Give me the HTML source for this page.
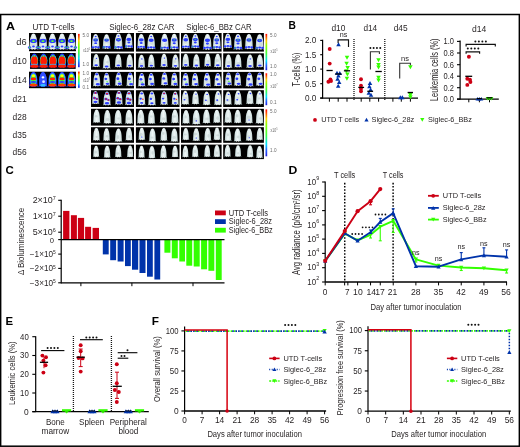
<!DOCTYPE html>
<html><head><meta charset="utf-8"><style>
html,body{margin:0;padding:0;background:#fff;}
svg{display:block;font-family:"Liberation Sans",sans-serif;will-change:transform;}
</style></head><body>
<svg width="520" height="447" viewBox="0 0 520 447">
<defs>
<linearGradient id="mg" x1="0" y1="0" x2="1" y2="0">
<stop offset="0" stop-color="#98aeae"/><stop offset="0.2" stop-color="#d4e2e2"/><stop offset="0.5" stop-color="#eef6f6"/><stop offset="0.8" stop-color="#d4e2e2"/><stop offset="1" stop-color="#98aeae"/>
</linearGradient>
<linearGradient id="cb" x1="0" y1="0" x2="0" y2="1">
<stop offset="0" stop-color="#ff0000"/><stop offset="0.08" stop-color="#ff5000"/><stop offset="0.2" stop-color="#ffd000"/><stop offset="0.32" stop-color="#90ff00"/><stop offset="0.55" stop-color="#40ff40"/><stop offset="0.74" stop-color="#00e0ff"/><stop offset="0.87" stop-color="#2060ff"/><stop offset="1" stop-color="#2020e0"/>
</linearGradient>
<filter id="soft" x="-5%" y="-5%" width="110%" height="110%"><feGaussianBlur stdDeviation="0.28"/></filter>
</defs>
<rect width="520" height="447" fill="#fff"/>
<rect x="0.65" y="14.5" width="518.7" height="431.7" fill="none" stroke="#000" stroke-width="1.5"/>
<text x="5.9" y="29.5" font-size="11.2" text-anchor="start" font-weight="bold" fill="#000"  textLength="9.01" lengthAdjust="spacingAndGlyphs">A</text>
<text x="32.4" y="30.2" font-size="8.58" text-anchor="start" font-weight="normal" fill="#231f20"  textLength="42.27" lengthAdjust="spacingAndGlyphs">UTD T-cells</text>
<text x="109.2" y="30.1" font-size="8.58" text-anchor="start" font-weight="normal" fill="#231f20"  textLength="65.37" lengthAdjust="spacingAndGlyphs">Siglec-6_28z CAR</text>
<text x="186.2" y="30.1" font-size="8.58" text-anchor="start" font-weight="normal" fill="#231f20"  textLength="65.37" lengthAdjust="spacingAndGlyphs">Siglec-6_BBz CAR</text>
<text x="26.6" y="44.8" font-size="8.8" text-anchor="end" font-weight="normal" fill="#231f20"  textLength="10.29" lengthAdjust="spacingAndGlyphs">d6</text>
<text x="26.6" y="63.8" font-size="8.8" text-anchor="end" font-weight="normal" fill="#231f20"  textLength="14.09" lengthAdjust="spacingAndGlyphs">d10</text>
<text x="26.6" y="83.2" font-size="8.8" text-anchor="end" font-weight="normal" fill="#231f20"  textLength="14.09" lengthAdjust="spacingAndGlyphs">d14</text>
<text x="26.6" y="101.9" font-size="8.8" text-anchor="end" font-weight="normal" fill="#231f20"  textLength="14.09" lengthAdjust="spacingAndGlyphs">d21</text>
<text x="26.6" y="120" font-size="8.8" text-anchor="end" font-weight="normal" fill="#231f20"  textLength="14.09" lengthAdjust="spacingAndGlyphs">d28</text>
<text x="26.6" y="137.7" font-size="8.8" text-anchor="end" font-weight="normal" fill="#231f20"  textLength="14.09" lengthAdjust="spacingAndGlyphs">d35</text>
<text x="26.6" y="154.5" font-size="8.8" text-anchor="end" font-weight="normal" fill="#231f20"  textLength="14.09" lengthAdjust="spacingAndGlyphs">d56</text>
<g filter="url(#soft)">
<rect x="91" y="33" width="43" height="18.6" fill="#000" />
<g transform="translate(95.67,34.05) scale(1.07,1.07)">
<path d="M0,0 C1.2,0 1.9,1 2.1,2.4 C2.7,3.2 3.1,5 3.3,7.5 C3.4,10 3.6,11.6 3.5,12.6 L4.1,13.9 L2.5,13.3 L1.1,14 L0,13.3 L-1.1,14 L-2.5,13.3 L-4.1,13.9 L-3.5,12.6 C-3.6,11.6 -3.4,10 -3.3,7.5 C-3.1,5 -2.7,3.2 -2.1,2.4 C-1.9,1 -1.2,0 0,0 Z" fill="url(#mg)"/>
<ellipse cx="0.01" cy="6.15" rx="1.35" ry="1.27" fill="#b4c4c4" opacity="0.45"/>
<ellipse cx="0" cy="5.6" rx="2.3" ry="1.6" fill="#2a3cff" opacity="1"/>
<ellipse cx="-2.6" cy="12.3" rx="1.3" ry="1" fill="#2a3cff" opacity="1"/>
<ellipse cx="2.6" cy="12.3" rx="1.3" ry="1" fill="#2a3cff" opacity="1"/>
<ellipse cx="0" cy="12" rx="1.4" ry="0.9" fill="#2a3cff" opacity="1"/>
<ellipse cx="0" cy="5.3" rx="0.8" ry="0.5" fill="#40ff40" opacity="0.9"/>
<ellipse cx="0" cy="8.5" rx="1.4" ry="0.9" fill="#2a3cff" opacity="1"/>
<ellipse cx="0" cy="2.2" rx="0.9" ry="0.7" fill="#2a3cff" opacity="1"/>
</g>
<g transform="translate(106.59,34.23) scale(1.05,1.05)">
<path d="M0,0 C1.2,0 1.9,1 2.1,2.4 C2.7,3.2 3.1,5 3.3,7.5 C3.4,10 3.6,11.6 3.5,12.6 L4.1,13.9 L2.5,13.3 L1.1,14 L0,13.3 L-1.1,14 L-2.5,13.3 L-4.1,13.9 L-3.5,12.6 C-3.6,11.6 -3.4,10 -3.3,7.5 C-3.1,5 -2.7,3.2 -2.1,2.4 C-1.9,1 -1.2,0 0,0 Z" fill="url(#mg)"/>
<ellipse cx="0.12" cy="7.59" rx="1.78" ry="1.25" fill="#b4c4c4" opacity="0.45"/>
<ellipse cx="0" cy="5.6" rx="2.3" ry="1.6" fill="#2a3cff" opacity="1"/>
<ellipse cx="-2.6" cy="12.3" rx="1.3" ry="1" fill="#2a3cff" opacity="1"/>
<ellipse cx="2.6" cy="12.3" rx="1.3" ry="1" fill="#2a3cff" opacity="1"/>
<ellipse cx="0" cy="12" rx="1.4" ry="0.9" fill="#2a3cff" opacity="1"/>
<ellipse cx="0" cy="5.3" rx="0.8" ry="0.5" fill="#40ff40" opacity="0.9"/>
<ellipse cx="-2.4" cy="12.3" rx="0.6" ry="0.5" fill="#40ff40" opacity="1"/>
</g>
<g transform="translate(118.44,33.54) scale(1.13,1.13)">
<path d="M0,0 C1.2,0 1.9,1 2.1,2.4 C2.7,3.2 3.1,5 3.3,7.5 C3.4,10 3.6,11.6 3.5,12.6 L4.1,13.9 L2.5,13.3 L1.1,14 L0,13.3 L-1.1,14 L-2.5,13.3 L-4.1,13.9 L-3.5,12.6 C-3.6,11.6 -3.4,10 -3.3,7.5 C-3.1,5 -2.7,3.2 -2.1,2.4 C-1.9,1 -1.2,0 0,0 Z" fill="url(#mg)"/>
<ellipse cx="0.13" cy="8.56" rx="1.3" ry="1.75" fill="#b4c4c4" opacity="0.45"/>
<ellipse cx="0" cy="5.6" rx="2.3" ry="1.6" fill="#2a3cff" opacity="1"/>
<ellipse cx="-2.6" cy="12.3" rx="1.3" ry="1" fill="#2a3cff" opacity="1"/>
<ellipse cx="2.6" cy="12.3" rx="1.3" ry="1" fill="#2a3cff" opacity="1"/>
<ellipse cx="0" cy="12" rx="1.4" ry="0.9" fill="#2a3cff" opacity="1"/>
<ellipse cx="0" cy="5.3" rx="0.8" ry="0.5" fill="#40ff40" opacity="0.9"/>
<ellipse cx="-2.4" cy="12.3" rx="0.6" ry="0.5" fill="#40ff40" opacity="1"/>
<ellipse cx="0" cy="2.2" rx="0.9" ry="0.7" fill="#2a3cff" opacity="1"/>
</g>
<g transform="translate(128.87,33.61) scale(1.04,1.04)">
<path d="M0,0 C1.2,0 1.9,1 2.1,2.4 C2.7,3.2 3.1,5 3.3,7.5 C3.4,10 3.6,11.6 3.5,12.6 L4.1,13.9 L2.5,13.3 L1.1,14 L0,13.3 L-1.1,14 L-2.5,13.3 L-4.1,13.9 L-3.5,12.6 C-3.6,11.6 -3.4,10 -3.3,7.5 C-3.1,5 -2.7,3.2 -2.1,2.4 C-1.9,1 -1.2,0 0,0 Z" fill="url(#mg)"/>
<ellipse cx="-0.07" cy="7.2" rx="1.64" ry="1.9" fill="#b4c4c4" opacity="0.45"/>
<ellipse cx="0" cy="5.6" rx="2.3" ry="1.6" fill="#2a3cff" opacity="1"/>
<ellipse cx="-2.6" cy="12.3" rx="1.3" ry="1" fill="#2a3cff" opacity="1"/>
<ellipse cx="2.6" cy="12.3" rx="1.3" ry="1" fill="#2a3cff" opacity="1"/>
<ellipse cx="0" cy="12" rx="1.4" ry="0.9" fill="#2a3cff" opacity="1"/>
<ellipse cx="-2.4" cy="12.3" rx="0.6" ry="0.5" fill="#40ff40" opacity="1"/>
<ellipse cx="0" cy="8.5" rx="1.4" ry="0.9" fill="#2a3cff" opacity="1"/>
</g>
<rect x="135.9" y="33" width="43.6" height="18.6" fill="#000" />
<g transform="translate(141.24,33.93) scale(1.06,1.06)">
<path d="M0,0 C1.2,0 1.9,1 2.1,2.4 C2.7,3.2 3.1,5 3.3,7.5 C3.4,10 3.6,11.6 3.5,12.6 L4.1,13.9 L2.5,13.3 L1.1,14 L0,13.3 L-1.1,14 L-2.5,13.3 L-4.1,13.9 L-3.5,12.6 C-3.6,11.6 -3.4,10 -3.3,7.5 C-3.1,5 -2.7,3.2 -2.1,2.4 C-1.9,1 -1.2,0 0,0 Z" fill="url(#mg)"/>
<ellipse cx="-0.61" cy="7.67" rx="1.61" ry="1.35" fill="#b4c4c4" opacity="0.45"/>
<ellipse cx="0" cy="5.6" rx="2.3" ry="1.6" fill="#2a3cff" opacity="1"/>
<ellipse cx="-2.6" cy="12.3" rx="1.3" ry="1" fill="#2a3cff" opacity="1"/>
<ellipse cx="2.6" cy="12.3" rx="1.3" ry="1" fill="#2a3cff" opacity="1"/>
<ellipse cx="0" cy="12" rx="1.4" ry="0.9" fill="#2a3cff" opacity="1"/>
<ellipse cx="0" cy="8.5" rx="1.4" ry="0.9" fill="#2a3cff" opacity="1"/>
</g>
<g transform="translate(151.17,34.07) scale(1.09,1.09)">
<path d="M0,0 C1.2,0 1.9,1 2.1,2.4 C2.7,3.2 3.1,5 3.3,7.5 C3.4,10 3.6,11.6 3.5,12.6 L4.1,13.9 L2.5,13.3 L1.1,14 L0,13.3 L-1.1,14 L-2.5,13.3 L-4.1,13.9 L-3.5,12.6 C-3.6,11.6 -3.4,10 -3.3,7.5 C-3.1,5 -2.7,3.2 -2.1,2.4 C-1.9,1 -1.2,0 0,0 Z" fill="url(#mg)"/>
<ellipse cx="0.31" cy="8.38" rx="1.46" ry="1.66" fill="#b4c4c4" opacity="0.45"/>
<ellipse cx="0" cy="5.6" rx="2.3" ry="1.6" fill="#2a3cff" opacity="1"/>
<ellipse cx="-2.6" cy="12.3" rx="1.3" ry="1" fill="#2a3cff" opacity="1"/>
<ellipse cx="2.6" cy="12.3" rx="1.3" ry="1" fill="#2a3cff" opacity="1"/>
<ellipse cx="0" cy="12" rx="1.4" ry="0.9" fill="#2a3cff" opacity="1"/>
<ellipse cx="0" cy="2.2" rx="0.9" ry="0.7" fill="#2a3cff" opacity="1"/>
</g>
<g transform="translate(164.64,33.87) scale(1.13,1.13)">
<path d="M0,0 C1.2,0 1.9,1 2.1,2.4 C2.7,3.2 3.1,5 3.3,7.5 C3.4,10 3.6,11.6 3.5,12.6 L4.1,13.9 L2.5,13.3 L1.1,14 L0,13.3 L-1.1,14 L-2.5,13.3 L-4.1,13.9 L-3.5,12.6 C-3.6,11.6 -3.4,10 -3.3,7.5 C-3.1,5 -2.7,3.2 -2.1,2.4 C-1.9,1 -1.2,0 0,0 Z" fill="url(#mg)"/>
<ellipse cx="0.79" cy="9.29" rx="1.23" ry="1.59" fill="#b4c4c4" opacity="0.45"/>
<ellipse cx="0" cy="5.6" rx="2.3" ry="1.6" fill="#2a3cff" opacity="1"/>
<ellipse cx="-2.6" cy="12.3" rx="1.3" ry="1" fill="#2a3cff" opacity="1"/>
<ellipse cx="2.6" cy="12.3" rx="1.3" ry="1" fill="#2a3cff" opacity="1"/>
<ellipse cx="0" cy="12" rx="1.4" ry="0.9" fill="#2a3cff" opacity="1"/>
<ellipse cx="-2.4" cy="12.3" rx="0.6" ry="0.5" fill="#40ff40" opacity="1"/>
</g>
<g transform="translate(174.25,33.86) scale(1.11,1.11)">
<path d="M0,0 C1.2,0 1.9,1 2.1,2.4 C2.7,3.2 3.1,5 3.3,7.5 C3.4,10 3.6,11.6 3.5,12.6 L4.1,13.9 L2.5,13.3 L1.1,14 L0,13.3 L-1.1,14 L-2.5,13.3 L-4.1,13.9 L-3.5,12.6 C-3.6,11.6 -3.4,10 -3.3,7.5 C-3.1,5 -2.7,3.2 -2.1,2.4 C-1.9,1 -1.2,0 0,0 Z" fill="url(#mg)"/>
<ellipse cx="-0.59" cy="6.99" rx="1.31" ry="2.07" fill="#b4c4c4" opacity="0.45"/>
<ellipse cx="0" cy="5.6" rx="2.3" ry="1.6" fill="#2a3cff" opacity="1"/>
<ellipse cx="-2.6" cy="12.3" rx="1.3" ry="1" fill="#2a3cff" opacity="1"/>
<ellipse cx="2.6" cy="12.3" rx="1.3" ry="1" fill="#2a3cff" opacity="1"/>
<ellipse cx="0" cy="12" rx="1.4" ry="0.9" fill="#2a3cff" opacity="1"/>
<ellipse cx="0" cy="5.3" rx="0.8" ry="0.5" fill="#40ff40" opacity="0.9"/>
<ellipse cx="-2.4" cy="12.3" rx="0.6" ry="0.5" fill="#40ff40" opacity="1"/>
<ellipse cx="0" cy="8.5" rx="1.4" ry="0.9" fill="#2a3cff" opacity="1"/>
</g>
<rect x="181" y="33" width="40.6" height="18.6" fill="#000" />
<g transform="translate(185.8,33.95) scale(1.04,1.04)">
<path d="M0,0 C1.2,0 1.9,1 2.1,2.4 C2.7,3.2 3.1,5 3.3,7.5 C3.4,10 3.6,11.6 3.5,12.6 L4.1,13.9 L2.5,13.3 L1.1,14 L0,13.3 L-1.1,14 L-2.5,13.3 L-4.1,13.9 L-3.5,12.6 C-3.6,11.6 -3.4,10 -3.3,7.5 C-3.1,5 -2.7,3.2 -2.1,2.4 C-1.9,1 -1.2,0 0,0 Z" fill="url(#mg)"/>
<ellipse cx="-0.14" cy="7.44" rx="1.71" ry="2.16" fill="#b4c4c4" opacity="0.45"/>
<ellipse cx="0" cy="5.6" rx="2.3" ry="1.6" fill="#2a3cff" opacity="1"/>
<ellipse cx="-2.6" cy="12.3" rx="1.3" ry="1" fill="#2a3cff" opacity="1"/>
<ellipse cx="2.6" cy="12.3" rx="1.3" ry="1" fill="#2a3cff" opacity="1"/>
<ellipse cx="0" cy="12" rx="1.4" ry="0.9" fill="#2a3cff" opacity="1"/>
<ellipse cx="0" cy="2.2" rx="0.9" ry="0.7" fill="#2a3cff" opacity="1"/>
</g>
<g transform="translate(195.37,33.63) scale(1.05,1.05)">
<path d="M0,0 C1.2,0 1.9,1 2.1,2.4 C2.7,3.2 3.1,5 3.3,7.5 C3.4,10 3.6,11.6 3.5,12.6 L4.1,13.9 L2.5,13.3 L1.1,14 L0,13.3 L-1.1,14 L-2.5,13.3 L-4.1,13.9 L-3.5,12.6 C-3.6,11.6 -3.4,10 -3.3,7.5 C-3.1,5 -2.7,3.2 -2.1,2.4 C-1.9,1 -1.2,0 0,0 Z" fill="url(#mg)"/>
<ellipse cx="-0.79" cy="7.68" rx="1.3" ry="1.77" fill="#b4c4c4" opacity="0.45"/>
<ellipse cx="0" cy="5.6" rx="2.3" ry="1.6" fill="#2a3cff" opacity="1"/>
<ellipse cx="-2.6" cy="12.3" rx="1.3" ry="1" fill="#2a3cff" opacity="1"/>
<ellipse cx="2.6" cy="12.3" rx="1.3" ry="1" fill="#2a3cff" opacity="1"/>
<ellipse cx="0" cy="12" rx="1.4" ry="0.9" fill="#2a3cff" opacity="1"/>
<ellipse cx="0" cy="5.3" rx="0.8" ry="0.5" fill="#40ff40" opacity="0.9"/>
<ellipse cx="-2.4" cy="12.3" rx="0.6" ry="0.5" fill="#40ff40" opacity="1"/>
<ellipse cx="0" cy="8.5" rx="1.4" ry="0.9" fill="#2a3cff" opacity="1"/>
<ellipse cx="0" cy="2.2" rx="0.9" ry="0.7" fill="#2a3cff" opacity="1"/>
</g>
<g transform="translate(207.45,33.92) scale(1.14,1.14)">
<path d="M0,0 C1.2,0 1.9,1 2.1,2.4 C2.7,3.2 3.1,5 3.3,7.5 C3.4,10 3.6,11.6 3.5,12.6 L4.1,13.9 L2.5,13.3 L1.1,14 L0,13.3 L-1.1,14 L-2.5,13.3 L-4.1,13.9 L-3.5,12.6 C-3.6,11.6 -3.4,10 -3.3,7.5 C-3.1,5 -2.7,3.2 -2.1,2.4 C-1.9,1 -1.2,0 0,0 Z" fill="url(#mg)"/>
<ellipse cx="0.45" cy="9.5" rx="1.64" ry="1.59" fill="#b4c4c4" opacity="0.45"/>
<ellipse cx="0" cy="5.6" rx="2.3" ry="1.6" fill="#2a3cff" opacity="1"/>
<ellipse cx="-2.6" cy="12.3" rx="1.3" ry="1" fill="#2a3cff" opacity="1"/>
<ellipse cx="2.6" cy="12.3" rx="1.3" ry="1" fill="#2a3cff" opacity="1"/>
<ellipse cx="0" cy="12" rx="1.4" ry="0.9" fill="#2a3cff" opacity="1"/>
<ellipse cx="0" cy="8.5" rx="1.4" ry="0.9" fill="#2a3cff" opacity="1"/>
</g>
<g transform="translate(216.78,34.03) scale(1.08,1.08)">
<path d="M0,0 C1.2,0 1.9,1 2.1,2.4 C2.7,3.2 3.1,5 3.3,7.5 C3.4,10 3.6,11.6 3.5,12.6 L4.1,13.9 L2.5,13.3 L1.1,14 L0,13.3 L-1.1,14 L-2.5,13.3 L-4.1,13.9 L-3.5,12.6 C-3.6,11.6 -3.4,10 -3.3,7.5 C-3.1,5 -2.7,3.2 -2.1,2.4 C-1.9,1 -1.2,0 0,0 Z" fill="url(#mg)"/>
<ellipse cx="-0.26" cy="6.21" rx="1" ry="1.35" fill="#b4c4c4" opacity="0.45"/>
<ellipse cx="0" cy="5.6" rx="2.3" ry="1.6" fill="#2a3cff" opacity="1"/>
<ellipse cx="-2.6" cy="12.3" rx="1.3" ry="1" fill="#2a3cff" opacity="1"/>
<ellipse cx="2.6" cy="12.3" rx="1.3" ry="1" fill="#2a3cff" opacity="1"/>
<ellipse cx="0" cy="12" rx="1.4" ry="0.9" fill="#2a3cff" opacity="1"/>
<ellipse cx="0" cy="5.3" rx="0.8" ry="0.5" fill="#40ff40" opacity="0.9"/>
<ellipse cx="-2.4" cy="12.3" rx="0.6" ry="0.5" fill="#40ff40" opacity="1"/>
<ellipse cx="0" cy="8.5" rx="1.4" ry="0.9" fill="#2a3cff" opacity="1"/>
<ellipse cx="0" cy="2.2" rx="0.9" ry="0.7" fill="#2a3cff" opacity="1"/>
</g>
<rect x="223.2" y="33" width="40.7" height="18.6" fill="#000" />
<g transform="translate(227.89,33.43) scale(1.05,1.05)">
<path d="M0,0 C1.2,0 1.9,1 2.1,2.4 C2.7,3.2 3.1,5 3.3,7.5 C3.4,10 3.6,11.6 3.5,12.6 L4.1,13.9 L2.5,13.3 L1.1,14 L0,13.3 L-1.1,14 L-2.5,13.3 L-4.1,13.9 L-3.5,12.6 C-3.6,11.6 -3.4,10 -3.3,7.5 C-3.1,5 -2.7,3.2 -2.1,2.4 C-1.9,1 -1.2,0 0,0 Z" fill="url(#mg)"/>
<ellipse cx="-0.24" cy="7.46" rx="1.1" ry="2.05" fill="#b4c4c4" opacity="0.45"/>
<ellipse cx="0" cy="5.6" rx="2.3" ry="1.6" fill="#2a3cff" opacity="1"/>
<ellipse cx="-2.6" cy="12.3" rx="1.3" ry="1" fill="#2a3cff" opacity="1"/>
<ellipse cx="2.6" cy="12.3" rx="1.3" ry="1" fill="#2a3cff" opacity="1"/>
<ellipse cx="0" cy="12" rx="1.4" ry="0.9" fill="#2a3cff" opacity="1"/>
<ellipse cx="0" cy="8.5" rx="1.4" ry="0.9" fill="#2a3cff" opacity="1"/>
<ellipse cx="0" cy="2.2" rx="0.9" ry="0.7" fill="#2a3cff" opacity="1"/>
</g>
<g transform="translate(238.01,33.88) scale(1.14,1.14)">
<path d="M0,0 C1.2,0 1.9,1 2.1,2.4 C2.7,3.2 3.1,5 3.3,7.5 C3.4,10 3.6,11.6 3.5,12.6 L4.1,13.9 L2.5,13.3 L1.1,14 L0,13.3 L-1.1,14 L-2.5,13.3 L-4.1,13.9 L-3.5,12.6 C-3.6,11.6 -3.4,10 -3.3,7.5 C-3.1,5 -2.7,3.2 -2.1,2.4 C-1.9,1 -1.2,0 0,0 Z" fill="url(#mg)"/>
<ellipse cx="0.53" cy="6.65" rx="1.02" ry="2.15" fill="#b4c4c4" opacity="0.45"/>
<ellipse cx="0" cy="5.6" rx="2.3" ry="1.6" fill="#2a3cff" opacity="1"/>
<ellipse cx="-2.6" cy="12.3" rx="1.3" ry="1" fill="#2a3cff" opacity="1"/>
<ellipse cx="2.6" cy="12.3" rx="1.3" ry="1" fill="#2a3cff" opacity="1"/>
<ellipse cx="0" cy="12" rx="1.4" ry="0.9" fill="#2a3cff" opacity="1"/>
<ellipse cx="0" cy="5.3" rx="0.8" ry="0.5" fill="#40ff40" opacity="0.9"/>
<ellipse cx="-2.4" cy="12.3" rx="0.6" ry="0.5" fill="#40ff40" opacity="1"/>
<ellipse cx="0" cy="8.5" rx="1.4" ry="0.9" fill="#2a3cff" opacity="1"/>
<ellipse cx="0" cy="2.2" rx="0.9" ry="0.7" fill="#2a3cff" opacity="1"/>
</g>
<g transform="translate(248.96,33.94) scale(1.09,1.09)">
<path d="M0,0 C1.2,0 1.9,1 2.1,2.4 C2.7,3.2 3.1,5 3.3,7.5 C3.4,10 3.6,11.6 3.5,12.6 L4.1,13.9 L2.5,13.3 L1.1,14 L0,13.3 L-1.1,14 L-2.5,13.3 L-4.1,13.9 L-3.5,12.6 C-3.6,11.6 -3.4,10 -3.3,7.5 C-3.1,5 -2.7,3.2 -2.1,2.4 C-1.9,1 -1.2,0 0,0 Z" fill="url(#mg)"/>
<ellipse cx="0.31" cy="7.04" rx="1.29" ry="1.37" fill="#b4c4c4" opacity="0.45"/>
<ellipse cx="0" cy="5.6" rx="2.3" ry="1.6" fill="#2a3cff" opacity="1"/>
<ellipse cx="-2.6" cy="12.3" rx="1.3" ry="1" fill="#2a3cff" opacity="1"/>
<ellipse cx="2.6" cy="12.3" rx="1.3" ry="1" fill="#2a3cff" opacity="1"/>
<ellipse cx="0" cy="12" rx="1.4" ry="0.9" fill="#2a3cff" opacity="1"/>
<ellipse cx="0" cy="5.3" rx="0.8" ry="0.5" fill="#40ff40" opacity="0.9"/>
</g>
<g transform="translate(259.67,34.18) scale(1.12,1.12)">
<path d="M0,0 C1.2,0 1.9,1 2.1,2.4 C2.7,3.2 3.1,5 3.3,7.5 C3.4,10 3.6,11.6 3.5,12.6 L4.1,13.9 L2.5,13.3 L1.1,14 L0,13.3 L-1.1,14 L-2.5,13.3 L-4.1,13.9 L-3.5,12.6 C-3.6,11.6 -3.4,10 -3.3,7.5 C-3.1,5 -2.7,3.2 -2.1,2.4 C-1.9,1 -1.2,0 0,0 Z" fill="url(#mg)"/>
<ellipse cx="0.56" cy="9.22" rx="1.65" ry="1.94" fill="#b4c4c4" opacity="0.45"/>
<ellipse cx="0" cy="5.6" rx="2.3" ry="1.6" fill="#2a3cff" opacity="1"/>
<ellipse cx="-2.6" cy="12.3" rx="1.3" ry="1" fill="#2a3cff" opacity="1"/>
<ellipse cx="2.6" cy="12.3" rx="1.3" ry="1" fill="#2a3cff" opacity="1"/>
<ellipse cx="0" cy="12" rx="1.4" ry="0.9" fill="#2a3cff" opacity="1"/>
<ellipse cx="0" cy="5.3" rx="0.8" ry="0.5" fill="#40ff40" opacity="0.9"/>
<ellipse cx="-2.4" cy="12.3" rx="0.6" ry="0.5" fill="#40ff40" opacity="1"/>
</g>
<rect x="91" y="53.3" width="43" height="16.5" fill="#000" />
<g transform="translate(96.18,54.06) scale(0.94,0.94)">
<path d="M0,0 C1.2,0 1.9,1 2.1,2.4 C2.7,3.2 3.1,5 3.3,7.5 C3.4,10 3.6,11.6 3.5,12.6 L4.1,13.9 L2.5,13.3 L1.1,14 L0,13.3 L-1.1,14 L-2.5,13.3 L-4.1,13.9 L-3.5,12.6 C-3.6,11.6 -3.4,10 -3.3,7.5 C-3.1,5 -2.7,3.2 -2.1,2.4 C-1.9,1 -1.2,0 0,0 Z" fill="url(#mg)"/>
<ellipse cx="-0.76" cy="7.12" rx="1.21" ry="1.89" fill="#b4c4c4" opacity="0.45"/>
<ellipse cx="0" cy="11.8" rx="1.9" ry="1" fill="#2a3cff" opacity="1"/>
<ellipse cx="0.3" cy="4.5" rx="0.8" ry="0.7" fill="#2a3cff" opacity="1"/>
</g>
<g transform="translate(106.62,54.64) scale(1.01,1.01)">
<path d="M0,0 C1.2,0 1.9,1 2.1,2.4 C2.7,3.2 3.1,5 3.3,7.5 C3.4,10 3.6,11.6 3.5,12.6 L4.1,13.9 L2.5,13.3 L1.1,14 L0,13.3 L-1.1,14 L-2.5,13.3 L-4.1,13.9 L-3.5,12.6 C-3.6,11.6 -3.4,10 -3.3,7.5 C-3.1,5 -2.7,3.2 -2.1,2.4 C-1.9,1 -1.2,0 0,0 Z" fill="url(#mg)"/>
<ellipse cx="0.73" cy="7.46" rx="1.18" ry="1.43" fill="#b4c4c4" opacity="0.45"/>
<ellipse cx="0" cy="11.8" rx="1.9" ry="1" fill="#2a3cff" opacity="1"/>
</g>
<g transform="translate(118.32,54.32) scale(0.94,0.94)">
<path d="M0,0 C1.2,0 1.9,1 2.1,2.4 C2.7,3.2 3.1,5 3.3,7.5 C3.4,10 3.6,11.6 3.5,12.6 L4.1,13.9 L2.5,13.3 L1.1,14 L0,13.3 L-1.1,14 L-2.5,13.3 L-4.1,13.9 L-3.5,12.6 C-3.6,11.6 -3.4,10 -3.3,7.5 C-3.1,5 -2.7,3.2 -2.1,2.4 C-1.9,1 -1.2,0 0,0 Z" fill="url(#mg)"/>
<ellipse cx="0.54" cy="7.92" rx="1.52" ry="2" fill="#b4c4c4" opacity="0.45"/>
<ellipse cx="0" cy="11.8" rx="1.9" ry="1" fill="#2a3cff" opacity="1"/>
</g>
<g transform="translate(129.71,54.61) scale(0.93,0.93)">
<path d="M0,0 C1.2,0 1.9,1 2.1,2.4 C2.7,3.2 3.1,5 3.3,7.5 C3.4,10 3.6,11.6 3.5,12.6 L4.1,13.9 L2.5,13.3 L1.1,14 L0,13.3 L-1.1,14 L-2.5,13.3 L-4.1,13.9 L-3.5,12.6 C-3.6,11.6 -3.4,10 -3.3,7.5 C-3.1,5 -2.7,3.2 -2.1,2.4 C-1.9,1 -1.2,0 0,0 Z" fill="url(#mg)"/>
<ellipse cx="0.4" cy="7.91" rx="1.14" ry="1.99" fill="#b4c4c4" opacity="0.45"/>
<ellipse cx="0" cy="11.8" rx="1.9" ry="1" fill="#2a3cff" opacity="1"/>
</g>
<rect x="135.9" y="53.3" width="43.6" height="16.5" fill="#000" />
<g transform="translate(141.55,54.67) scale(0.95,0.95)">
<path d="M0,0 C1.2,0 1.9,1 2.1,2.4 C2.7,3.2 3.1,5 3.3,7.5 C3.4,10 3.6,11.6 3.5,12.6 L4.1,13.9 L2.5,13.3 L1.1,14 L0,13.3 L-1.1,14 L-2.5,13.3 L-4.1,13.9 L-3.5,12.6 C-3.6,11.6 -3.4,10 -3.3,7.5 C-3.1,5 -2.7,3.2 -2.1,2.4 C-1.9,1 -1.2,0 0,0 Z" fill="url(#mg)"/>
<ellipse cx="-0.16" cy="9.79" rx="1.58" ry="1.37" fill="#b4c4c4" opacity="0.45"/>
<ellipse cx="0" cy="11.8" rx="1.9" ry="1" fill="#2a3cff" opacity="1"/>
<ellipse cx="0.3" cy="4.5" rx="0.8" ry="0.7" fill="#2a3cff" opacity="1"/>
</g>
<g transform="translate(151.33,54.6) scale(0.93,0.93)">
<path d="M0,0 C1.2,0 1.9,1 2.1,2.4 C2.7,3.2 3.1,5 3.3,7.5 C3.4,10 3.6,11.6 3.5,12.6 L4.1,13.9 L2.5,13.3 L1.1,14 L0,13.3 L-1.1,14 L-2.5,13.3 L-4.1,13.9 L-3.5,12.6 C-3.6,11.6 -3.4,10 -3.3,7.5 C-3.1,5 -2.7,3.2 -2.1,2.4 C-1.9,1 -1.2,0 0,0 Z" fill="url(#mg)"/>
<ellipse cx="-0.57" cy="9.31" rx="1.78" ry="1.86" fill="#b4c4c4" opacity="0.45"/>
<ellipse cx="0" cy="11.8" rx="1.9" ry="1" fill="#2a3cff" opacity="1"/>
</g>
<g transform="translate(164.09,53.83) scale(0.95,0.95)">
<path d="M0,0 C1.2,0 1.9,1 2.1,2.4 C2.7,3.2 3.1,5 3.3,7.5 C3.4,10 3.6,11.6 3.5,12.6 L4.1,13.9 L2.5,13.3 L1.1,14 L0,13.3 L-1.1,14 L-2.5,13.3 L-4.1,13.9 L-3.5,12.6 C-3.6,11.6 -3.4,10 -3.3,7.5 C-3.1,5 -2.7,3.2 -2.1,2.4 C-1.9,1 -1.2,0 0,0 Z" fill="url(#mg)"/>
<ellipse cx="0.75" cy="8.6" rx="1.42" ry="2.13" fill="#b4c4c4" opacity="0.45"/>
<ellipse cx="0" cy="11.8" rx="1.9" ry="1" fill="#2a3cff" opacity="1"/>
<ellipse cx="0.3" cy="4.5" rx="0.8" ry="0.7" fill="#2a3cff" opacity="1"/>
</g>
<g transform="translate(175.44,54.53) scale(0.96,0.96)">
<path d="M0,0 C1.2,0 1.9,1 2.1,2.4 C2.7,3.2 3.1,5 3.3,7.5 C3.4,10 3.6,11.6 3.5,12.6 L4.1,13.9 L2.5,13.3 L1.1,14 L0,13.3 L-1.1,14 L-2.5,13.3 L-4.1,13.9 L-3.5,12.6 C-3.6,11.6 -3.4,10 -3.3,7.5 C-3.1,5 -2.7,3.2 -2.1,2.4 C-1.9,1 -1.2,0 0,0 Z" fill="url(#mg)"/>
<ellipse cx="-0.4" cy="7.17" rx="1.19" ry="1.79" fill="#b4c4c4" opacity="0.45"/>
<ellipse cx="0" cy="11.8" rx="1.9" ry="1" fill="#2a3cff" opacity="1"/>
<ellipse cx="0.3" cy="4.5" rx="0.8" ry="0.7" fill="#2a3cff" opacity="1"/>
</g>
<rect x="181" y="53.3" width="40.6" height="16.5" fill="#000" />
<g transform="translate(185.76,53.83) scale(0.94,0.94)">
<path d="M0,0 C1.2,0 1.9,1 2.1,2.4 C2.7,3.2 3.1,5 3.3,7.5 C3.4,10 3.6,11.6 3.5,12.6 L4.1,13.9 L2.5,13.3 L1.1,14 L0,13.3 L-1.1,14 L-2.5,13.3 L-4.1,13.9 L-3.5,12.6 C-3.6,11.6 -3.4,10 -3.3,7.5 C-3.1,5 -2.7,3.2 -2.1,2.4 C-1.9,1 -1.2,0 0,0 Z" fill="url(#mg)"/>
<ellipse cx="-0.23" cy="7.83" rx="1.47" ry="2.1" fill="#b4c4c4" opacity="0.45"/>
<ellipse cx="0" cy="11.8" rx="1.9" ry="1" fill="#2a3cff" opacity="1"/>
</g>
<g transform="translate(196.4,54.2) scale(0.96,0.96)">
<path d="M0,0 C1.2,0 1.9,1 2.1,2.4 C2.7,3.2 3.1,5 3.3,7.5 C3.4,10 3.6,11.6 3.5,12.6 L4.1,13.9 L2.5,13.3 L1.1,14 L0,13.3 L-1.1,14 L-2.5,13.3 L-4.1,13.9 L-3.5,12.6 C-3.6,11.6 -3.4,10 -3.3,7.5 C-3.1,5 -2.7,3.2 -2.1,2.4 C-1.9,1 -1.2,0 0,0 Z" fill="url(#mg)"/>
<ellipse cx="0.04" cy="6.07" rx="1.35" ry="1.38" fill="#b4c4c4" opacity="0.45"/>
<ellipse cx="0" cy="11.8" rx="1.9" ry="1" fill="#2a3cff" opacity="1"/>
</g>
<g transform="translate(207.61,53.87) scale(0.92,0.92)">
<path d="M0,0 C1.2,0 1.9,1 2.1,2.4 C2.7,3.2 3.1,5 3.3,7.5 C3.4,10 3.6,11.6 3.5,12.6 L4.1,13.9 L2.5,13.3 L1.1,14 L0,13.3 L-1.1,14 L-2.5,13.3 L-4.1,13.9 L-3.5,12.6 C-3.6,11.6 -3.4,10 -3.3,7.5 C-3.1,5 -2.7,3.2 -2.1,2.4 C-1.9,1 -1.2,0 0,0 Z" fill="url(#mg)"/>
<ellipse cx="0.36" cy="8.23" rx="1.26" ry="1.72" fill="#b4c4c4" opacity="0.45"/>
<ellipse cx="0" cy="11.8" rx="1.9" ry="1" fill="#2a3cff" opacity="1"/>
</g>
<g transform="translate(217.73,53.81) scale(0.97,0.97)">
<path d="M0,0 C1.2,0 1.9,1 2.1,2.4 C2.7,3.2 3.1,5 3.3,7.5 C3.4,10 3.6,11.6 3.5,12.6 L4.1,13.9 L2.5,13.3 L1.1,14 L0,13.3 L-1.1,14 L-2.5,13.3 L-4.1,13.9 L-3.5,12.6 C-3.6,11.6 -3.4,10 -3.3,7.5 C-3.1,5 -2.7,3.2 -2.1,2.4 C-1.9,1 -1.2,0 0,0 Z" fill="url(#mg)"/>
<ellipse cx="-0.4" cy="7.11" rx="1.62" ry="1.71" fill="#b4c4c4" opacity="0.45"/>
<ellipse cx="0" cy="11.8" rx="1.9" ry="1" fill="#2a3cff" opacity="1"/>
</g>
<rect x="223.2" y="53.3" width="40.7" height="16.5" fill="#000" />
<g transform="translate(228.45,54.61) scale(0.97,0.97)">
<path d="M0,0 C1.2,0 1.9,1 2.1,2.4 C2.7,3.2 3.1,5 3.3,7.5 C3.4,10 3.6,11.6 3.5,12.6 L4.1,13.9 L2.5,13.3 L1.1,14 L0,13.3 L-1.1,14 L-2.5,13.3 L-4.1,13.9 L-3.5,12.6 C-3.6,11.6 -3.4,10 -3.3,7.5 C-3.1,5 -2.7,3.2 -2.1,2.4 C-1.9,1 -1.2,0 0,0 Z" fill="url(#mg)"/>
<ellipse cx="0.18" cy="8.02" rx="1.41" ry="1.89" fill="#b4c4c4" opacity="0.45"/>
<ellipse cx="0" cy="11.8" rx="1.9" ry="1" fill="#2a3cff" opacity="1"/>
</g>
<g transform="translate(238.1,54.18) scale(0.96,0.96)">
<path d="M0,0 C1.2,0 1.9,1 2.1,2.4 C2.7,3.2 3.1,5 3.3,7.5 C3.4,10 3.6,11.6 3.5,12.6 L4.1,13.9 L2.5,13.3 L1.1,14 L0,13.3 L-1.1,14 L-2.5,13.3 L-4.1,13.9 L-3.5,12.6 C-3.6,11.6 -3.4,10 -3.3,7.5 C-3.1,5 -2.7,3.2 -2.1,2.4 C-1.9,1 -1.2,0 0,0 Z" fill="url(#mg)"/>
<ellipse cx="0.32" cy="9.51" rx="1.75" ry="1.46" fill="#b4c4c4" opacity="0.45"/>
<ellipse cx="0" cy="11.8" rx="1.9" ry="1" fill="#2a3cff" opacity="1"/>
</g>
<g transform="translate(250.07,54.54) scale(0.97,0.97)">
<path d="M0,0 C1.2,0 1.9,1 2.1,2.4 C2.7,3.2 3.1,5 3.3,7.5 C3.4,10 3.6,11.6 3.5,12.6 L4.1,13.9 L2.5,13.3 L1.1,14 L0,13.3 L-1.1,14 L-2.5,13.3 L-4.1,13.9 L-3.5,12.6 C-3.6,11.6 -3.4,10 -3.3,7.5 C-3.1,5 -2.7,3.2 -2.1,2.4 C-1.9,1 -1.2,0 0,0 Z" fill="url(#mg)"/>
<ellipse cx="-0.61" cy="7.77" rx="1.06" ry="1.44" fill="#b4c4c4" opacity="0.45"/>
<ellipse cx="0" cy="11.8" rx="1.9" ry="1" fill="#2a3cff" opacity="1"/>
<ellipse cx="0.3" cy="4.5" rx="0.8" ry="0.7" fill="#2a3cff" opacity="1"/>
</g>
<g transform="translate(259.86,54.48) scale(0.93,0.93)">
<path d="M0,0 C1.2,0 1.9,1 2.1,2.4 C2.7,3.2 3.1,5 3.3,7.5 C3.4,10 3.6,11.6 3.5,12.6 L4.1,13.9 L2.5,13.3 L1.1,14 L0,13.3 L-1.1,14 L-2.5,13.3 L-4.1,13.9 L-3.5,12.6 C-3.6,11.6 -3.4,10 -3.3,7.5 C-3.1,5 -2.7,3.2 -2.1,2.4 C-1.9,1 -1.2,0 0,0 Z" fill="url(#mg)"/>
<ellipse cx="-0.55" cy="8.86" rx="1.53" ry="1.34" fill="#b4c4c4" opacity="0.45"/>
<ellipse cx="0" cy="11.8" rx="1.9" ry="1" fill="#2a3cff" opacity="1"/>
</g>
<rect x="91" y="71.9" width="43" height="16.5" fill="#000" />
<g transform="translate(96.81,72.52) scale(1,1)">
<path d="M0,0 C1.2,0 1.9,1 2.1,2.4 C2.7,3.2 3.1,5 3.3,7.5 C3.4,10 3.6,11.6 3.5,12.6 L4.1,13.9 L2.5,13.3 L1.1,14 L0,13.3 L-1.1,14 L-2.5,13.3 L-4.1,13.9 L-3.5,12.6 C-3.6,11.6 -3.4,10 -3.3,7.5 C-3.1,5 -2.7,3.2 -2.1,2.4 C-1.9,1 -1.2,0 0,0 Z" fill="url(#mg)"/>
<ellipse cx="-0.16" cy="7.95" rx="1.79" ry="2.03" fill="#b4c4c4" opacity="0.45"/>
<ellipse cx="0" cy="1.8" rx="1.6" ry="1.1" fill="#2a3cff" opacity="1"/>
<ellipse cx="-0.8" cy="6.5" rx="1.5" ry="1.3" fill="#2a3cff" opacity="1"/>
<ellipse cx="1" cy="11.8" rx="2.1" ry="1.2" fill="#2a3cff" opacity="1"/>
</g>
<g transform="translate(106.6,72.82) scale(0.93,0.93)">
<path d="M0,0 C1.2,0 1.9,1 2.1,2.4 C2.7,3.2 3.1,5 3.3,7.5 C3.4,10 3.6,11.6 3.5,12.6 L4.1,13.9 L2.5,13.3 L1.1,14 L0,13.3 L-1.1,14 L-2.5,13.3 L-4.1,13.9 L-3.5,12.6 C-3.6,11.6 -3.4,10 -3.3,7.5 C-3.1,5 -2.7,3.2 -2.1,2.4 C-1.9,1 -1.2,0 0,0 Z" fill="url(#mg)"/>
<ellipse cx="-0.49" cy="7.27" rx="1.58" ry="1.22" fill="#b4c4c4" opacity="0.45"/>
<ellipse cx="0" cy="1.8" rx="1.6" ry="1.1" fill="#2a3cff" opacity="1"/>
<ellipse cx="-0.8" cy="6.5" rx="1.5" ry="1.3" fill="#2a3cff" opacity="1"/>
<ellipse cx="1" cy="11.8" rx="2.1" ry="1.2" fill="#2a3cff" opacity="1"/>
<ellipse cx="0.5" cy="9.5" rx="0.8" ry="0.6" fill="#40ff40" opacity="1"/>
</g>
<g transform="translate(118.65,72.32) scale(0.97,0.97)">
<path d="M0,0 C1.2,0 1.9,1 2.1,2.4 C2.7,3.2 3.1,5 3.3,7.5 C3.4,10 3.6,11.6 3.5,12.6 L4.1,13.9 L2.5,13.3 L1.1,14 L0,13.3 L-1.1,14 L-2.5,13.3 L-4.1,13.9 L-3.5,12.6 C-3.6,11.6 -3.4,10 -3.3,7.5 C-3.1,5 -2.7,3.2 -2.1,2.4 C-1.9,1 -1.2,0 0,0 Z" fill="url(#mg)"/>
<ellipse cx="0.2" cy="8.05" rx="1.05" ry="2.19" fill="#b4c4c4" opacity="0.45"/>
<ellipse cx="0" cy="1.8" rx="1.6" ry="1.1" fill="#2a3cff" opacity="1"/>
<ellipse cx="-0.8" cy="6.5" rx="1.5" ry="1.3" fill="#2a3cff" opacity="1"/>
<ellipse cx="1" cy="11.8" rx="2.1" ry="1.2" fill="#2a3cff" opacity="1"/>
<ellipse cx="0.5" cy="9.5" rx="0.8" ry="0.6" fill="#40ff40" opacity="1"/>
</g>
<g transform="translate(130.15,72.4) scale(0.99,0.99)">
<path d="M0,0 C1.2,0 1.9,1 2.1,2.4 C2.7,3.2 3.1,5 3.3,7.5 C3.4,10 3.6,11.6 3.5,12.6 L4.1,13.9 L2.5,13.3 L1.1,14 L0,13.3 L-1.1,14 L-2.5,13.3 L-4.1,13.9 L-3.5,12.6 C-3.6,11.6 -3.4,10 -3.3,7.5 C-3.1,5 -2.7,3.2 -2.1,2.4 C-1.9,1 -1.2,0 0,0 Z" fill="url(#mg)"/>
<ellipse cx="-0.74" cy="9.12" rx="1.22" ry="1.33" fill="#b4c4c4" opacity="0.45"/>
<ellipse cx="0" cy="1.8" rx="1.6" ry="1.1" fill="#2a3cff" opacity="1"/>
<ellipse cx="-0.8" cy="6.5" rx="1.5" ry="1.3" fill="#2a3cff" opacity="1"/>
<ellipse cx="1" cy="11.8" rx="2.1" ry="1.2" fill="#2a3cff" opacity="1"/>
<ellipse cx="0.5" cy="9.5" rx="0.8" ry="0.6" fill="#40ff40" opacity="1"/>
</g>
<rect x="135.9" y="71.9" width="43.6" height="16.5" fill="#000" />
<g transform="translate(141.71,73.12) scale(0.96,0.96)">
<path d="M0,0 C1.2,0 1.9,1 2.1,2.4 C2.7,3.2 3.1,5 3.3,7.5 C3.4,10 3.6,11.6 3.5,12.6 L4.1,13.9 L2.5,13.3 L1.1,14 L0,13.3 L-1.1,14 L-2.5,13.3 L-4.1,13.9 L-3.5,12.6 C-3.6,11.6 -3.4,10 -3.3,7.5 C-3.1,5 -2.7,3.2 -2.1,2.4 C-1.9,1 -1.2,0 0,0 Z" fill="url(#mg)"/>
<ellipse cx="-0.56" cy="9.68" rx="1.46" ry="1.9" fill="#b4c4c4" opacity="0.45"/>
<ellipse cx="0" cy="1.8" rx="1.6" ry="1.1" fill="#2a3cff" opacity="1"/>
<ellipse cx="-0.8" cy="6.5" rx="1.5" ry="1.3" fill="#2a3cff" opacity="1"/>
<ellipse cx="1" cy="11.8" rx="2.1" ry="1.2" fill="#2a3cff" opacity="1"/>
<ellipse cx="0.5" cy="9.5" rx="0.8" ry="0.6" fill="#40ff40" opacity="1"/>
</g>
<g transform="translate(151.19,72.99) scale(0.93,0.93)">
<path d="M0,0 C1.2,0 1.9,1 2.1,2.4 C2.7,3.2 3.1,5 3.3,7.5 C3.4,10 3.6,11.6 3.5,12.6 L4.1,13.9 L2.5,13.3 L1.1,14 L0,13.3 L-1.1,14 L-2.5,13.3 L-4.1,13.9 L-3.5,12.6 C-3.6,11.6 -3.4,10 -3.3,7.5 C-3.1,5 -2.7,3.2 -2.1,2.4 C-1.9,1 -1.2,0 0,0 Z" fill="url(#mg)"/>
<ellipse cx="-0.68" cy="9.75" rx="1.51" ry="2" fill="#b4c4c4" opacity="0.45"/>
<ellipse cx="0" cy="1.8" rx="1.6" ry="1.1" fill="#2a3cff" opacity="1"/>
<ellipse cx="-0.8" cy="6.5" rx="1.5" ry="1.3" fill="#2a3cff" opacity="1"/>
<ellipse cx="1" cy="11.8" rx="2.1" ry="1.2" fill="#2a3cff" opacity="1"/>
</g>
<g transform="translate(164.52,72.37) scale(0.93,0.93)">
<path d="M0,0 C1.2,0 1.9,1 2.1,2.4 C2.7,3.2 3.1,5 3.3,7.5 C3.4,10 3.6,11.6 3.5,12.6 L4.1,13.9 L2.5,13.3 L1.1,14 L0,13.3 L-1.1,14 L-2.5,13.3 L-4.1,13.9 L-3.5,12.6 C-3.6,11.6 -3.4,10 -3.3,7.5 C-3.1,5 -2.7,3.2 -2.1,2.4 C-1.9,1 -1.2,0 0,0 Z" fill="url(#mg)"/>
<ellipse cx="-0.07" cy="7.36" rx="1.44" ry="2.13" fill="#b4c4c4" opacity="0.45"/>
<ellipse cx="0" cy="1.8" rx="1.6" ry="1.1" fill="#2a3cff" opacity="1"/>
<ellipse cx="-0.8" cy="6.5" rx="1.5" ry="1.3" fill="#2a3cff" opacity="1"/>
<ellipse cx="1" cy="11.8" rx="2.1" ry="1.2" fill="#2a3cff" opacity="1"/>
</g>
<g transform="translate(174.4,72.83) scale(0.94,0.94)">
<path d="M0,0 C1.2,0 1.9,1 2.1,2.4 C2.7,3.2 3.1,5 3.3,7.5 C3.4,10 3.6,11.6 3.5,12.6 L4.1,13.9 L2.5,13.3 L1.1,14 L0,13.3 L-1.1,14 L-2.5,13.3 L-4.1,13.9 L-3.5,12.6 C-3.6,11.6 -3.4,10 -3.3,7.5 C-3.1,5 -2.7,3.2 -2.1,2.4 C-1.9,1 -1.2,0 0,0 Z" fill="url(#mg)"/>
<ellipse cx="-0.62" cy="6.65" rx="1.04" ry="1.4" fill="#b4c4c4" opacity="0.45"/>
<ellipse cx="0" cy="1.8" rx="1.6" ry="1.1" fill="#2a3cff" opacity="1"/>
<ellipse cx="-0.8" cy="6.5" rx="1.5" ry="1.3" fill="#2a3cff" opacity="1"/>
<ellipse cx="1" cy="11.8" rx="2.1" ry="1.2" fill="#2a3cff" opacity="1"/>
<ellipse cx="0.5" cy="9.5" rx="0.8" ry="0.6" fill="#40ff40" opacity="1"/>
</g>
<rect x="181" y="71.9" width="40.6" height="16.5" fill="#000" />
<g transform="translate(185.6,73.06) scale(0.95,0.95)">
<path d="M0,0 C1.2,0 1.9,1 2.1,2.4 C2.7,3.2 3.1,5 3.3,7.5 C3.4,10 3.6,11.6 3.5,12.6 L4.1,13.9 L2.5,13.3 L1.1,14 L0,13.3 L-1.1,14 L-2.5,13.3 L-4.1,13.9 L-3.5,12.6 C-3.6,11.6 -3.4,10 -3.3,7.5 C-3.1,5 -2.7,3.2 -2.1,2.4 C-1.9,1 -1.2,0 0,0 Z" fill="url(#mg)"/>
<ellipse cx="0" cy="6.71" rx="1.28" ry="1.22" fill="#b4c4c4" opacity="0.45"/>
<ellipse cx="0" cy="1.8" rx="1.6" ry="1.1" fill="#2a3cff" opacity="1"/>
<ellipse cx="-0.8" cy="6.5" rx="1.5" ry="1.3" fill="#2a3cff" opacity="1"/>
<ellipse cx="1" cy="11.8" rx="2.1" ry="1.2" fill="#2a3cff" opacity="1"/>
<ellipse cx="0.5" cy="9.5" rx="0.8" ry="0.6" fill="#40ff40" opacity="1"/>
</g>
<g transform="translate(195.14,73.03) scale(0.94,0.94)">
<path d="M0,0 C1.2,0 1.9,1 2.1,2.4 C2.7,3.2 3.1,5 3.3,7.5 C3.4,10 3.6,11.6 3.5,12.6 L4.1,13.9 L2.5,13.3 L1.1,14 L0,13.3 L-1.1,14 L-2.5,13.3 L-4.1,13.9 L-3.5,12.6 C-3.6,11.6 -3.4,10 -3.3,7.5 C-3.1,5 -2.7,3.2 -2.1,2.4 C-1.9,1 -1.2,0 0,0 Z" fill="url(#mg)"/>
<ellipse cx="-0.5" cy="7.9" rx="1.75" ry="1.31" fill="#b4c4c4" opacity="0.45"/>
<ellipse cx="0" cy="1.8" rx="1.6" ry="1.1" fill="#2a3cff" opacity="1"/>
<ellipse cx="-0.8" cy="6.5" rx="1.5" ry="1.3" fill="#2a3cff" opacity="1"/>
<ellipse cx="1" cy="11.8" rx="2.1" ry="1.2" fill="#2a3cff" opacity="1"/>
</g>
<g transform="translate(207.09,72.8) scale(1,1)">
<path d="M0,0 C1.2,0 1.9,1 2.1,2.4 C2.7,3.2 3.1,5 3.3,7.5 C3.4,10 3.6,11.6 3.5,12.6 L4.1,13.9 L2.5,13.3 L1.1,14 L0,13.3 L-1.1,14 L-2.5,13.3 L-4.1,13.9 L-3.5,12.6 C-3.6,11.6 -3.4,10 -3.3,7.5 C-3.1,5 -2.7,3.2 -2.1,2.4 C-1.9,1 -1.2,0 0,0 Z" fill="url(#mg)"/>
<ellipse cx="-0.17" cy="8.03" rx="1.55" ry="2.18" fill="#b4c4c4" opacity="0.45"/>
<ellipse cx="0" cy="1.8" rx="1.6" ry="1.1" fill="#2a3cff" opacity="1"/>
<ellipse cx="-0.8" cy="6.5" rx="1.5" ry="1.3" fill="#2a3cff" opacity="1"/>
<ellipse cx="1" cy="11.8" rx="2.1" ry="1.2" fill="#2a3cff" opacity="1"/>
</g>
<g transform="translate(217.8,73.01) scale(0.95,0.95)">
<path d="M0,0 C1.2,0 1.9,1 2.1,2.4 C2.7,3.2 3.1,5 3.3,7.5 C3.4,10 3.6,11.6 3.5,12.6 L4.1,13.9 L2.5,13.3 L1.1,14 L0,13.3 L-1.1,14 L-2.5,13.3 L-4.1,13.9 L-3.5,12.6 C-3.6,11.6 -3.4,10 -3.3,7.5 C-3.1,5 -2.7,3.2 -2.1,2.4 C-1.9,1 -1.2,0 0,0 Z" fill="url(#mg)"/>
<ellipse cx="-0.15" cy="7.39" rx="1.04" ry="1.33" fill="#b4c4c4" opacity="0.45"/>
<ellipse cx="0" cy="1.8" rx="1.6" ry="1.1" fill="#2a3cff" opacity="1"/>
<ellipse cx="-0.8" cy="6.5" rx="1.5" ry="1.3" fill="#2a3cff" opacity="1"/>
<ellipse cx="1" cy="11.8" rx="2.1" ry="1.2" fill="#2a3cff" opacity="1"/>
</g>
<rect x="223.2" y="71.9" width="40.7" height="16.5" fill="#000" />
<g transform="translate(228.42,72.56) scale(0.93,0.93)">
<path d="M0,0 C1.2,0 1.9,1 2.1,2.4 C2.7,3.2 3.1,5 3.3,7.5 C3.4,10 3.6,11.6 3.5,12.6 L4.1,13.9 L2.5,13.3 L1.1,14 L0,13.3 L-1.1,14 L-2.5,13.3 L-4.1,13.9 L-3.5,12.6 C-3.6,11.6 -3.4,10 -3.3,7.5 C-3.1,5 -2.7,3.2 -2.1,2.4 C-1.9,1 -1.2,0 0,0 Z" fill="url(#mg)"/>
<ellipse cx="-0.66" cy="9.37" rx="1.7" ry="1.87" fill="#b4c4c4" opacity="0.45"/>
<ellipse cx="0" cy="1.8" rx="1.6" ry="1.1" fill="#2a3cff" opacity="1"/>
<ellipse cx="-0.8" cy="6.5" rx="1.5" ry="1.3" fill="#2a3cff" opacity="1"/>
<ellipse cx="1" cy="11.8" rx="2.1" ry="1.2" fill="#2a3cff" opacity="1"/>
<ellipse cx="0.5" cy="9.5" rx="0.8" ry="0.6" fill="#40ff40" opacity="1"/>
</g>
<g transform="translate(237.69,72.59) scale(0.95,0.95)">
<path d="M0,0 C1.2,0 1.9,1 2.1,2.4 C2.7,3.2 3.1,5 3.3,7.5 C3.4,10 3.6,11.6 3.5,12.6 L4.1,13.9 L2.5,13.3 L1.1,14 L0,13.3 L-1.1,14 L-2.5,13.3 L-4.1,13.9 L-3.5,12.6 C-3.6,11.6 -3.4,10 -3.3,7.5 C-3.1,5 -2.7,3.2 -2.1,2.4 C-1.9,1 -1.2,0 0,0 Z" fill="url(#mg)"/>
<ellipse cx="-0.55" cy="7.78" rx="1.21" ry="2.16" fill="#b4c4c4" opacity="0.45"/>
<ellipse cx="0" cy="1.8" rx="1.6" ry="1.1" fill="#2a3cff" opacity="1"/>
<ellipse cx="-0.8" cy="6.5" rx="1.5" ry="1.3" fill="#2a3cff" opacity="1"/>
<ellipse cx="1" cy="11.8" rx="2.1" ry="1.2" fill="#2a3cff" opacity="1"/>
</g>
<g transform="translate(249.52,72.54) scale(1.01,1.01)">
<path d="M0,0 C1.2,0 1.9,1 2.1,2.4 C2.7,3.2 3.1,5 3.3,7.5 C3.4,10 3.6,11.6 3.5,12.6 L4.1,13.9 L2.5,13.3 L1.1,14 L0,13.3 L-1.1,14 L-2.5,13.3 L-4.1,13.9 L-3.5,12.6 C-3.6,11.6 -3.4,10 -3.3,7.5 C-3.1,5 -2.7,3.2 -2.1,2.4 C-1.9,1 -1.2,0 0,0 Z" fill="url(#mg)"/>
<ellipse cx="-0.3" cy="7.43" rx="1" ry="1.58" fill="#b4c4c4" opacity="0.45"/>
<ellipse cx="0" cy="1.8" rx="1.6" ry="1.1" fill="#2a3cff" opacity="1"/>
<ellipse cx="-0.8" cy="6.5" rx="1.5" ry="1.3" fill="#2a3cff" opacity="1"/>
<ellipse cx="1" cy="11.8" rx="2.1" ry="1.2" fill="#2a3cff" opacity="1"/>
</g>
<g transform="translate(259.63,72.5) scale(0.96,0.96)">
<path d="M0,0 C1.2,0 1.9,1 2.1,2.4 C2.7,3.2 3.1,5 3.3,7.5 C3.4,10 3.6,11.6 3.5,12.6 L4.1,13.9 L2.5,13.3 L1.1,14 L0,13.3 L-1.1,14 L-2.5,13.3 L-4.1,13.9 L-3.5,12.6 C-3.6,11.6 -3.4,10 -3.3,7.5 C-3.1,5 -2.7,3.2 -2.1,2.4 C-1.9,1 -1.2,0 0,0 Z" fill="url(#mg)"/>
<ellipse cx="-0.79" cy="7.06" rx="1.07" ry="1.6" fill="#b4c4c4" opacity="0.45"/>
<ellipse cx="0" cy="1.8" rx="1.6" ry="1.1" fill="#2a3cff" opacity="1"/>
<ellipse cx="-0.8" cy="6.5" rx="1.5" ry="1.3" fill="#2a3cff" opacity="1"/>
<ellipse cx="1" cy="11.8" rx="2.1" ry="1.2" fill="#2a3cff" opacity="1"/>
</g>
<rect x="91" y="90.2" width="43" height="16.8" fill="#000" />
<g transform="translate(95.49,90.9) scale(0.94,0.94)">
<path d="M0,0 C1.2,0 1.9,1 2.1,2.4 C2.7,3.2 3.1,5 3.3,7.5 C3.4,10 3.6,11.6 3.5,12.6 L4.1,13.9 L2.5,13.3 L1.1,14 L0,13.3 L-1.1,14 L-2.5,13.3 L-4.1,13.9 L-3.5,12.6 C-3.6,11.6 -3.4,10 -3.3,7.5 C-3.1,5 -2.7,3.2 -2.1,2.4 C-1.9,1 -1.2,0 0,0 Z" fill="url(#mg)"/>
<ellipse cx="-0.43" cy="8.34" rx="1.42" ry="1.95" fill="#b4c4c4" opacity="0.45"/>
<ellipse cx="0" cy="2.2" rx="1.7" ry="1.2" fill="#2a3cff" opacity="1"/>
<ellipse cx="-1.1" cy="7.5" rx="1.6" ry="1.3" fill="#2a3cff" opacity="1"/>
<ellipse cx="1.4" cy="8.5" rx="1.3" ry="1.1" fill="#2a3cff" opacity="1"/>
<ellipse cx="0" cy="11.8" rx="2.2" ry="1.2" fill="#2a3cff" opacity="1"/>
<ellipse cx="0" cy="2.2" rx="1.1" ry="0.7" fill="#ff1a00" opacity="1"/>
<ellipse cx="1.4" cy="8.5" rx="0.9" ry="0.7" fill="#ff1a00" opacity="1"/>
<ellipse cx="-1.1" cy="7.5" rx="0.9" ry="0.8" fill="#ff1a00" opacity="1"/>
</g>
<g transform="translate(107,91.48) scale(1,1)">
<path d="M0,0 C1.2,0 1.9,1 2.1,2.4 C2.7,3.2 3.1,5 3.3,7.5 C3.4,10 3.6,11.6 3.5,12.6 L4.1,13.9 L2.5,13.3 L1.1,14 L0,13.3 L-1.1,14 L-2.5,13.3 L-4.1,13.9 L-3.5,12.6 C-3.6,11.6 -3.4,10 -3.3,7.5 C-3.1,5 -2.7,3.2 -2.1,2.4 C-1.9,1 -1.2,0 0,0 Z" fill="url(#mg)"/>
<ellipse cx="-0.18" cy="7.3" rx="1.79" ry="1.35" fill="#b4c4c4" opacity="0.45"/>
<ellipse cx="0" cy="2.2" rx="1.7" ry="1.2" fill="#2a3cff" opacity="1"/>
<ellipse cx="-1.1" cy="7.5" rx="1.6" ry="1.3" fill="#2a3cff" opacity="1"/>
<ellipse cx="1.4" cy="8.5" rx="1.3" ry="1.1" fill="#2a3cff" opacity="1"/>
<ellipse cx="0" cy="11.8" rx="2.2" ry="1.2" fill="#2a3cff" opacity="1"/>
<ellipse cx="0" cy="2.2" rx="1.1" ry="0.7" fill="#ff1a00" opacity="1"/>
<ellipse cx="1.4" cy="8.5" rx="0.9" ry="0.7" fill="#ff1a00" opacity="1"/>
<ellipse cx="-1.1" cy="7.5" rx="0.9" ry="0.8" fill="#ff1a00" opacity="1"/>
</g>
<g transform="translate(118.94,90.64) scale(1.01,1.01)">
<path d="M0,0 C1.2,0 1.9,1 2.1,2.4 C2.7,3.2 3.1,5 3.3,7.5 C3.4,10 3.6,11.6 3.5,12.6 L4.1,13.9 L2.5,13.3 L1.1,14 L0,13.3 L-1.1,14 L-2.5,13.3 L-4.1,13.9 L-3.5,12.6 C-3.6,11.6 -3.4,10 -3.3,7.5 C-3.1,5 -2.7,3.2 -2.1,2.4 C-1.9,1 -1.2,0 0,0 Z" fill="url(#mg)"/>
<ellipse cx="0.54" cy="9.57" rx="1.5" ry="1.93" fill="#b4c4c4" opacity="0.45"/>
<ellipse cx="0" cy="2.2" rx="1.7" ry="1.2" fill="#2a3cff" opacity="1"/>
<ellipse cx="-1.1" cy="7.5" rx="1.6" ry="1.3" fill="#2a3cff" opacity="1"/>
<ellipse cx="1.4" cy="8.5" rx="1.3" ry="1.1" fill="#2a3cff" opacity="1"/>
<ellipse cx="0" cy="11.8" rx="2.2" ry="1.2" fill="#2a3cff" opacity="1"/>
<ellipse cx="0" cy="2.2" rx="1.1" ry="0.7" fill="#ff1a00" opacity="1"/>
<ellipse cx="1.4" cy="8.5" rx="0.9" ry="0.7" fill="#ff1a00" opacity="1"/>
<ellipse cx="-1.1" cy="7.5" rx="0.9" ry="0.8" fill="#ff1a00" opacity="1"/>
</g>
<g transform="translate(128.98,91.12) scale(1.01,1.01)">
<path d="M0,0 C1.2,0 1.9,1 2.1,2.4 C2.7,3.2 3.1,5 3.3,7.5 C3.4,10 3.6,11.6 3.5,12.6 L4.1,13.9 L2.5,13.3 L1.1,14 L0,13.3 L-1.1,14 L-2.5,13.3 L-4.1,13.9 L-3.5,12.6 C-3.6,11.6 -3.4,10 -3.3,7.5 C-3.1,5 -2.7,3.2 -2.1,2.4 C-1.9,1 -1.2,0 0,0 Z" fill="url(#mg)"/>
<ellipse cx="0.01" cy="9.34" rx="1.64" ry="2.03" fill="#b4c4c4" opacity="0.45"/>
<ellipse cx="0" cy="2.2" rx="1.7" ry="1.2" fill="#2a3cff" opacity="1"/>
<ellipse cx="-1.1" cy="7.5" rx="1.6" ry="1.3" fill="#2a3cff" opacity="1"/>
<ellipse cx="1.4" cy="8.5" rx="1.3" ry="1.1" fill="#2a3cff" opacity="1"/>
<ellipse cx="0" cy="11.8" rx="2.2" ry="1.2" fill="#2a3cff" opacity="1"/>
<ellipse cx="0" cy="2.2" rx="1.1" ry="0.7" fill="#ff1a00" opacity="1"/>
<ellipse cx="1.4" cy="8.5" rx="0.9" ry="0.7" fill="#ff1a00" opacity="1"/>
<ellipse cx="-1.1" cy="7.5" rx="0.9" ry="0.8" fill="#ff1a00" opacity="1"/>
</g>
<rect x="135.9" y="90.2" width="43.6" height="16.8" fill="#000" />
<g transform="translate(141.68,91.28) scale(0.99,0.99)">
<path d="M0,0 C1.2,0 1.9,1 2.1,2.4 C2.7,3.2 3.1,5 3.3,7.5 C3.4,10 3.6,11.6 3.5,12.6 L4.1,13.9 L2.5,13.3 L1.1,14 L0,13.3 L-1.1,14 L-2.5,13.3 L-4.1,13.9 L-3.5,12.6 C-3.6,11.6 -3.4,10 -3.3,7.5 C-3.1,5 -2.7,3.2 -2.1,2.4 C-1.9,1 -1.2,0 0,0 Z" fill="url(#mg)"/>
<ellipse cx="-0.75" cy="6.53" rx="1.29" ry="1.3" fill="#b4c4c4" opacity="0.45"/>
<ellipse cx="0" cy="2.2" rx="1.4" ry="1" fill="#2a3cff" opacity="1"/>
<ellipse cx="-1" cy="7.5" rx="1.2" ry="1" fill="#2a3cff" opacity="1"/>
<ellipse cx="0" cy="11.8" rx="1.6" ry="0.9" fill="#2a3cff" opacity="1"/>
<ellipse cx="1.2" cy="8" rx="0.8" ry="0.6" fill="#ff1a00" opacity="1"/>
</g>
<g transform="translate(151.9,91.23) scale(1.02,1.02)">
<path d="M0,0 C1.2,0 1.9,1 2.1,2.4 C2.7,3.2 3.1,5 3.3,7.5 C3.4,10 3.6,11.6 3.5,12.6 L4.1,13.9 L2.5,13.3 L1.1,14 L0,13.3 L-1.1,14 L-2.5,13.3 L-4.1,13.9 L-3.5,12.6 C-3.6,11.6 -3.4,10 -3.3,7.5 C-3.1,5 -2.7,3.2 -2.1,2.4 C-1.9,1 -1.2,0 0,0 Z" fill="url(#mg)"/>
<ellipse cx="-0.02" cy="6.01" rx="1.64" ry="1.95" fill="#b4c4c4" opacity="0.45"/>
<ellipse cx="0" cy="2.2" rx="1.4" ry="1" fill="#2a3cff" opacity="1"/>
<ellipse cx="-1" cy="7.5" rx="1.2" ry="1" fill="#2a3cff" opacity="1"/>
<ellipse cx="0" cy="11.8" rx="1.6" ry="0.9" fill="#2a3cff" opacity="1"/>
</g>
<g transform="translate(164.07,91.26) scale(0.98,0.98)">
<path d="M0,0 C1.2,0 1.9,1 2.1,2.4 C2.7,3.2 3.1,5 3.3,7.5 C3.4,10 3.6,11.6 3.5,12.6 L4.1,13.9 L2.5,13.3 L1.1,14 L0,13.3 L-1.1,14 L-2.5,13.3 L-4.1,13.9 L-3.5,12.6 C-3.6,11.6 -3.4,10 -3.3,7.5 C-3.1,5 -2.7,3.2 -2.1,2.4 C-1.9,1 -1.2,0 0,0 Z" fill="url(#mg)"/>
<ellipse cx="-0.4" cy="6.3" rx="1.21" ry="1.93" fill="#b4c4c4" opacity="0.45"/>
<ellipse cx="0" cy="2.2" rx="1.4" ry="1" fill="#2a3cff" opacity="1"/>
<ellipse cx="-1" cy="7.5" rx="1.2" ry="1" fill="#2a3cff" opacity="1"/>
<ellipse cx="0" cy="11.8" rx="1.6" ry="0.9" fill="#2a3cff" opacity="1"/>
<ellipse cx="0" cy="2.2" rx="0.8" ry="0.6" fill="#ff1a00" opacity="1"/>
</g>
<g transform="translate(175.26,91.58) scale(0.96,0.96)">
<path d="M0,0 C1.2,0 1.9,1 2.1,2.4 C2.7,3.2 3.1,5 3.3,7.5 C3.4,10 3.6,11.6 3.5,12.6 L4.1,13.9 L2.5,13.3 L1.1,14 L0,13.3 L-1.1,14 L-2.5,13.3 L-4.1,13.9 L-3.5,12.6 C-3.6,11.6 -3.4,10 -3.3,7.5 C-3.1,5 -2.7,3.2 -2.1,2.4 C-1.9,1 -1.2,0 0,0 Z" fill="url(#mg)"/>
<ellipse cx="-0.03" cy="8.73" rx="1.61" ry="1.82" fill="#b4c4c4" opacity="0.45"/>
<ellipse cx="0" cy="2.2" rx="1.4" ry="1" fill="#2a3cff" opacity="1"/>
<ellipse cx="-1" cy="7.5" rx="1.2" ry="1" fill="#2a3cff" opacity="1"/>
<ellipse cx="0" cy="11.8" rx="1.6" ry="0.9" fill="#2a3cff" opacity="1"/>
<ellipse cx="0" cy="2.2" rx="0.8" ry="0.6" fill="#ff1a00" opacity="1"/>
<ellipse cx="1.2" cy="8" rx="0.8" ry="0.6" fill="#ff1a00" opacity="1"/>
</g>
<rect x="181" y="90.2" width="40.6" height="16.8" fill="#000" />
<g transform="translate(185.28,90.75) scale(1,1)">
<path d="M0,0 C1.2,0 1.9,1 2.1,2.4 C2.7,3.2 3.1,5 3.3,7.5 C3.4,10 3.6,11.6 3.5,12.6 L4.1,13.9 L2.5,13.3 L1.1,14 L0,13.3 L-1.1,14 L-2.5,13.3 L-4.1,13.9 L-3.5,12.6 C-3.6,11.6 -3.4,10 -3.3,7.5 C-3.1,5 -2.7,3.2 -2.1,2.4 C-1.9,1 -1.2,0 0,0 Z" fill="url(#mg)"/>
<ellipse cx="0.39" cy="7.22" rx="1.45" ry="1.21" fill="#b4c4c4" opacity="0.45"/>
<ellipse cx="0.5" cy="3" rx="0.9" ry="0.7" fill="#2a3cff" opacity="1"/>
<ellipse cx="-0.8" cy="9" rx="1" ry="0.8" fill="#2a3cff" opacity="1"/>
</g>
<g transform="translate(195.5,91.27) scale(0.94,0.94)">
<path d="M0,0 C1.2,0 1.9,1 2.1,2.4 C2.7,3.2 3.1,5 3.3,7.5 C3.4,10 3.6,11.6 3.5,12.6 L4.1,13.9 L2.5,13.3 L1.1,14 L0,13.3 L-1.1,14 L-2.5,13.3 L-4.1,13.9 L-3.5,12.6 C-3.6,11.6 -3.4,10 -3.3,7.5 C-3.1,5 -2.7,3.2 -2.1,2.4 C-1.9,1 -1.2,0 0,0 Z" fill="url(#mg)"/>
<ellipse cx="0.28" cy="7.16" rx="1.41" ry="1.66" fill="#b4c4c4" opacity="0.45"/>
<ellipse cx="0.5" cy="3" rx="0.9" ry="0.7" fill="#2a3cff" opacity="1"/>
</g>
<g transform="translate(206.65,91.49) scale(0.98,0.98)">
<path d="M0,0 C1.2,0 1.9,1 2.1,2.4 C2.7,3.2 3.1,5 3.3,7.5 C3.4,10 3.6,11.6 3.5,12.6 L4.1,13.9 L2.5,13.3 L1.1,14 L0,13.3 L-1.1,14 L-2.5,13.3 L-4.1,13.9 L-3.5,12.6 C-3.6,11.6 -3.4,10 -3.3,7.5 C-3.1,5 -2.7,3.2 -2.1,2.4 C-1.9,1 -1.2,0 0,0 Z" fill="url(#mg)"/>
<ellipse cx="0.77" cy="9.75" rx="1.01" ry="1.66" fill="#b4c4c4" opacity="0.45"/>
<ellipse cx="0.5" cy="3" rx="0.9" ry="0.7" fill="#2a3cff" opacity="1"/>
<ellipse cx="-0.8" cy="9" rx="1" ry="0.8" fill="#2a3cff" opacity="1"/>
</g>
<g transform="translate(217.99,91.05) scale(1.01,1.01)">
<path d="M0,0 C1.2,0 1.9,1 2.1,2.4 C2.7,3.2 3.1,5 3.3,7.5 C3.4,10 3.6,11.6 3.5,12.6 L4.1,13.9 L2.5,13.3 L1.1,14 L0,13.3 L-1.1,14 L-2.5,13.3 L-4.1,13.9 L-3.5,12.6 C-3.6,11.6 -3.4,10 -3.3,7.5 C-3.1,5 -2.7,3.2 -2.1,2.4 C-1.9,1 -1.2,0 0,0 Z" fill="url(#mg)"/>
<ellipse cx="-0.46" cy="9.78" rx="1.17" ry="1.78" fill="#b4c4c4" opacity="0.45"/>
<ellipse cx="0.5" cy="3" rx="0.9" ry="0.7" fill="#2a3cff" opacity="1"/>
<ellipse cx="-0.8" cy="9" rx="1" ry="0.8" fill="#2a3cff" opacity="1"/>
</g>
<rect x="223.2" y="90.2" width="40.7" height="16.8" fill="#000" />
<g transform="translate(228.12,91.55) scale(0.95,0.95)">
<path d="M0,0 C1.2,0 1.9,1 2.1,2.4 C2.7,3.2 3.1,5 3.3,7.5 C3.4,10 3.6,11.6 3.5,12.6 L4.1,13.9 L2.5,13.3 L1.1,14 L0,13.3 L-1.1,14 L-2.5,13.3 L-4.1,13.9 L-3.5,12.6 C-3.6,11.6 -3.4,10 -3.3,7.5 C-3.1,5 -2.7,3.2 -2.1,2.4 C-1.9,1 -1.2,0 0,0 Z" fill="url(#mg)"/>
<ellipse cx="0.01" cy="9.55" rx="1.56" ry="1.43" fill="#b4c4c4" opacity="0.45"/>
<ellipse cx="0.5" cy="3" rx="0.9" ry="0.7" fill="#2a3cff" opacity="1"/>
<ellipse cx="-0.8" cy="9" rx="1" ry="0.8" fill="#2a3cff" opacity="1"/>
</g>
<g transform="translate(238.04,90.62) scale(1.02,1.02)">
<path d="M0,0 C1.2,0 1.9,1 2.1,2.4 C2.7,3.2 3.1,5 3.3,7.5 C3.4,10 3.6,11.6 3.5,12.6 L4.1,13.9 L2.5,13.3 L1.1,14 L0,13.3 L-1.1,14 L-2.5,13.3 L-4.1,13.9 L-3.5,12.6 C-3.6,11.6 -3.4,10 -3.3,7.5 C-3.1,5 -2.7,3.2 -2.1,2.4 C-1.9,1 -1.2,0 0,0 Z" fill="url(#mg)"/>
<ellipse cx="-0.08" cy="7.21" rx="1.11" ry="1.54" fill="#b4c4c4" opacity="0.45"/>
<ellipse cx="0.5" cy="3" rx="0.9" ry="0.7" fill="#2a3cff" opacity="1"/>
<ellipse cx="-0.8" cy="9" rx="1" ry="0.8" fill="#2a3cff" opacity="1"/>
</g>
<g transform="translate(249.93,90.6) scale(0.97,0.97)">
<path d="M0,0 C1.2,0 1.9,1 2.1,2.4 C2.7,3.2 3.1,5 3.3,7.5 C3.4,10 3.6,11.6 3.5,12.6 L4.1,13.9 L2.5,13.3 L1.1,14 L0,13.3 L-1.1,14 L-2.5,13.3 L-4.1,13.9 L-3.5,12.6 C-3.6,11.6 -3.4,10 -3.3,7.5 C-3.1,5 -2.7,3.2 -2.1,2.4 C-1.9,1 -1.2,0 0,0 Z" fill="url(#mg)"/>
<ellipse cx="-0.61" cy="9.71" rx="1.57" ry="2.1" fill="#b4c4c4" opacity="0.45"/>
<ellipse cx="0.5" cy="3" rx="0.9" ry="0.7" fill="#2a3cff" opacity="1"/>
</g>
<g transform="translate(259.45,90.99) scale(0.96,0.96)">
<path d="M0,0 C1.2,0 1.9,1 2.1,2.4 C2.7,3.2 3.1,5 3.3,7.5 C3.4,10 3.6,11.6 3.5,12.6 L4.1,13.9 L2.5,13.3 L1.1,14 L0,13.3 L-1.1,14 L-2.5,13.3 L-4.1,13.9 L-3.5,12.6 C-3.6,11.6 -3.4,10 -3.3,7.5 C-3.1,5 -2.7,3.2 -2.1,2.4 C-1.9,1 -1.2,0 0,0 Z" fill="url(#mg)"/>
<ellipse cx="-0.22" cy="7.71" rx="1.22" ry="1.25" fill="#b4c4c4" opacity="0.45"/>
<ellipse cx="0.5" cy="3" rx="0.9" ry="0.7" fill="#2a3cff" opacity="1"/>
</g>
<rect x="91" y="108.8" width="43" height="16.8" fill="#000" />
<g transform="translate(96.63,109.49) scale(0.95,0.95)">
<path d="M0,0 C1.2,0 1.9,1 2.1,2.4 C2.7,3.2 3.1,5 3.3,7.5 C3.4,10 3.6,11.6 3.5,12.6 L4.1,13.9 L2.5,13.3 L1.1,14 L0,13.3 L-1.1,14 L-2.5,13.3 L-4.1,13.9 L-3.5,12.6 C-3.6,11.6 -3.4,10 -3.3,7.5 C-3.1,5 -2.7,3.2 -2.1,2.4 C-1.9,1 -1.2,0 0,0 Z" fill="url(#mg)"/>
<ellipse cx="-0.4" cy="7.06" rx="1.41" ry="1.39" fill="#b4c4c4" opacity="0.45"/>
</g>
<g transform="translate(107.33,110.08) scale(0.97,0.97)">
<path d="M0,0 C1.2,0 1.9,1 2.1,2.4 C2.7,3.2 3.1,5 3.3,7.5 C3.4,10 3.6,11.6 3.5,12.6 L4.1,13.9 L2.5,13.3 L1.1,14 L0,13.3 L-1.1,14 L-2.5,13.3 L-4.1,13.9 L-3.5,12.6 C-3.6,11.6 -3.4,10 -3.3,7.5 C-3.1,5 -2.7,3.2 -2.1,2.4 C-1.9,1 -1.2,0 0,0 Z" fill="url(#mg)"/>
<ellipse cx="0.21" cy="9.65" rx="1.75" ry="1.75" fill="#b4c4c4" opacity="0.45"/>
</g>
<g transform="translate(118.1,109.93) scale(1.01,1.01)">
<path d="M0,0 C1.2,0 1.9,1 2.1,2.4 C2.7,3.2 3.1,5 3.3,7.5 C3.4,10 3.6,11.6 3.5,12.6 L4.1,13.9 L2.5,13.3 L1.1,14 L0,13.3 L-1.1,14 L-2.5,13.3 L-4.1,13.9 L-3.5,12.6 C-3.6,11.6 -3.4,10 -3.3,7.5 C-3.1,5 -2.7,3.2 -2.1,2.4 C-1.9,1 -1.2,0 0,0 Z" fill="url(#mg)"/>
<ellipse cx="0.4" cy="8.58" rx="1.23" ry="1.25" fill="#b4c4c4" opacity="0.45"/>
</g>
<g transform="translate(128.96,109.67) scale(1.02,1.02)">
<path d="M0,0 C1.2,0 1.9,1 2.1,2.4 C2.7,3.2 3.1,5 3.3,7.5 C3.4,10 3.6,11.6 3.5,12.6 L4.1,13.9 L2.5,13.3 L1.1,14 L0,13.3 L-1.1,14 L-2.5,13.3 L-4.1,13.9 L-3.5,12.6 C-3.6,11.6 -3.4,10 -3.3,7.5 C-3.1,5 -2.7,3.2 -2.1,2.4 C-1.9,1 -1.2,0 0,0 Z" fill="url(#mg)"/>
<ellipse cx="-0.32" cy="8.96" rx="1.78" ry="1.46" fill="#b4c4c4" opacity="0.45"/>
</g>
<rect x="135.9" y="108.8" width="43.6" height="16.8" fill="#000" />
<g transform="translate(140.85,109.76) scale(1,1)">
<path d="M0,0 C1.2,0 1.9,1 2.1,2.4 C2.7,3.2 3.1,5 3.3,7.5 C3.4,10 3.6,11.6 3.5,12.6 L4.1,13.9 L2.5,13.3 L1.1,14 L0,13.3 L-1.1,14 L-2.5,13.3 L-4.1,13.9 L-3.5,12.6 C-3.6,11.6 -3.4,10 -3.3,7.5 C-3.1,5 -2.7,3.2 -2.1,2.4 C-1.9,1 -1.2,0 0,0 Z" fill="url(#mg)"/>
<ellipse cx="-0.53" cy="6.65" rx="1.17" ry="2.11" fill="#b4c4c4" opacity="0.45"/>
</g>
<g transform="translate(151.42,110.11) scale(0.98,0.98)">
<path d="M0,0 C1.2,0 1.9,1 2.1,2.4 C2.7,3.2 3.1,5 3.3,7.5 C3.4,10 3.6,11.6 3.5,12.6 L4.1,13.9 L2.5,13.3 L1.1,14 L0,13.3 L-1.1,14 L-2.5,13.3 L-4.1,13.9 L-3.5,12.6 C-3.6,11.6 -3.4,10 -3.3,7.5 C-3.1,5 -2.7,3.2 -2.1,2.4 C-1.9,1 -1.2,0 0,0 Z" fill="url(#mg)"/>
<ellipse cx="-0.08" cy="6.56" rx="1.15" ry="1.29" fill="#b4c4c4" opacity="0.45"/>
</g>
<g transform="translate(163.45,109.44) scale(0.97,0.97)">
<path d="M0,0 C1.2,0 1.9,1 2.1,2.4 C2.7,3.2 3.1,5 3.3,7.5 C3.4,10 3.6,11.6 3.5,12.6 L4.1,13.9 L2.5,13.3 L1.1,14 L0,13.3 L-1.1,14 L-2.5,13.3 L-4.1,13.9 L-3.5,12.6 C-3.6,11.6 -3.4,10 -3.3,7.5 C-3.1,5 -2.7,3.2 -2.1,2.4 C-1.9,1 -1.2,0 0,0 Z" fill="url(#mg)"/>
<ellipse cx="0.11" cy="9.55" rx="1.6" ry="1.61" fill="#b4c4c4" opacity="0.45"/>
</g>
<g transform="translate(174.96,109.58) scale(0.98,0.98)">
<path d="M0,0 C1.2,0 1.9,1 2.1,2.4 C2.7,3.2 3.1,5 3.3,7.5 C3.4,10 3.6,11.6 3.5,12.6 L4.1,13.9 L2.5,13.3 L1.1,14 L0,13.3 L-1.1,14 L-2.5,13.3 L-4.1,13.9 L-3.5,12.6 C-3.6,11.6 -3.4,10 -3.3,7.5 C-3.1,5 -2.7,3.2 -2.1,2.4 C-1.9,1 -1.2,0 0,0 Z" fill="url(#mg)"/>
<ellipse cx="-0.7" cy="7.11" rx="1.77" ry="1.33" fill="#b4c4c4" opacity="0.45"/>
</g>
<rect x="181" y="108.8" width="40.6" height="16.8" fill="#000" />
<g transform="translate(186.05,110.06) scale(0.98,0.98)">
<path d="M0,0 C1.2,0 1.9,1 2.1,2.4 C2.7,3.2 3.1,5 3.3,7.5 C3.4,10 3.6,11.6 3.5,12.6 L4.1,13.9 L2.5,13.3 L1.1,14 L0,13.3 L-1.1,14 L-2.5,13.3 L-4.1,13.9 L-3.5,12.6 C-3.6,11.6 -3.4,10 -3.3,7.5 C-3.1,5 -2.7,3.2 -2.1,2.4 C-1.9,1 -1.2,0 0,0 Z" fill="url(#mg)"/>
<ellipse cx="-0.37" cy="6.99" rx="1.32" ry="1.65" fill="#b4c4c4" opacity="0.45"/>
</g>
<g transform="translate(196.31,110.07) scale(1.03,1.03)">
<path d="M0,0 C1.2,0 1.9,1 2.1,2.4 C2.7,3.2 3.1,5 3.3,7.5 C3.4,10 3.6,11.6 3.5,12.6 L4.1,13.9 L2.5,13.3 L1.1,14 L0,13.3 L-1.1,14 L-2.5,13.3 L-4.1,13.9 L-3.5,12.6 C-3.6,11.6 -3.4,10 -3.3,7.5 C-3.1,5 -2.7,3.2 -2.1,2.4 C-1.9,1 -1.2,0 0,0 Z" fill="url(#mg)"/>
<ellipse cx="-0.75" cy="8.84" rx="1.72" ry="1.67" fill="#b4c4c4" opacity="0.45"/>
<ellipse cx="0" cy="10.5" rx="0.8" ry="0.6" fill="#2a3cff" opacity="1"/>
</g>
<g transform="translate(206.49,109.59) scale(0.99,0.99)">
<path d="M0,0 C1.2,0 1.9,1 2.1,2.4 C2.7,3.2 3.1,5 3.3,7.5 C3.4,10 3.6,11.6 3.5,12.6 L4.1,13.9 L2.5,13.3 L1.1,14 L0,13.3 L-1.1,14 L-2.5,13.3 L-4.1,13.9 L-3.5,12.6 C-3.6,11.6 -3.4,10 -3.3,7.5 C-3.1,5 -2.7,3.2 -2.1,2.4 C-1.9,1 -1.2,0 0,0 Z" fill="url(#mg)"/>
<ellipse cx="0.52" cy="9.42" rx="1.78" ry="1.45" fill="#b4c4c4" opacity="0.45"/>
</g>
<g transform="translate(216.85,109.72) scale(0.95,0.95)">
<path d="M0,0 C1.2,0 1.9,1 2.1,2.4 C2.7,3.2 3.1,5 3.3,7.5 C3.4,10 3.6,11.6 3.5,12.6 L4.1,13.9 L2.5,13.3 L1.1,14 L0,13.3 L-1.1,14 L-2.5,13.3 L-4.1,13.9 L-3.5,12.6 C-3.6,11.6 -3.4,10 -3.3,7.5 C-3.1,5 -2.7,3.2 -2.1,2.4 C-1.9,1 -1.2,0 0,0 Z" fill="url(#mg)"/>
<ellipse cx="0.71" cy="8.89" rx="1.52" ry="1.96" fill="#b4c4c4" opacity="0.45"/>
</g>
<rect x="223.2" y="108.8" width="40.7" height="16.8" fill="#000" />
<g transform="translate(228.16,109.24) scale(0.98,0.98)">
<path d="M0,0 C1.2,0 1.9,1 2.1,2.4 C2.7,3.2 3.1,5 3.3,7.5 C3.4,10 3.6,11.6 3.5,12.6 L4.1,13.9 L2.5,13.3 L1.1,14 L0,13.3 L-1.1,14 L-2.5,13.3 L-4.1,13.9 L-3.5,12.6 C-3.6,11.6 -3.4,10 -3.3,7.5 C-3.1,5 -2.7,3.2 -2.1,2.4 C-1.9,1 -1.2,0 0,0 Z" fill="url(#mg)"/>
<ellipse cx="-0.43" cy="9.68" rx="1.52" ry="1.5" fill="#b4c4c4" opacity="0.45"/>
</g>
<g transform="translate(237.71,109.84) scale(0.95,0.95)">
<path d="M0,0 C1.2,0 1.9,1 2.1,2.4 C2.7,3.2 3.1,5 3.3,7.5 C3.4,10 3.6,11.6 3.5,12.6 L4.1,13.9 L2.5,13.3 L1.1,14 L0,13.3 L-1.1,14 L-2.5,13.3 L-4.1,13.9 L-3.5,12.6 C-3.6,11.6 -3.4,10 -3.3,7.5 C-3.1,5 -2.7,3.2 -2.1,2.4 C-1.9,1 -1.2,0 0,0 Z" fill="url(#mg)"/>
<ellipse cx="-0.62" cy="6.28" rx="1.42" ry="1.78" fill="#b4c4c4" opacity="0.45"/>
</g>
<g transform="translate(249.06,109.8) scale(0.97,0.97)">
<path d="M0,0 C1.2,0 1.9,1 2.1,2.4 C2.7,3.2 3.1,5 3.3,7.5 C3.4,10 3.6,11.6 3.5,12.6 L4.1,13.9 L2.5,13.3 L1.1,14 L0,13.3 L-1.1,14 L-2.5,13.3 L-4.1,13.9 L-3.5,12.6 C-3.6,11.6 -3.4,10 -3.3,7.5 C-3.1,5 -2.7,3.2 -2.1,2.4 C-1.9,1 -1.2,0 0,0 Z" fill="url(#mg)"/>
<ellipse cx="-0.32" cy="7.84" rx="1.77" ry="1.84" fill="#b4c4c4" opacity="0.45"/>
<ellipse cx="0" cy="10.5" rx="0.8" ry="0.6" fill="#2a3cff" opacity="1"/>
</g>
<g transform="translate(259.59,109.43) scale(1.02,1.02)">
<path d="M0,0 C1.2,0 1.9,1 2.1,2.4 C2.7,3.2 3.1,5 3.3,7.5 C3.4,10 3.6,11.6 3.5,12.6 L4.1,13.9 L2.5,13.3 L1.1,14 L0,13.3 L-1.1,14 L-2.5,13.3 L-4.1,13.9 L-3.5,12.6 C-3.6,11.6 -3.4,10 -3.3,7.5 C-3.1,5 -2.7,3.2 -2.1,2.4 C-1.9,1 -1.2,0 0,0 Z" fill="url(#mg)"/>
<ellipse cx="0.74" cy="8.82" rx="1.25" ry="1.22" fill="#b4c4c4" opacity="0.45"/>
</g>
<rect x="91" y="127.2" width="43" height="15.6" fill="#000" />
<g transform="translate(96.4,128.02) scale(0.91,0.91)">
<path d="M0,0 C1.2,0 1.9,1 2.1,2.4 C2.7,3.2 3.1,5 3.3,7.5 C3.4,10 3.6,11.6 3.5,12.6 L4.1,13.9 L2.5,13.3 L1.1,14 L0,13.3 L-1.1,14 L-2.5,13.3 L-4.1,13.9 L-3.5,12.6 C-3.6,11.6 -3.4,10 -3.3,7.5 C-3.1,5 -2.7,3.2 -2.1,2.4 C-1.9,1 -1.2,0 0,0 Z" fill="url(#mg)"/>
<ellipse cx="0.27" cy="9.7" rx="1.18" ry="1.23" fill="#b4c4c4" opacity="0.45"/>
</g>
<g transform="translate(106.58,128.28) scale(0.9,0.9)">
<path d="M0,0 C1.2,0 1.9,1 2.1,2.4 C2.7,3.2 3.1,5 3.3,7.5 C3.4,10 3.6,11.6 3.5,12.6 L4.1,13.9 L2.5,13.3 L1.1,14 L0,13.3 L-1.1,14 L-2.5,13.3 L-4.1,13.9 L-3.5,12.6 C-3.6,11.6 -3.4,10 -3.3,7.5 C-3.1,5 -2.7,3.2 -2.1,2.4 C-1.9,1 -1.2,0 0,0 Z" fill="url(#mg)"/>
<ellipse cx="0.48" cy="8.96" rx="1.4" ry="1.41" fill="#b4c4c4" opacity="0.45"/>
</g>
<g transform="translate(118.47,128.42) scale(0.96,0.96)">
<path d="M0,0 C1.2,0 1.9,1 2.1,2.4 C2.7,3.2 3.1,5 3.3,7.5 C3.4,10 3.6,11.6 3.5,12.6 L4.1,13.9 L2.5,13.3 L1.1,14 L0,13.3 L-1.1,14 L-2.5,13.3 L-4.1,13.9 L-3.5,12.6 C-3.6,11.6 -3.4,10 -3.3,7.5 C-3.1,5 -2.7,3.2 -2.1,2.4 C-1.9,1 -1.2,0 0,0 Z" fill="url(#mg)"/>
<ellipse cx="-0.45" cy="9.04" rx="1.24" ry="2.15" fill="#b4c4c4" opacity="0.45"/>
</g>
<g transform="translate(129.05,127.82) scale(0.91,0.91)">
<path d="M0,0 C1.2,0 1.9,1 2.1,2.4 C2.7,3.2 3.1,5 3.3,7.5 C3.4,10 3.6,11.6 3.5,12.6 L4.1,13.9 L2.5,13.3 L1.1,14 L0,13.3 L-1.1,14 L-2.5,13.3 L-4.1,13.9 L-3.5,12.6 C-3.6,11.6 -3.4,10 -3.3,7.5 C-3.1,5 -2.7,3.2 -2.1,2.4 C-1.9,1 -1.2,0 0,0 Z" fill="url(#mg)"/>
<ellipse cx="0.26" cy="9.8" rx="1.12" ry="1.59" fill="#b4c4c4" opacity="0.45"/>
</g>
<rect x="135.9" y="127.2" width="43.6" height="15.6" fill="#000" />
<g transform="translate(141.8,127.74) scale(0.89,0.89)">
<path d="M0,0 C1.2,0 1.9,1 2.1,2.4 C2.7,3.2 3.1,5 3.3,7.5 C3.4,10 3.6,11.6 3.5,12.6 L4.1,13.9 L2.5,13.3 L1.1,14 L0,13.3 L-1.1,14 L-2.5,13.3 L-4.1,13.9 L-3.5,12.6 C-3.6,11.6 -3.4,10 -3.3,7.5 C-3.1,5 -2.7,3.2 -2.1,2.4 C-1.9,1 -1.2,0 0,0 Z" fill="url(#mg)"/>
<ellipse cx="-0.7" cy="7.57" rx="1.72" ry="2.08" fill="#b4c4c4" opacity="0.45"/>
<ellipse cx="0" cy="10.5" rx="0.8" ry="0.6" fill="#2a3cff" opacity="1"/>
</g>
<g transform="translate(152.51,128.53) scale(0.93,0.93)">
<path d="M0,0 C1.2,0 1.9,1 2.1,2.4 C2.7,3.2 3.1,5 3.3,7.5 C3.4,10 3.6,11.6 3.5,12.6 L4.1,13.9 L2.5,13.3 L1.1,14 L0,13.3 L-1.1,14 L-2.5,13.3 L-4.1,13.9 L-3.5,12.6 C-3.6,11.6 -3.4,10 -3.3,7.5 C-3.1,5 -2.7,3.2 -2.1,2.4 C-1.9,1 -1.2,0 0,0 Z" fill="url(#mg)"/>
<ellipse cx="-0.5" cy="9.74" rx="1.6" ry="1.23" fill="#b4c4c4" opacity="0.45"/>
</g>
<g transform="translate(163.85,127.97) scale(0.93,0.93)">
<path d="M0,0 C1.2,0 1.9,1 2.1,2.4 C2.7,3.2 3.1,5 3.3,7.5 C3.4,10 3.6,11.6 3.5,12.6 L4.1,13.9 L2.5,13.3 L1.1,14 L0,13.3 L-1.1,14 L-2.5,13.3 L-4.1,13.9 L-3.5,12.6 C-3.6,11.6 -3.4,10 -3.3,7.5 C-3.1,5 -2.7,3.2 -2.1,2.4 C-1.9,1 -1.2,0 0,0 Z" fill="url(#mg)"/>
<ellipse cx="-0.53" cy="6.01" rx="1.22" ry="1.55" fill="#b4c4c4" opacity="0.45"/>
</g>
<g transform="translate(174.4,128.56) scale(0.95,0.95)">
<path d="M0,0 C1.2,0 1.9,1 2.1,2.4 C2.7,3.2 3.1,5 3.3,7.5 C3.4,10 3.6,11.6 3.5,12.6 L4.1,13.9 L2.5,13.3 L1.1,14 L0,13.3 L-1.1,14 L-2.5,13.3 L-4.1,13.9 L-3.5,12.6 C-3.6,11.6 -3.4,10 -3.3,7.5 C-3.1,5 -2.7,3.2 -2.1,2.4 C-1.9,1 -1.2,0 0,0 Z" fill="url(#mg)"/>
<ellipse cx="-0.23" cy="9.29" rx="1.66" ry="1.63" fill="#b4c4c4" opacity="0.45"/>
</g>
<rect x="181" y="127.2" width="40.6" height="15.6" fill="#000" />
<g transform="translate(185.83,127.97) scale(0.87,0.87)">
<path d="M0,0 C1.2,0 1.9,1 2.1,2.4 C2.7,3.2 3.1,5 3.3,7.5 C3.4,10 3.6,11.6 3.5,12.6 L4.1,13.9 L2.5,13.3 L1.1,14 L0,13.3 L-1.1,14 L-2.5,13.3 L-4.1,13.9 L-3.5,12.6 C-3.6,11.6 -3.4,10 -3.3,7.5 C-3.1,5 -2.7,3.2 -2.1,2.4 C-1.9,1 -1.2,0 0,0 Z" fill="url(#mg)"/>
<ellipse cx="-0.49" cy="7.46" rx="1.72" ry="1.23" fill="#b4c4c4" opacity="0.45"/>
</g>
<g transform="translate(196.26,128.37) scale(0.91,0.91)">
<path d="M0,0 C1.2,0 1.9,1 2.1,2.4 C2.7,3.2 3.1,5 3.3,7.5 C3.4,10 3.6,11.6 3.5,12.6 L4.1,13.9 L2.5,13.3 L1.1,14 L0,13.3 L-1.1,14 L-2.5,13.3 L-4.1,13.9 L-3.5,12.6 C-3.6,11.6 -3.4,10 -3.3,7.5 C-3.1,5 -2.7,3.2 -2.1,2.4 C-1.9,1 -1.2,0 0,0 Z" fill="url(#mg)"/>
<ellipse cx="-0.74" cy="6.25" rx="1.74" ry="1.46" fill="#b4c4c4" opacity="0.45"/>
<ellipse cx="0" cy="10.5" rx="0.8" ry="0.6" fill="#2a3cff" opacity="1"/>
</g>
<g transform="translate(207.74,127.94) scale(0.94,0.94)">
<path d="M0,0 C1.2,0 1.9,1 2.1,2.4 C2.7,3.2 3.1,5 3.3,7.5 C3.4,10 3.6,11.6 3.5,12.6 L4.1,13.9 L2.5,13.3 L1.1,14 L0,13.3 L-1.1,14 L-2.5,13.3 L-4.1,13.9 L-3.5,12.6 C-3.6,11.6 -3.4,10 -3.3,7.5 C-3.1,5 -2.7,3.2 -2.1,2.4 C-1.9,1 -1.2,0 0,0 Z" fill="url(#mg)"/>
<ellipse cx="0.73" cy="8.47" rx="1.21" ry="1.92" fill="#b4c4c4" opacity="0.45"/>
</g>
<g transform="translate(217.02,127.6) scale(0.9,0.9)">
<path d="M0,0 C1.2,0 1.9,1 2.1,2.4 C2.7,3.2 3.1,5 3.3,7.5 C3.4,10 3.6,11.6 3.5,12.6 L4.1,13.9 L2.5,13.3 L1.1,14 L0,13.3 L-1.1,14 L-2.5,13.3 L-4.1,13.9 L-3.5,12.6 C-3.6,11.6 -3.4,10 -3.3,7.5 C-3.1,5 -2.7,3.2 -2.1,2.4 C-1.9,1 -1.2,0 0,0 Z" fill="url(#mg)"/>
<ellipse cx="0.67" cy="8.54" rx="1.75" ry="1.22" fill="#b4c4c4" opacity="0.45"/>
</g>
<rect x="223.2" y="127.2" width="40.7" height="15.6" fill="#000" />
<g transform="translate(228.05,128.56) scale(0.89,0.89)">
<path d="M0,0 C1.2,0 1.9,1 2.1,2.4 C2.7,3.2 3.1,5 3.3,7.5 C3.4,10 3.6,11.6 3.5,12.6 L4.1,13.9 L2.5,13.3 L1.1,14 L0,13.3 L-1.1,14 L-2.5,13.3 L-4.1,13.9 L-3.5,12.6 C-3.6,11.6 -3.4,10 -3.3,7.5 C-3.1,5 -2.7,3.2 -2.1,2.4 C-1.9,1 -1.2,0 0,0 Z" fill="url(#mg)"/>
<ellipse cx="-0.18" cy="7" rx="1.34" ry="1.69" fill="#b4c4c4" opacity="0.45"/>
</g>
<g transform="translate(237.61,128.4) scale(0.95,0.95)">
<path d="M0,0 C1.2,0 1.9,1 2.1,2.4 C2.7,3.2 3.1,5 3.3,7.5 C3.4,10 3.6,11.6 3.5,12.6 L4.1,13.9 L2.5,13.3 L1.1,14 L0,13.3 L-1.1,14 L-2.5,13.3 L-4.1,13.9 L-3.5,12.6 C-3.6,11.6 -3.4,10 -3.3,7.5 C-3.1,5 -2.7,3.2 -2.1,2.4 C-1.9,1 -1.2,0 0,0 Z" fill="url(#mg)"/>
<ellipse cx="0.52" cy="9.09" rx="1.49" ry="1.53" fill="#b4c4c4" opacity="0.45"/>
</g>
<g transform="translate(249.26,128.38) scale(0.9,0.9)">
<path d="M0,0 C1.2,0 1.9,1 2.1,2.4 C2.7,3.2 3.1,5 3.3,7.5 C3.4,10 3.6,11.6 3.5,12.6 L4.1,13.9 L2.5,13.3 L1.1,14 L0,13.3 L-1.1,14 L-2.5,13.3 L-4.1,13.9 L-3.5,12.6 C-3.6,11.6 -3.4,10 -3.3,7.5 C-3.1,5 -2.7,3.2 -2.1,2.4 C-1.9,1 -1.2,0 0,0 Z" fill="url(#mg)"/>
<ellipse cx="-0.48" cy="9.01" rx="1.2" ry="1.26" fill="#b4c4c4" opacity="0.45"/>
<ellipse cx="0" cy="10.5" rx="0.8" ry="0.6" fill="#2a3cff" opacity="1"/>
</g>
<g transform="translate(259.7,127.93) scale(0.87,0.87)">
<path d="M0,0 C1.2,0 1.9,1 2.1,2.4 C2.7,3.2 3.1,5 3.3,7.5 C3.4,10 3.6,11.6 3.5,12.6 L4.1,13.9 L2.5,13.3 L1.1,14 L0,13.3 L-1.1,14 L-2.5,13.3 L-4.1,13.9 L-3.5,12.6 C-3.6,11.6 -3.4,10 -3.3,7.5 C-3.1,5 -2.7,3.2 -2.1,2.4 C-1.9,1 -1.2,0 0,0 Z" fill="url(#mg)"/>
<ellipse cx="0.61" cy="9.95" rx="1.21" ry="1.28" fill="#b4c4c4" opacity="0.45"/>
</g>
<rect x="91" y="144.6" width="43" height="14.5" fill="#000" />
<g transform="translate(96.16,145.71) scale(0.82,0.82)">
<path d="M0,0 C1.2,0 1.9,1 2.1,2.4 C2.7,3.2 3.1,5 3.3,7.5 C3.4,10 3.6,11.6 3.5,12.6 L4.1,13.9 L2.5,13.3 L1.1,14 L0,13.3 L-1.1,14 L-2.5,13.3 L-4.1,13.9 L-3.5,12.6 C-3.6,11.6 -3.4,10 -3.3,7.5 C-3.1,5 -2.7,3.2 -2.1,2.4 C-1.9,1 -1.2,0 0,0 Z" fill="url(#mg)"/>
<ellipse cx="-0.43" cy="7.67" rx="1.5" ry="1.87" fill="#b4c4c4" opacity="0.45"/>
</g>
<g transform="translate(107.18,145.66) scale(0.87,0.87)">
<path d="M0,0 C1.2,0 1.9,1 2.1,2.4 C2.7,3.2 3.1,5 3.3,7.5 C3.4,10 3.6,11.6 3.5,12.6 L4.1,13.9 L2.5,13.3 L1.1,14 L0,13.3 L-1.1,14 L-2.5,13.3 L-4.1,13.9 L-3.5,12.6 C-3.6,11.6 -3.4,10 -3.3,7.5 C-3.1,5 -2.7,3.2 -2.1,2.4 C-1.9,1 -1.2,0 0,0 Z" fill="url(#mg)"/>
<ellipse cx="0.55" cy="7.18" rx="1.45" ry="1.57" fill="#b4c4c4" opacity="0.45"/>
</g>
<g transform="translate(118.31,145.25) scale(0.87,0.87)">
<path d="M0,0 C1.2,0 1.9,1 2.1,2.4 C2.7,3.2 3.1,5 3.3,7.5 C3.4,10 3.6,11.6 3.5,12.6 L4.1,13.9 L2.5,13.3 L1.1,14 L0,13.3 L-1.1,14 L-2.5,13.3 L-4.1,13.9 L-3.5,12.6 C-3.6,11.6 -3.4,10 -3.3,7.5 C-3.1,5 -2.7,3.2 -2.1,2.4 C-1.9,1 -1.2,0 0,0 Z" fill="url(#mg)"/>
<ellipse cx="-0.55" cy="9.54" rx="1.46" ry="1.53" fill="#b4c4c4" opacity="0.45"/>
</g>
<g transform="translate(130.17,145.51) scale(0.84,0.84)">
<path d="M0,0 C1.2,0 1.9,1 2.1,2.4 C2.7,3.2 3.1,5 3.3,7.5 C3.4,10 3.6,11.6 3.5,12.6 L4.1,13.9 L2.5,13.3 L1.1,14 L0,13.3 L-1.1,14 L-2.5,13.3 L-4.1,13.9 L-3.5,12.6 C-3.6,11.6 -3.4,10 -3.3,7.5 C-3.1,5 -2.7,3.2 -2.1,2.4 C-1.9,1 -1.2,0 0,0 Z" fill="url(#mg)"/>
<ellipse cx="0.49" cy="8.61" rx="1.79" ry="1.3" fill="#b4c4c4" opacity="0.45"/>
</g>
<rect x="135.9" y="144.6" width="43.6" height="14.5" fill="#000" />
<g transform="translate(141.58,145.84) scale(0.85,0.85)">
<path d="M0,0 C1.2,0 1.9,1 2.1,2.4 C2.7,3.2 3.1,5 3.3,7.5 C3.4,10 3.6,11.6 3.5,12.6 L4.1,13.9 L2.5,13.3 L1.1,14 L0,13.3 L-1.1,14 L-2.5,13.3 L-4.1,13.9 L-3.5,12.6 C-3.6,11.6 -3.4,10 -3.3,7.5 C-3.1,5 -2.7,3.2 -2.1,2.4 C-1.9,1 -1.2,0 0,0 Z" fill="url(#mg)"/>
<ellipse cx="-0.74" cy="7.17" rx="1.1" ry="1.39" fill="#b4c4c4" opacity="0.45"/>
</g>
<g transform="translate(151.93,145.93) scale(0.89,0.89)">
<path d="M0,0 C1.2,0 1.9,1 2.1,2.4 C2.7,3.2 3.1,5 3.3,7.5 C3.4,10 3.6,11.6 3.5,12.6 L4.1,13.9 L2.5,13.3 L1.1,14 L0,13.3 L-1.1,14 L-2.5,13.3 L-4.1,13.9 L-3.5,12.6 C-3.6,11.6 -3.4,10 -3.3,7.5 C-3.1,5 -2.7,3.2 -2.1,2.4 C-1.9,1 -1.2,0 0,0 Z" fill="url(#mg)"/>
<ellipse cx="0.59" cy="7.8" rx="1.21" ry="1.98" fill="#b4c4c4" opacity="0.45"/>
</g>
<g transform="translate(163.47,145.6) scale(0.89,0.89)">
<path d="M0,0 C1.2,0 1.9,1 2.1,2.4 C2.7,3.2 3.1,5 3.3,7.5 C3.4,10 3.6,11.6 3.5,12.6 L4.1,13.9 L2.5,13.3 L1.1,14 L0,13.3 L-1.1,14 L-2.5,13.3 L-4.1,13.9 L-3.5,12.6 C-3.6,11.6 -3.4,10 -3.3,7.5 C-3.1,5 -2.7,3.2 -2.1,2.4 C-1.9,1 -1.2,0 0,0 Z" fill="url(#mg)"/>
<ellipse cx="-0.45" cy="7.47" rx="1.11" ry="1.4" fill="#b4c4c4" opacity="0.45"/>
</g>
<g transform="translate(175.06,145.65) scale(0.83,0.83)">
<path d="M0,0 C1.2,0 1.9,1 2.1,2.4 C2.7,3.2 3.1,5 3.3,7.5 C3.4,10 3.6,11.6 3.5,12.6 L4.1,13.9 L2.5,13.3 L1.1,14 L0,13.3 L-1.1,14 L-2.5,13.3 L-4.1,13.9 L-3.5,12.6 C-3.6,11.6 -3.4,10 -3.3,7.5 C-3.1,5 -2.7,3.2 -2.1,2.4 C-1.9,1 -1.2,0 0,0 Z" fill="url(#mg)"/>
<ellipse cx="-0.78" cy="7.31" rx="1.54" ry="1.39" fill="#b4c4c4" opacity="0.45"/>
</g>
<rect x="181" y="144.6" width="40.6" height="14.5" fill="#000" />
<g transform="translate(185.46,145.8) scale(0.83,0.83)">
<path d="M0,0 C1.2,0 1.9,1 2.1,2.4 C2.7,3.2 3.1,5 3.3,7.5 C3.4,10 3.6,11.6 3.5,12.6 L4.1,13.9 L2.5,13.3 L1.1,14 L0,13.3 L-1.1,14 L-2.5,13.3 L-4.1,13.9 L-3.5,12.6 C-3.6,11.6 -3.4,10 -3.3,7.5 C-3.1,5 -2.7,3.2 -2.1,2.4 C-1.9,1 -1.2,0 0,0 Z" fill="url(#mg)"/>
<ellipse cx="-0.7" cy="6.41" rx="1.32" ry="1.75" fill="#b4c4c4" opacity="0.45"/>
</g>
<g transform="translate(195.25,145.16) scale(0.86,0.86)">
<path d="M0,0 C1.2,0 1.9,1 2.1,2.4 C2.7,3.2 3.1,5 3.3,7.5 C3.4,10 3.6,11.6 3.5,12.6 L4.1,13.9 L2.5,13.3 L1.1,14 L0,13.3 L-1.1,14 L-2.5,13.3 L-4.1,13.9 L-3.5,12.6 C-3.6,11.6 -3.4,10 -3.3,7.5 C-3.1,5 -2.7,3.2 -2.1,2.4 C-1.9,1 -1.2,0 0,0 Z" fill="url(#mg)"/>
<ellipse cx="-0.14" cy="7.13" rx="1.25" ry="2.15" fill="#b4c4c4" opacity="0.45"/>
</g>
<g transform="translate(207.28,145.36) scale(0.83,0.83)">
<path d="M0,0 C1.2,0 1.9,1 2.1,2.4 C2.7,3.2 3.1,5 3.3,7.5 C3.4,10 3.6,11.6 3.5,12.6 L4.1,13.9 L2.5,13.3 L1.1,14 L0,13.3 L-1.1,14 L-2.5,13.3 L-4.1,13.9 L-3.5,12.6 C-3.6,11.6 -3.4,10 -3.3,7.5 C-3.1,5 -2.7,3.2 -2.1,2.4 C-1.9,1 -1.2,0 0,0 Z" fill="url(#mg)"/>
<ellipse cx="0.58" cy="9.99" rx="1.29" ry="1.4" fill="#b4c4c4" opacity="0.45"/>
</g>
<g transform="translate(216.92,145.01) scale(0.87,0.87)">
<path d="M0,0 C1.2,0 1.9,1 2.1,2.4 C2.7,3.2 3.1,5 3.3,7.5 C3.4,10 3.6,11.6 3.5,12.6 L4.1,13.9 L2.5,13.3 L1.1,14 L0,13.3 L-1.1,14 L-2.5,13.3 L-4.1,13.9 L-3.5,12.6 C-3.6,11.6 -3.4,10 -3.3,7.5 C-3.1,5 -2.7,3.2 -2.1,2.4 C-1.9,1 -1.2,0 0,0 Z" fill="url(#mg)"/>
<ellipse cx="-0.12" cy="9.28" rx="1.32" ry="2.08" fill="#b4c4c4" opacity="0.45"/>
</g>
<rect x="223.2" y="144.6" width="40.7" height="14.5" fill="#000" />
<g transform="translate(227.61,145.01) scale(0.85,0.85)">
<path d="M0,0 C1.2,0 1.9,1 2.1,2.4 C2.7,3.2 3.1,5 3.3,7.5 C3.4,10 3.6,11.6 3.5,12.6 L4.1,13.9 L2.5,13.3 L1.1,14 L0,13.3 L-1.1,14 L-2.5,13.3 L-4.1,13.9 L-3.5,12.6 C-3.6,11.6 -3.4,10 -3.3,7.5 C-3.1,5 -2.7,3.2 -2.1,2.4 C-1.9,1 -1.2,0 0,0 Z" fill="url(#mg)"/>
<ellipse cx="0.23" cy="9.64" rx="1.07" ry="1.82" fill="#b4c4c4" opacity="0.45"/>
</g>
<g transform="translate(238.06,145.15) scale(0.84,0.84)">
<path d="M0,0 C1.2,0 1.9,1 2.1,2.4 C2.7,3.2 3.1,5 3.3,7.5 C3.4,10 3.6,11.6 3.5,12.6 L4.1,13.9 L2.5,13.3 L1.1,14 L0,13.3 L-1.1,14 L-2.5,13.3 L-4.1,13.9 L-3.5,12.6 C-3.6,11.6 -3.4,10 -3.3,7.5 C-3.1,5 -2.7,3.2 -2.1,2.4 C-1.9,1 -1.2,0 0,0 Z" fill="url(#mg)"/>
<ellipse cx="0.03" cy="9.7" rx="1.09" ry="1.69" fill="#b4c4c4" opacity="0.45"/>
</g>
<g transform="translate(250.11,145.2) scale(0.87,0.87)">
<path d="M0,0 C1.2,0 1.9,1 2.1,2.4 C2.7,3.2 3.1,5 3.3,7.5 C3.4,10 3.6,11.6 3.5,12.6 L4.1,13.9 L2.5,13.3 L1.1,14 L0,13.3 L-1.1,14 L-2.5,13.3 L-4.1,13.9 L-3.5,12.6 C-3.6,11.6 -3.4,10 -3.3,7.5 C-3.1,5 -2.7,3.2 -2.1,2.4 C-1.9,1 -1.2,0 0,0 Z" fill="url(#mg)"/>
<ellipse cx="0.71" cy="9.9" rx="1.39" ry="1.25" fill="#b4c4c4" opacity="0.45"/>
</g>
<g transform="translate(259.47,145.9) scale(0.88,0.88)">
<path d="M0,0 C1.2,0 1.9,1 2.1,2.4 C2.7,3.2 3.1,5 3.3,7.5 C3.4,10 3.6,11.6 3.5,12.6 L4.1,13.9 L2.5,13.3 L1.1,14 L0,13.3 L-1.1,14 L-2.5,13.3 L-4.1,13.9 L-3.5,12.6 C-3.6,11.6 -3.4,10 -3.3,7.5 C-3.1,5 -2.7,3.2 -2.1,2.4 C-1.9,1 -1.2,0 0,0 Z" fill="url(#mg)"/>
<ellipse cx="0.52" cy="6.64" rx="1.63" ry="1.42" fill="#b4c4c4" opacity="0.45"/>
</g>
<rect x="29" y="33" width="47" height="18.2" fill="#000" />
<g transform="translate(33.47,33.4) scale(1.15,1.17)">
<path d="M0,0 C1.2,0 1.9,1 2.1,2.4 C2.7,3.2 3.1,5 3.3,7.5 C3.4,10 3.6,11.6 3.5,12.6 L4.1,13.9 L2.5,13.3 L1.1,14 L0,13.3 L-1.1,14 L-2.5,13.3 L-4.1,13.9 L-3.5,12.6 C-3.6,11.6 -3.4,10 -3.3,7.5 C-3.1,5 -2.7,3.2 -2.1,2.4 C-1.9,1 -1.2,0 0,0 Z" fill="url(#mg)"/>
<ellipse cx="-0.15" cy="9.39" rx="1.66" ry="1.38" fill="#b4c4c4" opacity="0.45"/>
<ellipse cx="0" cy="6.4" rx="3" ry="1.8" fill="#2a3cff" opacity="1"/>
<ellipse cx="0" cy="6.6" rx="1.4" ry="0.8" fill="#40ff40" opacity="1"/>
<ellipse cx="0" cy="6.6" rx="0.6" ry="0.4" fill="#ffff00" opacity="1"/>
<ellipse cx="-3.4" cy="12" rx="1.4" ry="1.1" fill="#2a3cff" opacity="1"/>
<ellipse cx="3.4" cy="12" rx="1.4" ry="1.1" fill="#2a3cff" opacity="1"/>
<ellipse cx="-3.4" cy="12" rx="0.7" ry="0.5" fill="#40ff40" opacity="1"/>
<ellipse cx="3.4" cy="12" rx="0.7" ry="0.5" fill="#40ff40" opacity="1"/>
<ellipse cx="0" cy="11.2" rx="1.2" ry="0.9" fill="#2a3cff" opacity="1"/>
</g>
<g transform="translate(42.98,33.4) scale(1.15,1.17)">
<path d="M0,0 C1.2,0 1.9,1 2.1,2.4 C2.7,3.2 3.1,5 3.3,7.5 C3.4,10 3.6,11.6 3.5,12.6 L4.1,13.9 L2.5,13.3 L1.1,14 L0,13.3 L-1.1,14 L-2.5,13.3 L-4.1,13.9 L-3.5,12.6 C-3.6,11.6 -3.4,10 -3.3,7.5 C-3.1,5 -2.7,3.2 -2.1,2.4 C-1.9,1 -1.2,0 0,0 Z" fill="url(#mg)"/>
<ellipse cx="-0.45" cy="7.6" rx="1.41" ry="1.58" fill="#b4c4c4" opacity="0.45"/>
<ellipse cx="0" cy="6.4" rx="3" ry="1.8" fill="#2a3cff" opacity="1"/>
<ellipse cx="0" cy="6.6" rx="1.4" ry="0.8" fill="#40ff40" opacity="1"/>
<ellipse cx="0" cy="6.6" rx="0.6" ry="0.4" fill="#ffff00" opacity="1"/>
<ellipse cx="-3.4" cy="12" rx="1.4" ry="1.1" fill="#2a3cff" opacity="1"/>
<ellipse cx="3.4" cy="12" rx="1.4" ry="1.1" fill="#2a3cff" opacity="1"/>
<ellipse cx="-3.4" cy="12" rx="0.7" ry="0.5" fill="#40ff40" opacity="1"/>
<ellipse cx="3.4" cy="12" rx="0.7" ry="0.5" fill="#40ff40" opacity="1"/>
<ellipse cx="0" cy="11.2" rx="1.2" ry="0.9" fill="#2a3cff" opacity="1"/>
</g>
<g transform="translate(52.5,33.4) scale(1.15,1.17)">
<path d="M0,0 C1.2,0 1.9,1 2.1,2.4 C2.7,3.2 3.1,5 3.3,7.5 C3.4,10 3.6,11.6 3.5,12.6 L4.1,13.9 L2.5,13.3 L1.1,14 L0,13.3 L-1.1,14 L-2.5,13.3 L-4.1,13.9 L-3.5,12.6 C-3.6,11.6 -3.4,10 -3.3,7.5 C-3.1,5 -2.7,3.2 -2.1,2.4 C-1.9,1 -1.2,0 0,0 Z" fill="url(#mg)"/>
<ellipse cx="-0.6" cy="6.99" rx="1.58" ry="2.1" fill="#b4c4c4" opacity="0.45"/>
<ellipse cx="0" cy="6.4" rx="3" ry="1.8" fill="#2a3cff" opacity="1"/>
<ellipse cx="0" cy="6.6" rx="1.4" ry="0.8" fill="#40ff40" opacity="1"/>
<ellipse cx="0" cy="6.6" rx="0.6" ry="0.4" fill="#ffff00" opacity="1"/>
<ellipse cx="-3.4" cy="12" rx="1.4" ry="1.1" fill="#2a3cff" opacity="1"/>
<ellipse cx="3.4" cy="12" rx="1.4" ry="1.1" fill="#2a3cff" opacity="1"/>
<ellipse cx="-3.4" cy="12" rx="0.7" ry="0.5" fill="#40ff40" opacity="1"/>
<ellipse cx="3.4" cy="12" rx="0.7" ry="0.5" fill="#40ff40" opacity="1"/>
<ellipse cx="0" cy="11.2" rx="1.2" ry="0.9" fill="#2a3cff" opacity="1"/>
</g>
<g transform="translate(62.02,33.4) scale(1.15,1.17)">
<path d="M0,0 C1.2,0 1.9,1 2.1,2.4 C2.7,3.2 3.1,5 3.3,7.5 C3.4,10 3.6,11.6 3.5,12.6 L4.1,13.9 L2.5,13.3 L1.1,14 L0,13.3 L-1.1,14 L-2.5,13.3 L-4.1,13.9 L-3.5,12.6 C-3.6,11.6 -3.4,10 -3.3,7.5 C-3.1,5 -2.7,3.2 -2.1,2.4 C-1.9,1 -1.2,0 0,0 Z" fill="url(#mg)"/>
<ellipse cx="-0.73" cy="8.25" rx="1.61" ry="1.24" fill="#b4c4c4" opacity="0.45"/>
<ellipse cx="0" cy="6.4" rx="3" ry="1.8" fill="#2a3cff" opacity="1"/>
<ellipse cx="0" cy="6.6" rx="1.4" ry="0.8" fill="#40ff40" opacity="1"/>
<ellipse cx="0" cy="6.6" rx="0.6" ry="0.4" fill="#ffff00" opacity="1"/>
<ellipse cx="-3.4" cy="12" rx="1.4" ry="1.1" fill="#2a3cff" opacity="1"/>
<ellipse cx="3.4" cy="12" rx="1.4" ry="1.1" fill="#2a3cff" opacity="1"/>
<ellipse cx="-3.4" cy="12" rx="0.7" ry="0.5" fill="#40ff40" opacity="1"/>
<ellipse cx="3.4" cy="12" rx="0.7" ry="0.5" fill="#40ff40" opacity="1"/>
<ellipse cx="0" cy="11.2" rx="1.2" ry="0.9" fill="#2a3cff" opacity="1"/>
</g>
<g transform="translate(71.53,33.4) scale(1.15,1.17)">
<path d="M0,0 C1.2,0 1.9,1 2.1,2.4 C2.7,3.2 3.1,5 3.3,7.5 C3.4,10 3.6,11.6 3.5,12.6 L4.1,13.9 L2.5,13.3 L1.1,14 L0,13.3 L-1.1,14 L-2.5,13.3 L-4.1,13.9 L-3.5,12.6 C-3.6,11.6 -3.4,10 -3.3,7.5 C-3.1,5 -2.7,3.2 -2.1,2.4 C-1.9,1 -1.2,0 0,0 Z" fill="url(#mg)"/>
<ellipse cx="0.54" cy="6.47" rx="1.48" ry="1.75" fill="#b4c4c4" opacity="0.45"/>
<ellipse cx="0" cy="6.4" rx="3" ry="1.8" fill="#2a3cff" opacity="1"/>
<ellipse cx="0" cy="6.6" rx="1.4" ry="0.8" fill="#40ff40" opacity="1"/>
<ellipse cx="0" cy="6.6" rx="0.6" ry="0.4" fill="#ffff00" opacity="1"/>
<ellipse cx="-3.4" cy="12" rx="1.4" ry="1.1" fill="#2a3cff" opacity="1"/>
<ellipse cx="3.4" cy="12" rx="1.4" ry="1.1" fill="#2a3cff" opacity="1"/>
<ellipse cx="-3.4" cy="12" rx="0.7" ry="0.5" fill="#40ff40" opacity="1"/>
<ellipse cx="3.4" cy="12" rx="0.7" ry="0.5" fill="#40ff40" opacity="1"/>
<ellipse cx="0" cy="11.2" rx="1.2" ry="0.9" fill="#2a3cff" opacity="1"/>
</g>
<rect x="30" y="53" width="45.7" height="15.9" fill="#000" />
<g transform="translate(34.34,53.4) scale(1.12,1.02)">
<path d="M0,0 C1.2,0 1.9,1 2.1,2.4 C2.7,3.2 3.1,5 3.3,7.5 C3.4,10 3.6,11.6 3.5,12.6 L4.1,13.9 L2.5,13.3 L1.1,14 L0,13.3 L-1.1,14 L-2.5,13.3 L-4.1,13.9 L-3.5,12.6 C-3.6,11.6 -3.4,10 -3.3,7.5 C-3.1,5 -2.7,3.2 -2.1,2.4 C-1.9,1 -1.2,0 0,0 Z" fill="#2040ff"/>
<ellipse cx="0" cy="7" rx="3.4" ry="5.6" fill="#33c0ff" opacity="1"/>
<ellipse cx="0" cy="7.2" rx="3.2" ry="5.2" fill="#40ff40" opacity="1"/>
<ellipse cx="0" cy="7.5" rx="3" ry="4.9" fill="#ff1a00" opacity="1"/>
<ellipse cx="0" cy="12.6" rx="3.7" ry="1.5" fill="#ff1a00" opacity="1"/>
<ellipse cx="0" cy="10.6" rx="3" ry="0.5" fill="#33c0ff" opacity="0.8"/>
<ellipse cx="0" cy="1.8" rx="1.4" ry="1.2" fill="#2a3cff" opacity="1"/>
<ellipse cx="0" cy="2.4" rx="0.9" ry="0.8" fill="#40ff40" opacity="1"/>
</g>
<g transform="translate(43.6,53.4) scale(1.12,1.02)">
<path d="M0,0 C1.2,0 1.9,1 2.1,2.4 C2.7,3.2 3.1,5 3.3,7.5 C3.4,10 3.6,11.6 3.5,12.6 L4.1,13.9 L2.5,13.3 L1.1,14 L0,13.3 L-1.1,14 L-2.5,13.3 L-4.1,13.9 L-3.5,12.6 C-3.6,11.6 -3.4,10 -3.3,7.5 C-3.1,5 -2.7,3.2 -2.1,2.4 C-1.9,1 -1.2,0 0,0 Z" fill="#2040ff"/>
<ellipse cx="0" cy="7" rx="3.4" ry="5.6" fill="#33c0ff" opacity="1"/>
<ellipse cx="0" cy="7.2" rx="3.2" ry="5.2" fill="#40ff40" opacity="1"/>
<ellipse cx="0" cy="7.5" rx="3" ry="4.9" fill="#ff1a00" opacity="1"/>
<ellipse cx="0" cy="12.6" rx="3.7" ry="1.5" fill="#ff1a00" opacity="1"/>
<ellipse cx="0" cy="10.6" rx="3" ry="0.5" fill="#33c0ff" opacity="0.8"/>
<ellipse cx="0" cy="1.8" rx="1.4" ry="1.2" fill="#2a3cff" opacity="1"/>
<ellipse cx="0" cy="2.4" rx="0.9" ry="0.8" fill="#40ff40" opacity="1"/>
</g>
<g transform="translate(52.85,53.4) scale(1.12,1.02)">
<path d="M0,0 C1.2,0 1.9,1 2.1,2.4 C2.7,3.2 3.1,5 3.3,7.5 C3.4,10 3.6,11.6 3.5,12.6 L4.1,13.9 L2.5,13.3 L1.1,14 L0,13.3 L-1.1,14 L-2.5,13.3 L-4.1,13.9 L-3.5,12.6 C-3.6,11.6 -3.4,10 -3.3,7.5 C-3.1,5 -2.7,3.2 -2.1,2.4 C-1.9,1 -1.2,0 0,0 Z" fill="#2040ff"/>
<ellipse cx="0" cy="7" rx="3.4" ry="5.6" fill="#33c0ff" opacity="1"/>
<ellipse cx="0" cy="7.2" rx="3.2" ry="5.2" fill="#40ff40" opacity="1"/>
<ellipse cx="0" cy="7.5" rx="3" ry="4.9" fill="#ff1a00" opacity="1"/>
<ellipse cx="0" cy="12.6" rx="3.7" ry="1.5" fill="#ff1a00" opacity="1"/>
<ellipse cx="0" cy="10.6" rx="3" ry="0.5" fill="#33c0ff" opacity="0.8"/>
<ellipse cx="0" cy="1.8" rx="1.4" ry="1.2" fill="#2a3cff" opacity="1"/>
<ellipse cx="0" cy="2.4" rx="0.9" ry="0.8" fill="#40ff40" opacity="1"/>
</g>
<g transform="translate(62.1,53.4) scale(1.12,1.02)">
<path d="M0,0 C1.2,0 1.9,1 2.1,2.4 C2.7,3.2 3.1,5 3.3,7.5 C3.4,10 3.6,11.6 3.5,12.6 L4.1,13.9 L2.5,13.3 L1.1,14 L0,13.3 L-1.1,14 L-2.5,13.3 L-4.1,13.9 L-3.5,12.6 C-3.6,11.6 -3.4,10 -3.3,7.5 C-3.1,5 -2.7,3.2 -2.1,2.4 C-1.9,1 -1.2,0 0,0 Z" fill="#2040ff"/>
<ellipse cx="0" cy="7" rx="3.4" ry="5.6" fill="#33c0ff" opacity="1"/>
<ellipse cx="0" cy="7.2" rx="3.2" ry="5.2" fill="#40ff40" opacity="1"/>
<ellipse cx="0" cy="7.5" rx="3" ry="4.9" fill="#ff1a00" opacity="1"/>
<ellipse cx="0" cy="12.6" rx="3.7" ry="1.5" fill="#ff1a00" opacity="1"/>
<ellipse cx="0" cy="10.6" rx="3" ry="0.5" fill="#33c0ff" opacity="0.8"/>
<ellipse cx="0" cy="1.8" rx="1.4" ry="1.2" fill="#2a3cff" opacity="1"/>
<ellipse cx="0" cy="2.4" rx="0.9" ry="0.8" fill="#40ff40" opacity="1"/>
</g>
<g transform="translate(71.36,53.4) scale(1.12,1.02)">
<path d="M0,0 C1.2,0 1.9,1 2.1,2.4 C2.7,3.2 3.1,5 3.3,7.5 C3.4,10 3.6,11.6 3.5,12.6 L4.1,13.9 L2.5,13.3 L1.1,14 L0,13.3 L-1.1,14 L-2.5,13.3 L-4.1,13.9 L-3.5,12.6 C-3.6,11.6 -3.4,10 -3.3,7.5 C-3.1,5 -2.7,3.2 -2.1,2.4 C-1.9,1 -1.2,0 0,0 Z" fill="#2040ff"/>
<ellipse cx="0" cy="7" rx="3.4" ry="5.6" fill="#33c0ff" opacity="1"/>
<ellipse cx="0" cy="7.2" rx="3.2" ry="5.2" fill="#40ff40" opacity="1"/>
<ellipse cx="0" cy="7.5" rx="3" ry="4.9" fill="#ff1a00" opacity="1"/>
<ellipse cx="0" cy="12.6" rx="3.7" ry="1.5" fill="#ff1a00" opacity="1"/>
<ellipse cx="0" cy="10.6" rx="3" ry="0.5" fill="#33c0ff" opacity="0.8"/>
<ellipse cx="0" cy="1.8" rx="1.4" ry="1.2" fill="#2a3cff" opacity="1"/>
<ellipse cx="0" cy="2.4" rx="0.9" ry="0.8" fill="#40ff40" opacity="1"/>
</g>
<rect x="29" y="71.7" width="47" height="16.5" fill="#000" />
<g transform="translate(33.47,72.1) scale(1.15,1.06)">
<path d="M0,0 C1.2,0 1.9,1 2.1,2.4 C2.7,3.2 3.1,5 3.3,7.5 C3.4,10 3.6,11.6 3.5,12.6 L4.1,13.9 L2.5,13.3 L1.1,14 L0,13.3 L-1.1,14 L-2.5,13.3 L-4.1,13.9 L-3.5,12.6 C-3.6,11.6 -3.4,10 -3.3,7.5 C-3.1,5 -2.7,3.2 -2.1,2.4 C-1.9,1 -1.2,0 0,0 Z" fill="#2040ff"/>
<ellipse cx="0" cy="7" rx="3.3" ry="6.8" fill="#2a3cff" opacity="1"/>
<ellipse cx="0" cy="7" rx="2.8" ry="6" fill="#33c0ff" opacity="1"/>
<ellipse cx="0" cy="7" rx="2.3" ry="5.2" fill="#40ff40" opacity="1"/>
<ellipse cx="0" cy="3.5" rx="1.5" ry="1.3" fill="#ffff00" opacity="1"/>
<ellipse cx="0" cy="6.5" rx="2.4" ry="1.3" fill="#ff1a00" opacity="1"/>
<ellipse cx="0" cy="9.3" rx="2.4" ry="1" fill="#2a3cff" opacity="1"/>
<ellipse cx="0" cy="12.2" rx="3.4" ry="1.5" fill="#ff1a00" opacity="1"/>
<ellipse cx="0" cy="12.2" rx="3.8" ry="0.5" fill="#ff8000" opacity="0.7"/>
</g>
<g transform="translate(42.98,72.1) scale(1.15,1.06)">
<path d="M0,0 C1.2,0 1.9,1 2.1,2.4 C2.7,3.2 3.1,5 3.3,7.5 C3.4,10 3.6,11.6 3.5,12.6 L4.1,13.9 L2.5,13.3 L1.1,14 L0,13.3 L-1.1,14 L-2.5,13.3 L-4.1,13.9 L-3.5,12.6 C-3.6,11.6 -3.4,10 -3.3,7.5 C-3.1,5 -2.7,3.2 -2.1,2.4 C-1.9,1 -1.2,0 0,0 Z" fill="#2040ff"/>
<ellipse cx="0" cy="7" rx="3.2" ry="6.8" fill="#3050ff" opacity="1"/>
<ellipse cx="0" cy="5" rx="1.2" ry="1" fill="#ffffff" opacity="1"/>
<ellipse cx="0.5" cy="9" rx="1.2" ry="1.4" fill="#e0e8ff" opacity="1"/>
<ellipse cx="0" cy="12.5" rx="2.5" ry="1.2" fill="#33c0ff" opacity="1"/>
</g>
<g transform="translate(52.5,72.1) scale(1.15,1.06)">
<path d="M0,0 C1.2,0 1.9,1 2.1,2.4 C2.7,3.2 3.1,5 3.3,7.5 C3.4,10 3.6,11.6 3.5,12.6 L4.1,13.9 L2.5,13.3 L1.1,14 L0,13.3 L-1.1,14 L-2.5,13.3 L-4.1,13.9 L-3.5,12.6 C-3.6,11.6 -3.4,10 -3.3,7.5 C-3.1,5 -2.7,3.2 -2.1,2.4 C-1.9,1 -1.2,0 0,0 Z" fill="#2040ff"/>
<ellipse cx="0" cy="7" rx="3.3" ry="6.8" fill="#2a3cff" opacity="1"/>
<ellipse cx="0" cy="7" rx="2.8" ry="6" fill="#33c0ff" opacity="1"/>
<ellipse cx="0" cy="7" rx="2.3" ry="5.2" fill="#40ff40" opacity="1"/>
<ellipse cx="0" cy="3.5" rx="1.5" ry="1.3" fill="#ffff00" opacity="1"/>
<ellipse cx="0" cy="6.5" rx="2.4" ry="1.3" fill="#ff1a00" opacity="1"/>
<ellipse cx="0" cy="9.3" rx="2.4" ry="1" fill="#2a3cff" opacity="1"/>
<ellipse cx="0" cy="12.2" rx="3.4" ry="1.5" fill="#ff1a00" opacity="1"/>
<ellipse cx="0" cy="12.2" rx="3.8" ry="0.5" fill="#ff8000" opacity="0.7"/>
</g>
<g transform="translate(62.02,72.1) scale(1.15,1.06)">
<path d="M0,0 C1.2,0 1.9,1 2.1,2.4 C2.7,3.2 3.1,5 3.3,7.5 C3.4,10 3.6,11.6 3.5,12.6 L4.1,13.9 L2.5,13.3 L1.1,14 L0,13.3 L-1.1,14 L-2.5,13.3 L-4.1,13.9 L-3.5,12.6 C-3.6,11.6 -3.4,10 -3.3,7.5 C-3.1,5 -2.7,3.2 -2.1,2.4 C-1.9,1 -1.2,0 0,0 Z" fill="#2040ff"/>
<ellipse cx="0" cy="7" rx="3.3" ry="6.8" fill="#2a3cff" opacity="1"/>
<ellipse cx="0" cy="7" rx="2.8" ry="6" fill="#33c0ff" opacity="1"/>
<ellipse cx="0" cy="7" rx="2.3" ry="5.2" fill="#40ff40" opacity="1"/>
<ellipse cx="0" cy="3.5" rx="1.5" ry="1.3" fill="#ffff00" opacity="1"/>
<ellipse cx="0" cy="6.5" rx="2.4" ry="1.3" fill="#ff1a00" opacity="1"/>
<ellipse cx="0" cy="9.3" rx="2.4" ry="1" fill="#2a3cff" opacity="1"/>
<ellipse cx="0" cy="12.2" rx="3.4" ry="1.5" fill="#ff1a00" opacity="1"/>
<ellipse cx="0" cy="12.2" rx="3.8" ry="0.5" fill="#ff8000" opacity="0.7"/>
</g>
<g transform="translate(71.53,72.1) scale(1.15,1.06)">
<path d="M0,0 C1.2,0 1.9,1 2.1,2.4 C2.7,3.2 3.1,5 3.3,7.5 C3.4,10 3.6,11.6 3.5,12.6 L4.1,13.9 L2.5,13.3 L1.1,14 L0,13.3 L-1.1,14 L-2.5,13.3 L-4.1,13.9 L-3.5,12.6 C-3.6,11.6 -3.4,10 -3.3,7.5 C-3.1,5 -2.7,3.2 -2.1,2.4 C-1.9,1 -1.2,0 0,0 Z" fill="#2040ff"/>
<ellipse cx="0" cy="7" rx="3.3" ry="6.8" fill="#2a3cff" opacity="1"/>
<ellipse cx="0" cy="7" rx="2.8" ry="6" fill="#33c0ff" opacity="1"/>
<ellipse cx="0" cy="7" rx="2.3" ry="5.2" fill="#40ff40" opacity="1"/>
<ellipse cx="0" cy="3.5" rx="1.5" ry="1.3" fill="#ffff00" opacity="1"/>
<ellipse cx="0" cy="6.5" rx="2.4" ry="1.3" fill="#ff1a00" opacity="1"/>
<ellipse cx="0" cy="9.3" rx="2.4" ry="1" fill="#2a3cff" opacity="1"/>
<ellipse cx="0" cy="12.2" rx="3.4" ry="1.5" fill="#ff1a00" opacity="1"/>
<ellipse cx="0" cy="12.2" rx="3.8" ry="0.5" fill="#ff8000" opacity="0.7"/>
</g>
</g>
<rect x="78" y="33.9" width="1.7" height="33.3" fill="url(#cb)"/>
<text x="82.6" y="37.3" font-size="4.6" text-anchor="start" font-weight="normal" fill="#6a6a6a" >5.0</text>
<text x="82.9" y="51.6" font-size="4.84" text-anchor="start" font-weight="normal" fill="#6a6a6a"  textLength="7.04" lengthAdjust="spacingAndGlyphs">x10<tspan font-size="3.2" dy="-1.8">5</tspan></text>
<text x="82.6" y="66.4" font-size="4.6" text-anchor="start" font-weight="normal" fill="#6a6a6a" >1.0</text>
<rect x="78" y="71.6" width="1.7" height="16.2" fill="url(#cb)"/>
<text x="82.6" y="74.9" font-size="4.6" text-anchor="start" font-weight="normal" fill="#6a6a6a" >1.0</text>
<text x="82.9" y="81.6" font-size="4.84" text-anchor="start" font-weight="normal" fill="#6a6a6a"  textLength="7.04" lengthAdjust="spacingAndGlyphs">x10<tspan font-size="3.2" dy="-1.8">7</tspan></text>
<text x="82.6" y="88.6" font-size="4.6" text-anchor="start" font-weight="normal" fill="#6a6a6a" >0.1</text>
<rect x="265.5" y="33.9" width="1.7" height="36.3" fill="url(#cb)"/>
<text x="270.1" y="37.3" font-size="4.6" text-anchor="start" font-weight="normal" fill="#6a6a6a" >5.0</text>
<text x="270.4" y="52.9" font-size="4.84" text-anchor="start" font-weight="normal" fill="#6a6a6a"  textLength="7.04" lengthAdjust="spacingAndGlyphs">x10<tspan font-size="3.2" dy="-1.8">5</tspan></text>
<text x="270.1" y="68.1" font-size="4.6" text-anchor="start" font-weight="normal" fill="#6a6a6a" >1.0</text>
<rect x="265.5" y="73.3" width="1.7" height="31.9" fill="url(#cb)"/>
<text x="270.1" y="75.9" font-size="4.6" text-anchor="start" font-weight="normal" fill="#6a6a6a" >1.0</text>
<text x="270.4" y="87.8" font-size="4.84" text-anchor="start" font-weight="normal" fill="#6a6a6a"  textLength="7.04" lengthAdjust="spacingAndGlyphs">x10<tspan font-size="3.2" dy="-1.8">7</tspan></text>
<text x="270.1" y="103.8" font-size="4.6" text-anchor="start" font-weight="normal" fill="#6a6a6a" >0.1</text>
<rect x="265.5" y="109.4" width="1.7" height="46.9" fill="url(#cb)"/>
<text x="270.1" y="112.8" font-size="4.6" text-anchor="start" font-weight="normal" fill="#6a6a6a" >5.0</text>
<text x="270.4" y="132" font-size="4.84" text-anchor="start" font-weight="normal" fill="#6a6a6a"  textLength="7.04" lengthAdjust="spacingAndGlyphs">x10<tspan font-size="3.2" dy="-1.8">5</tspan></text>
<text x="270.1" y="152.3" font-size="4.6" text-anchor="start" font-weight="normal" fill="#6a6a6a" >1.0</text>
<text x="288.4" y="29.3" font-size="11.2" text-anchor="start" font-weight="bold" fill="#000"  textLength="7.41" lengthAdjust="spacingAndGlyphs">B</text>
<line x1="322.6" y1="39.8" x2="322.6" y2="98.4" stroke="#000" stroke-width="1.2" />
<line x1="320.2" y1="40.4" x2="322.6" y2="40.4" stroke="#000" stroke-width="1.1" />
<text x="316.4" y="43.3" font-size="8.8" text-anchor="end" font-weight="normal" fill="#231f20"  textLength="11.39" lengthAdjust="spacingAndGlyphs">2.0</text>
<line x1="320.2" y1="54.7" x2="322.6" y2="54.7" stroke="#000" stroke-width="1.1" />
<text x="316.4" y="57.6" font-size="8.8" text-anchor="end" font-weight="normal" fill="#231f20"  textLength="11.39" lengthAdjust="spacingAndGlyphs">1.5</text>
<line x1="320.2" y1="69.1" x2="322.6" y2="69.1" stroke="#000" stroke-width="1.1" />
<text x="316.4" y="72" font-size="8.8" text-anchor="end" font-weight="normal" fill="#231f20"  textLength="11.39" lengthAdjust="spacingAndGlyphs">1.0</text>
<line x1="320.2" y1="83.7" x2="322.6" y2="83.7" stroke="#000" stroke-width="1.1" />
<text x="316.4" y="86.6" font-size="8.8" text-anchor="end" font-weight="normal" fill="#231f20"  textLength="11.39" lengthAdjust="spacingAndGlyphs">0.5</text>
<line x1="320.2" y1="98" x2="322.6" y2="98" stroke="#000" stroke-width="1.1" />
<text x="316.4" y="100.9" font-size="8.8" text-anchor="end" font-weight="normal" fill="#231f20"  textLength="11.39" lengthAdjust="spacingAndGlyphs">0.0</text>
<line x1="320.2" y1="98.2" x2="418" y2="98.2" stroke="#000" stroke-width="1.2" />
<line x1="329.4" y1="98" x2="329.4" y2="101.7" stroke="#000" stroke-width="1" />
<line x1="338.2" y1="98" x2="338.2" y2="101.7" stroke="#000" stroke-width="1" />
<line x1="347" y1="98" x2="347" y2="101.7" stroke="#000" stroke-width="1" />
<line x1="361.2" y1="98" x2="361.2" y2="101.7" stroke="#000" stroke-width="1" />
<line x1="369.8" y1="98" x2="369.8" y2="101.7" stroke="#000" stroke-width="1" />
<line x1="378.6" y1="98" x2="378.6" y2="101.7" stroke="#000" stroke-width="1" />
<line x1="392.9" y1="98" x2="392.9" y2="101.7" stroke="#000" stroke-width="1" />
<line x1="401.3" y1="98" x2="401.3" y2="101.7" stroke="#000" stroke-width="1" />
<line x1="410.4" y1="98" x2="410.4" y2="101.7" stroke="#000" stroke-width="1" />
<path d="M353.35,39h1.3v1h-1.3zM353.35,41h1.3v1h-1.3zM353.35,43h1.3v1h-1.3zM353.35,45h1.3v1h-1.3zM353.35,47h1.3v1h-1.3zM353.35,49h1.3v1h-1.3zM353.35,51h1.3v1h-1.3zM353.35,53h1.3v1h-1.3zM353.35,55h1.3v1h-1.3zM353.35,57h1.3v1h-1.3zM353.35,59h1.3v1h-1.3zM353.35,61h1.3v1h-1.3zM353.35,63h1.3v1h-1.3zM353.35,65h1.3v1h-1.3zM353.35,67h1.3v1h-1.3zM353.35,69h1.3v1h-1.3zM353.35,71h1.3v1h-1.3zM353.35,73h1.3v1h-1.3zM353.35,75h1.3v1h-1.3zM353.35,77h1.3v1h-1.3zM353.35,79h1.3v1h-1.3zM353.35,81h1.3v1h-1.3zM353.35,83h1.3v1h-1.3zM353.35,85h1.3v1h-1.3zM353.35,87h1.3v1h-1.3zM353.35,89h1.3v1h-1.3zM353.35,91h1.3v1h-1.3zM353.35,93h1.3v1h-1.3zM353.35,95h1.3v1h-1.3zM353.35,97h1.3v1h-1.3zM353.35,99h1.3v1h-1.3z" fill="#151515"/>
<path d="M384.15,39h1.3v1h-1.3zM384.15,41h1.3v1h-1.3zM384.15,43h1.3v1h-1.3zM384.15,45h1.3v1h-1.3zM384.15,47h1.3v1h-1.3zM384.15,49h1.3v1h-1.3zM384.15,51h1.3v1h-1.3zM384.15,53h1.3v1h-1.3zM384.15,55h1.3v1h-1.3zM384.15,57h1.3v1h-1.3zM384.15,59h1.3v1h-1.3zM384.15,61h1.3v1h-1.3zM384.15,63h1.3v1h-1.3zM384.15,65h1.3v1h-1.3zM384.15,67h1.3v1h-1.3zM384.15,69h1.3v1h-1.3zM384.15,71h1.3v1h-1.3zM384.15,73h1.3v1h-1.3zM384.15,75h1.3v1h-1.3zM384.15,77h1.3v1h-1.3zM384.15,79h1.3v1h-1.3zM384.15,81h1.3v1h-1.3zM384.15,83h1.3v1h-1.3zM384.15,85h1.3v1h-1.3zM384.15,87h1.3v1h-1.3zM384.15,89h1.3v1h-1.3zM384.15,91h1.3v1h-1.3zM384.15,93h1.3v1h-1.3zM384.15,95h1.3v1h-1.3zM384.15,97h1.3v1h-1.3zM384.15,99h1.3v1h-1.3z" fill="#151515"/>
<text transform="translate(299.6,86.4) rotate(-90)" x="0" y="0" font-size="10" fill="#231f20" textLength="33.7" lengthAdjust="spacingAndGlyphs">T-cells (%)</text>
<text x="338.4" y="30.6" font-size="8.58" text-anchor="middle" font-weight="normal" fill="#231f20"  textLength="13.97" lengthAdjust="spacingAndGlyphs">d10</text>
<text x="370.3" y="30.6" font-size="8.58" text-anchor="middle" font-weight="normal" fill="#231f20"  textLength="13.77" lengthAdjust="spacingAndGlyphs">d14</text>
<text x="400.7" y="30.6" font-size="8.58" text-anchor="middle" font-weight="normal" fill="#231f20"  textLength="13.97" lengthAdjust="spacingAndGlyphs">d45</text>
<circle cx="329.7" cy="49" r="1.95" fill="#cc0014"/>
<circle cx="329.7" cy="63.6" r="1.95" fill="#cc0014"/>
<circle cx="330.4" cy="79.4" r="1.95" fill="#cc0014"/>
<circle cx="331" cy="81" r="1.95" fill="#cc0014"/>
<circle cx="328.4" cy="81.8" r="1.95" fill="#cc0014"/>
<line x1="326.5" y1="70.5" x2="332.7" y2="70.5" stroke="#000" stroke-width="1.3" />
<polygon points="338.5,42.29 336.25,46.31 340.75,46.31" fill="#0033aa"/>
<polygon points="337,70.69 334.75,74.71 339.25,74.71" fill="#0033aa"/>
<polygon points="339.8,71.09 337.55,75.11 342.05,75.11" fill="#0033aa"/>
<polygon points="338.4,73.49 336.15,77.51 340.65,77.51" fill="#0033aa"/>
<polygon points="337.6,76.79 335.35,80.81 339.85,80.81" fill="#0033aa"/>
<polygon points="339.2,79.89 336.95,83.91 341.45,83.91" fill="#0033aa"/>
<polygon points="338.2,83.69 335.95,87.71 340.45,87.71" fill="#0033aa"/>
<line x1="335.3" y1="74" x2="341.5" y2="74" stroke="#000" stroke-width="1.3" />
<polygon points="347,59.81 344.75,55.79 349.25,55.79" fill="#33ff00"/>
<polygon points="346.6,65.71 344.35,61.69 348.85,61.69" fill="#33ff00"/>
<polygon points="347.6,69.91 345.35,65.89 349.85,65.89" fill="#33ff00"/>
<polygon points="346.4,73.21 344.15,69.19 348.65,69.19" fill="#33ff00"/>
<polygon points="347.4,76.61 345.15,72.59 349.65,72.59" fill="#33ff00"/>
<polygon points="346.9,80.81 344.65,76.79 349.15,76.79" fill="#33ff00"/>
<line x1="343.9" y1="70.8" x2="350.1" y2="70.8" stroke="#000" stroke-width="1.3" />
<circle cx="361" cy="79.3" r="1.95" fill="#cc0014"/>
<circle cx="361" cy="85.6" r="1.95" fill="#cc0014"/>
<circle cx="361" cy="88.6" r="1.95" fill="#cc0014"/>
<circle cx="361" cy="91.2" r="1.95" fill="#cc0014"/>
<line x1="358.3" y1="87.4" x2="364.1" y2="87.4" stroke="#000" stroke-width="1.3" />
<polygon points="370,81.09 367.75,85.11 372.25,85.11" fill="#0033aa"/>
<polygon points="369.4,84.19 367.15,88.21 371.65,88.21" fill="#0033aa"/>
<polygon points="370.6,87.59 368.35,91.61 372.85,91.61" fill="#0033aa"/>
<polygon points="368.8,90.69 366.55,94.71 371.05,94.71" fill="#0033aa"/>
<polygon points="371,92.69 368.75,96.71 373.25,96.71" fill="#0033aa"/>
<line x1="367.3" y1="91.3" x2="373.1" y2="91.3" stroke="#000" stroke-width="1.3" />
<polygon points="378.5,62.21 376.25,58.19 380.75,58.19" fill="#33ff00"/>
<polygon points="378.5,66.91 376.25,62.89 380.75,62.89" fill="#33ff00"/>
<polygon points="378.5,69.61 376.25,65.59 380.75,65.59" fill="#33ff00"/>
<polygon points="378.5,79.71 376.25,75.69 380.75,75.69" fill="#33ff00"/>
<polygon points="378.5,82.41 376.25,78.39 380.75,78.39" fill="#33ff00"/>
<line x1="375.4" y1="71.5" x2="381.8" y2="71.5" stroke="#000" stroke-width="1.3" />
<polygon points="400.3,95.29 398.05,99.31 402.55,99.31" fill="#0033aa"/>
<polygon points="402.3,95.29 400.05,99.31 404.55,99.31" fill="#0033aa"/>
<polygon points="410.4,69.21 408.15,65.19 412.65,65.19" fill="#33ff00"/>
<polygon points="410.4,97.11 408.15,93.09 412.65,93.09" fill="#33ff00"/>
<polygon points="410.4,99.31 408.15,95.29 412.65,95.29" fill="#33ff00"/>
<line x1="407.6" y1="92.5" x2="413" y2="92.5" stroke="#000" stroke-width="1.3" />
<polyline points="338.1,43 338.1,39.8 348.5,39.8 348.5,47.1" fill="none" stroke="#111" stroke-width="1.15" stroke-linejoin="miter"/>
<text x="343.55" y="37.1" font-size="7.7" text-anchor="middle" font-weight="normal" fill="#231f20"  textLength="7.59" lengthAdjust="spacingAndGlyphs">ns</text>
<polyline points="370.4,69.5 370.4,51.8 379.4,51.8 379.4,54.1" fill="none" stroke="#333" stroke-width="1.1" stroke-linejoin="miter"/>
<circle cx="370.35" cy="48" r="1" fill="#111"/>
<circle cx="373.65" cy="48" r="1" fill="#111"/>
<circle cx="376.95" cy="48" r="1" fill="#111"/>
<circle cx="380.25" cy="48" r="1" fill="#111"/>
<polyline points="399.7,78.4 399.7,63.3 410.4,63.3 410.4,65.3" fill="none" stroke="#333" stroke-width="1.1" stroke-linejoin="miter"/>
<text x="404.95" y="60.6" font-size="7.7" text-anchor="middle" font-weight="normal" fill="#231f20"  textLength="7.89" lengthAdjust="spacingAndGlyphs">ns</text>
<line x1="460.1" y1="40.6" x2="460.1" y2="99.5" stroke="#000" stroke-width="1.2" />
<line x1="457" y1="41.4" x2="460.1" y2="41.4" stroke="#000" stroke-width="1.1" />
<text x="454" y="44.3" font-size="8.8" text-anchor="end" font-weight="normal" fill="#231f20"  textLength="10.39" lengthAdjust="spacingAndGlyphs">1.0</text>
<line x1="457" y1="53" x2="460.1" y2="53" stroke="#000" stroke-width="1.1" />
<text x="454" y="55.9" font-size="8.8" text-anchor="end" font-weight="normal" fill="#231f20"  textLength="10.39" lengthAdjust="spacingAndGlyphs">0.8</text>
<line x1="457" y1="64.7" x2="460.1" y2="64.7" stroke="#000" stroke-width="1.1" />
<text x="454" y="67.6" font-size="8.8" text-anchor="end" font-weight="normal" fill="#231f20"  textLength="10.39" lengthAdjust="spacingAndGlyphs">0.6</text>
<line x1="457" y1="76.2" x2="460.1" y2="76.2" stroke="#000" stroke-width="1.1" />
<text x="454" y="79.1" font-size="8.8" text-anchor="end" font-weight="normal" fill="#231f20"  textLength="10.39" lengthAdjust="spacingAndGlyphs">0.4</text>
<line x1="457" y1="87.7" x2="460.1" y2="87.7" stroke="#000" stroke-width="1.1" />
<text x="454" y="90.6" font-size="8.8" text-anchor="end" font-weight="normal" fill="#231f20"  textLength="10.39" lengthAdjust="spacingAndGlyphs">0.2</text>
<line x1="457" y1="99.1" x2="460.1" y2="99.1" stroke="#000" stroke-width="1.1" />
<text x="454" y="102" font-size="8.8" text-anchor="end" font-weight="normal" fill="#231f20"  textLength="10.39" lengthAdjust="spacingAndGlyphs">0.0</text>
<line x1="457" y1="99.1" x2="498.8" y2="99.1" stroke="#000" stroke-width="1.2" />
<line x1="468.8" y1="99.1" x2="468.8" y2="102.3" stroke="#000" stroke-width="1" />
<line x1="479.4" y1="99.1" x2="479.4" y2="102.3" stroke="#000" stroke-width="1" />
<line x1="489.5" y1="99.1" x2="489.5" y2="102.3" stroke="#000" stroke-width="1" />
<text transform="translate(437.6,101) rotate(-90)" x="0" y="0" font-size="10" fill="#231f20" textLength="62.5" lengthAdjust="spacingAndGlyphs">Leukemia cells (%)</text>
<text x="479.05" y="31.7" font-size="8.58" text-anchor="middle" font-weight="normal" fill="#231f20"  textLength="14.27" lengthAdjust="spacingAndGlyphs">d14</text>
<circle cx="468.9" cy="56.7" r="1.95" fill="#cc0014"/>
<circle cx="467.3" cy="78.7" r="1.95" fill="#cc0014"/>
<circle cx="470" cy="79.8" r="1.95" fill="#cc0014"/>
<circle cx="470.4" cy="82" r="1.95" fill="#cc0014"/>
<circle cx="467.3" cy="84.9" r="1.95" fill="#cc0014"/>
<line x1="465.3" y1="76.3" x2="472.2" y2="76.3" stroke="#000" stroke-width="1.3" />
<polygon points="477.4,96.98 475.5,100.41 479.3,100.41" fill="#0033aa"/>
<polygon points="479.4,96.98 477.5,100.41 481.3,100.41" fill="#0033aa"/>
<polygon points="481.4,96.98 479.5,100.41 483.3,100.41" fill="#0033aa"/>
<line x1="476.9" y1="98.6" x2="481.9" y2="98.6" stroke="#000" stroke-width="1.3" />
<polygon points="487.5,100.41 485.6,96.98 489.4,96.98" fill="#33ff00"/>
<polygon points="489.5,100.41 487.6,96.98 491.4,96.98" fill="#33ff00"/>
<polygon points="491.5,100.41 489.6,96.98 493.4,96.98" fill="#33ff00"/>
<line x1="486.7" y1="97.8" x2="492.3" y2="97.8" stroke="#000" stroke-width="1.3" />
<polyline points="466.1,53.8 466.1,51.9 479.6,51.9 479.6,53.8" fill="none" stroke="#111" stroke-width="1.15" stroke-linejoin="miter"/>
<circle cx="467.8" cy="48.5" r="1" fill="#111"/>
<circle cx="471.3" cy="48.5" r="1" fill="#111"/>
<circle cx="474.8" cy="48.5" r="1" fill="#111"/>
<circle cx="478.3" cy="48.5" r="1" fill="#111"/>
<polyline points="466.1,46.5 466.1,44.3 495.3,44.3 495.3,46.5" fill="none" stroke="#111" stroke-width="1.15" stroke-linejoin="miter"/>
<circle cx="475.35" cy="41.6" r="1" fill="#111"/>
<circle cx="478.85" cy="41.6" r="1" fill="#111"/>
<circle cx="482.35" cy="41.6" r="1" fill="#111"/>
<circle cx="485.85" cy="41.6" r="1" fill="#111"/>
<circle cx="315" cy="119.9" r="1.9" fill="#cc0014"/>
<text x="321.2" y="122.2" font-size="7.92" text-anchor="start" font-weight="normal" fill="#231f20"  textLength="38.01" lengthAdjust="spacingAndGlyphs">UTD T cells</text>
<polygon points="366.5,117.81 364.4,121.58 368.6,121.58" fill="#0033aa"/>
<text x="371.5" y="122.2" font-size="7.92" text-anchor="start" font-weight="normal" fill="#231f20"  textLength="42.71" lengthAdjust="spacingAndGlyphs">Siglec-6_28z</text>
<polygon points="422.3,121.78 420.2,118.02 424.4,118.02" fill="#33ff00"/>
<text x="428" y="122.2" font-size="7.92" text-anchor="start" font-weight="normal" fill="#231f20"  textLength="43.91" lengthAdjust="spacingAndGlyphs">Siglec-6_BBz</text>
<text x="5.4" y="174.2" font-size="11.2" text-anchor="start" font-weight="bold" fill="#000"  textLength="8.31" lengthAdjust="spacingAndGlyphs">C</text>
<line x1="61.2" y1="199.8" x2="61.2" y2="283.4" stroke="#000" stroke-width="1.2" />
<line x1="58.2" y1="200.3" x2="61.2" y2="200.3" stroke="#000" stroke-width="1.1" />
<line x1="58.2" y1="216.2" x2="61.2" y2="216.2" stroke="#000" stroke-width="1.1" />
<line x1="58.2" y1="232.2" x2="61.2" y2="232.2" stroke="#000" stroke-width="1.1" />
<line x1="58.2" y1="239.6" x2="61.2" y2="239.6" stroke="#000" stroke-width="1.1" />
<line x1="58.2" y1="254.1" x2="61.2" y2="254.1" stroke="#000" stroke-width="1.1" />
<line x1="58.2" y1="268.4" x2="61.2" y2="268.4" stroke="#000" stroke-width="1.1" />
<line x1="58.2" y1="282.8" x2="61.2" y2="282.8" stroke="#000" stroke-width="1.1" />
<text x="55.8" y="203.2" font-size="8.36" text-anchor="end" font-weight="normal" fill="#231f20"  textLength="23.15" lengthAdjust="spacingAndGlyphs">2×10<tspan font-size="5" dy="-2.8">7</tspan></text>
<text x="55.8" y="219.1" font-size="8.36" text-anchor="end" font-weight="normal" fill="#231f20"  textLength="23.15" lengthAdjust="spacingAndGlyphs">1×10<tspan font-size="5" dy="-2.8">7</tspan></text>
<text x="55.8" y="235.1" font-size="8.36" text-anchor="end" font-weight="normal" fill="#231f20"  textLength="23.15" lengthAdjust="spacingAndGlyphs">5×10<tspan font-size="5" dy="-2.8">6</tspan></text>
<text x="55.8" y="257" font-size="8.36" text-anchor="end" font-weight="normal" fill="#231f20"  textLength="25.95" lengthAdjust="spacingAndGlyphs">−1×10<tspan font-size="5" dy="-2.8">5</tspan></text>
<text x="55.8" y="271.3" font-size="8.36" text-anchor="end" font-weight="normal" fill="#231f20"  textLength="25.95" lengthAdjust="spacingAndGlyphs">−2×10<tspan font-size="5" dy="-2.8">5</tspan></text>
<text x="55.8" y="285.7" font-size="8.36" text-anchor="end" font-weight="normal" fill="#231f20"  textLength="25.95" lengthAdjust="spacingAndGlyphs">−3×10<tspan font-size="5" dy="-2.8">5</tspan></text>
<text x="53.9" y="242.5" font-size="7.6" text-anchor="end" font-weight="normal" fill="#231f20" >0</text>
<text transform="translate(23.9,275.06) rotate(-90)" x="0" y="0" font-size="9.2" fill="#231f20" textLength="67.33" lengthAdjust="spacingAndGlyphs">Δ Bioluminescence</text>
<rect x="63.1" y="210.9" width="6.3" height="28.7" fill="#cc0014" />
<rect x="70.9" y="215.2" width="6" height="24.4" fill="#cc0014" />
<rect x="77.9" y="217.9" width="6.2" height="21.7" fill="#cc0014" />
<rect x="85.1" y="226.8" width="6" height="12.8" fill="#cc0014" />
<rect x="92.6" y="227.9" width="6.4" height="11.7" fill="#cc0014" />
<rect x="102.8" y="239.6" width="5.9" height="14.8" fill="#0033aa" />
<rect x="110.2" y="239.6" width="5.9" height="20.6" fill="#0033aa" />
<rect x="117.6" y="239.6" width="6" height="21.9" fill="#0033aa" />
<rect x="125" y="239.6" width="5.8" height="26.5" fill="#0033aa" />
<rect x="132" y="239.6" width="6.2" height="30.1" fill="#0033aa" />
<rect x="139.5" y="239.6" width="6" height="33.4" fill="#0033aa" />
<rect x="147" y="239.6" width="5.8" height="37.1" fill="#0033aa" />
<rect x="154.4" y="239.6" width="5.8" height="39.9" fill="#0033aa" />
<rect x="164.4" y="239.6" width="6" height="13.1" fill="#33ff00" />
<rect x="171.8" y="239.6" width="6" height="18.7" fill="#33ff00" />
<rect x="179.3" y="239.6" width="5.7" height="21.9" fill="#33ff00" />
<rect x="186.3" y="239.6" width="5.9" height="26.1" fill="#33ff00" />
<rect x="193.7" y="239.6" width="6" height="26.9" fill="#33ff00" />
<rect x="201.1" y="239.6" width="6" height="29.7" fill="#33ff00" />
<rect x="208.4" y="239.6" width="5.9" height="31.2" fill="#33ff00" />
<rect x="215.8" y="239.6" width="5.9" height="40.4" fill="#33ff00" />
<line x1="61.2" y1="239.6" x2="224.5" y2="239.6" stroke="#000" stroke-width="1.4" />
<line x1="61.2" y1="282.8" x2="224.5" y2="282.8" stroke="#000" stroke-width="1.3" />
<line x1="80.9" y1="282.8" x2="80.9" y2="286.2" stroke="#000" stroke-width="1" />
<line x1="131.9" y1="282.8" x2="131.9" y2="286.2" stroke="#000" stroke-width="1" />
<line x1="193" y1="282.8" x2="193" y2="286.2" stroke="#000" stroke-width="1" />
<rect x="215" y="210.5" width="10.8" height="4.8" fill="#cc0014" />
<rect x="215" y="219.2" width="10.8" height="4.8" fill="#0033aa" />
<rect x="215" y="227.8" width="10.8" height="4.8" fill="#33ff00" />
<text x="228.8" y="215.9" font-size="8.14" text-anchor="start" font-weight="normal" fill="#231f20"  textLength="39.23" lengthAdjust="spacingAndGlyphs">UTD T-cells</text>
<text x="228.8" y="224.4" font-size="8.14" text-anchor="start" font-weight="normal" fill="#231f20"  textLength="43.13" lengthAdjust="spacingAndGlyphs">Siglec-6_28z</text>
<text x="228.8" y="233" font-size="8.14" text-anchor="start" font-weight="normal" fill="#231f20"  textLength="43.93" lengthAdjust="spacingAndGlyphs">Siglec-6_BBz</text>
<text x="288.6" y="174" font-size="11.2" text-anchor="start" font-weight="bold" fill="#000"  textLength="8.81" lengthAdjust="spacingAndGlyphs">D</text>
<line x1="325.2" y1="181.4" x2="325.2" y2="282" stroke="#000" stroke-width="1.2" />
<line x1="322.1" y1="182" x2="325.2" y2="182" stroke="#000" stroke-width="1.1" />
<text x="316.1" y="184.6" font-size="8.8" text-anchor="end" font-weight="normal" fill="#231f20"  textLength="8.79" lengthAdjust="spacingAndGlyphs">10</text>
<text x="316.3" y="180.4" font-size="5.4" text-anchor="start" font-weight="normal" fill="#231f20" >9</text>
<line x1="322.1" y1="196.3" x2="325.2" y2="196.3" stroke="#000" stroke-width="1.1" />
<text x="316.1" y="198.9" font-size="8.8" text-anchor="end" font-weight="normal" fill="#231f20"  textLength="8.79" lengthAdjust="spacingAndGlyphs">10</text>
<text x="316.3" y="194.7" font-size="5.4" text-anchor="start" font-weight="normal" fill="#231f20" >8</text>
<line x1="322.1" y1="210.6" x2="325.2" y2="210.6" stroke="#000" stroke-width="1.1" />
<text x="316.1" y="213.2" font-size="8.8" text-anchor="end" font-weight="normal" fill="#231f20"  textLength="8.79" lengthAdjust="spacingAndGlyphs">10</text>
<text x="316.3" y="209" font-size="5.4" text-anchor="start" font-weight="normal" fill="#231f20" >7</text>
<line x1="322.1" y1="224.9" x2="325.2" y2="224.9" stroke="#000" stroke-width="1.1" />
<text x="316.1" y="227.5" font-size="8.8" text-anchor="end" font-weight="normal" fill="#231f20"  textLength="8.79" lengthAdjust="spacingAndGlyphs">10</text>
<text x="316.3" y="223.3" font-size="5.4" text-anchor="start" font-weight="normal" fill="#231f20" >6</text>
<line x1="322.1" y1="239.1" x2="325.2" y2="239.1" stroke="#000" stroke-width="1.1" />
<text x="316.1" y="241.7" font-size="8.8" text-anchor="end" font-weight="normal" fill="#231f20"  textLength="8.79" lengthAdjust="spacingAndGlyphs">10</text>
<text x="316.3" y="237.5" font-size="5.4" text-anchor="start" font-weight="normal" fill="#231f20" >5</text>
<line x1="322.1" y1="253.4" x2="325.2" y2="253.4" stroke="#000" stroke-width="1.1" />
<text x="316.1" y="256" font-size="8.8" text-anchor="end" font-weight="normal" fill="#231f20"  textLength="8.79" lengthAdjust="spacingAndGlyphs">10</text>
<text x="316.3" y="251.8" font-size="5.4" text-anchor="start" font-weight="normal" fill="#231f20" >4</text>
<line x1="322.1" y1="267.7" x2="325.2" y2="267.7" stroke="#000" stroke-width="1.1" />
<text x="316.1" y="270.3" font-size="8.8" text-anchor="end" font-weight="normal" fill="#231f20"  textLength="8.79" lengthAdjust="spacingAndGlyphs">10</text>
<text x="316.3" y="266.1" font-size="5.4" text-anchor="start" font-weight="normal" fill="#231f20" >3</text>
<line x1="322.1" y1="282" x2="325.2" y2="282" stroke="#000" stroke-width="1.1" />
<text x="316.1" y="284.6" font-size="8.8" text-anchor="end" font-weight="normal" fill="#231f20"  textLength="8.79" lengthAdjust="spacingAndGlyphs">10</text>
<text x="316.3" y="280.4" font-size="5.4" text-anchor="start" font-weight="normal" fill="#231f20" >2</text>
<line x1="325.2" y1="282" x2="507" y2="282" stroke="#000" stroke-width="1.3" />
<line x1="325.2" y1="282" x2="325.2" y2="285.4" stroke="#000" stroke-width="1" />
<line x1="344.63" y1="282" x2="344.63" y2="285.4" stroke="#000" stroke-width="1" />
<line x1="347.87" y1="282" x2="347.87" y2="285.4" stroke="#000" stroke-width="1" />
<line x1="357.59" y1="282" x2="357.59" y2="285.4" stroke="#000" stroke-width="1" />
<line x1="370.55" y1="282" x2="370.55" y2="285.4" stroke="#000" stroke-width="1" />
<line x1="380.26" y1="282" x2="380.26" y2="285.4" stroke="#000" stroke-width="1" />
<line x1="393.22" y1="282" x2="393.22" y2="285.4" stroke="#000" stroke-width="1" />
<line x1="415.89" y1="282" x2="415.89" y2="285.4" stroke="#000" stroke-width="1" />
<line x1="438.56" y1="282" x2="438.56" y2="285.4" stroke="#000" stroke-width="1" />
<line x1="461.24" y1="282" x2="461.24" y2="285.4" stroke="#000" stroke-width="1" />
<line x1="483.91" y1="282" x2="483.91" y2="285.4" stroke="#000" stroke-width="1" />
<line x1="506.58" y1="282" x2="506.58" y2="285.4" stroke="#000" stroke-width="1" />
<text x="325" y="295.3" font-size="8.8" text-anchor="middle" font-weight="normal" fill="#231f20"  textLength="4.59" lengthAdjust="spacingAndGlyphs">0</text>
<text x="347.3" y="295.3" font-size="8.8" text-anchor="middle" font-weight="normal" fill="#231f20"  textLength="4.59" lengthAdjust="spacingAndGlyphs">7</text>
<text x="357.9" y="295.3" font-size="8.8" text-anchor="middle" font-weight="normal" fill="#231f20"  textLength="9.59" lengthAdjust="spacingAndGlyphs">10</text>
<text x="371.2" y="295.3" font-size="8.8" text-anchor="middle" font-weight="normal" fill="#231f20"  textLength="9.59" lengthAdjust="spacingAndGlyphs">14</text>
<text x="380" y="295.3" font-size="8.8" text-anchor="middle" font-weight="normal" fill="#231f20"  textLength="9.59" lengthAdjust="spacingAndGlyphs">17</text>
<text x="392.5" y="295.3" font-size="8.8" text-anchor="middle" font-weight="normal" fill="#231f20"  textLength="9.59" lengthAdjust="spacingAndGlyphs">21</text>
<text x="415.7" y="295.3" font-size="8.8" text-anchor="middle" font-weight="normal" fill="#231f20"  textLength="9.59" lengthAdjust="spacingAndGlyphs">28</text>
<text x="438.4" y="295.3" font-size="8.8" text-anchor="middle" font-weight="normal" fill="#231f20"  textLength="9.59" lengthAdjust="spacingAndGlyphs">35</text>
<text x="461.1" y="295.3" font-size="8.8" text-anchor="middle" font-weight="normal" fill="#231f20"  textLength="9.59" lengthAdjust="spacingAndGlyphs">42</text>
<text x="483.7" y="295.3" font-size="8.8" text-anchor="middle" font-weight="normal" fill="#231f20"  textLength="9.59" lengthAdjust="spacingAndGlyphs">49</text>
<text x="506" y="295.3" font-size="8.8" text-anchor="middle" font-weight="normal" fill="#231f20"  textLength="9.59" lengthAdjust="spacingAndGlyphs">56</text>
<path d="M344.02,182.8h1.45v1.6h-1.45zM344.02,186h1.45v1.6h-1.45zM344.02,189.2h1.45v1.6h-1.45zM344.02,192.4h1.45v1.6h-1.45zM344.02,195.6h1.45v1.6h-1.45zM344.02,198.8h1.45v1.6h-1.45zM344.02,202h1.45v1.6h-1.45zM344.02,205.2h1.45v1.6h-1.45zM344.02,208.4h1.45v1.6h-1.45zM344.02,211.6h1.45v1.6h-1.45zM344.02,214.8h1.45v1.6h-1.45zM344.02,218h1.45v1.6h-1.45zM344.02,221.2h1.45v1.6h-1.45zM344.02,224.4h1.45v1.6h-1.45zM344.02,227.6h1.45v1.6h-1.45zM344.02,230.8h1.45v1.6h-1.45zM344.02,234h1.45v1.6h-1.45zM344.02,237.2h1.45v1.6h-1.45zM344.02,240.4h1.45v1.6h-1.45zM344.02,243.6h1.45v1.6h-1.45zM344.02,246.8h1.45v1.6h-1.45zM344.02,250h1.45v1.6h-1.45zM344.02,253.2h1.45v1.6h-1.45zM344.02,256.4h1.45v1.6h-1.45zM344.02,259.6h1.45v1.6h-1.45zM344.02,262.8h1.45v1.6h-1.45zM344.02,266h1.45v1.6h-1.45zM344.02,269.2h1.45v1.6h-1.45zM344.02,272.4h1.45v1.6h-1.45zM344.02,275.6h1.45v1.6h-1.45zM344.02,278.8h1.45v1.6h-1.45z" fill="#000"/>
<path d="M392.38,182.8h1.45v1.6h-1.45zM392.38,186h1.45v1.6h-1.45zM392.38,189.2h1.45v1.6h-1.45zM392.38,192.4h1.45v1.6h-1.45zM392.38,195.6h1.45v1.6h-1.45zM392.38,198.8h1.45v1.6h-1.45zM392.38,202h1.45v1.6h-1.45zM392.38,205.2h1.45v1.6h-1.45zM392.38,208.4h1.45v1.6h-1.45zM392.38,211.6h1.45v1.6h-1.45zM392.38,214.8h1.45v1.6h-1.45zM392.38,218h1.45v1.6h-1.45zM392.38,221.2h1.45v1.6h-1.45zM392.38,224.4h1.45v1.6h-1.45zM392.38,227.6h1.45v1.6h-1.45zM392.38,230.8h1.45v1.6h-1.45zM392.38,234h1.45v1.6h-1.45zM392.38,237.2h1.45v1.6h-1.45zM392.38,240.4h1.45v1.6h-1.45zM392.38,243.6h1.45v1.6h-1.45zM392.38,246.8h1.45v1.6h-1.45zM392.38,250h1.45v1.6h-1.45zM392.38,253.2h1.45v1.6h-1.45zM392.38,256.4h1.45v1.6h-1.45zM392.38,259.6h1.45v1.6h-1.45zM392.38,262.8h1.45v1.6h-1.45zM392.38,266h1.45v1.6h-1.45zM392.38,269.2h1.45v1.6h-1.45zM392.38,272.4h1.45v1.6h-1.45zM392.38,275.6h1.45v1.6h-1.45zM392.38,278.8h1.45v1.6h-1.45z" fill="#000"/>
<text x="344.6" y="178" font-size="8.14" text-anchor="middle" font-weight="normal" fill="#231f20"  textLength="21.33" lengthAdjust="spacingAndGlyphs">T cells</text>
<text x="393.1" y="178" font-size="8.14" text-anchor="middle" font-weight="normal" fill="#231f20"  textLength="20.73" lengthAdjust="spacingAndGlyphs">T cells</text>
<text transform="translate(300,275) rotate(-90)" x="0" y="0" font-size="10" fill="#231f20" textLength="85.6" lengthAdjust="spacingAndGlyphs">Avg radiance (p/s/cm<tspan font-size="5.6" dy="-3">2</tspan><tspan dy="3">/sr)</tspan></text>
<text x="370.4" y="309.9" font-size="8.58" text-anchor="start" font-weight="normal" fill="#231f20"  textLength="91.17" lengthAdjust="spacingAndGlyphs">Day after tumor inoculation</text>
<line x1="370.55" y1="234.8" x2="370.55" y2="238" stroke="#33ff00" stroke-width="1.1" />
<line x1="369.05" y1="238" x2="372.05" y2="238" stroke="#33ff00" stroke-width="1.1" />
<line x1="380.26" y1="226.7" x2="380.26" y2="240.8" stroke="#33ff00" stroke-width="1.1" />
<line x1="378.76" y1="240.8" x2="381.76" y2="240.8" stroke="#33ff00" stroke-width="1.1" />
<line x1="393.22" y1="220.8" x2="393.22" y2="232.5" stroke="#33ff00" stroke-width="1.1" />
<line x1="391.72" y1="232.5" x2="394.72" y2="232.5" stroke="#33ff00" stroke-width="1.1" />
<line x1="415.89" y1="259.4" x2="415.89" y2="262" stroke="#33ff00" stroke-width="1.1" />
<line x1="414.39" y1="262" x2="417.39" y2="262" stroke="#33ff00" stroke-width="1.1" />
<line x1="461.24" y1="267.5" x2="461.24" y2="270.5" stroke="#33ff00" stroke-width="1.1" />
<line x1="459.74" y1="270.5" x2="462.74" y2="270.5" stroke="#33ff00" stroke-width="1.1" />
<line x1="506.58" y1="270.2" x2="506.58" y2="273" stroke="#33ff00" stroke-width="1.1" />
<line x1="505.08" y1="273" x2="508.08" y2="273" stroke="#33ff00" stroke-width="1.1" />
<polyline points="325.2,261 344.8,233.6 357.59,240.3 370.55,234.8 380.26,226.7 393.22,220.8 415.89,259.4 438.56,265.6 461.24,267.5 483.91,268.3 506.58,270.2" fill="none" stroke="#33ff00" stroke-width="1.9" stroke-linejoin="round"/>
<polygon points="325.2,262.99 323.1,259.21 327.3,259.21" fill="#33ff00"/>
<polygon points="344.8,235.58 342.7,231.81 346.9,231.81" fill="#33ff00"/>
<polygon points="357.59,242.28 355.49,238.52 359.69,238.52" fill="#33ff00"/>
<polygon points="370.55,236.78 368.45,233.02 372.65,233.02" fill="#33ff00"/>
<polygon points="380.26,228.68 378.16,224.91 382.36,224.91" fill="#33ff00"/>
<polygon points="393.22,222.78 391.12,219.02 395.32,219.02" fill="#33ff00"/>
<polygon points="415.89,261.38 413.79,257.61 417.99,257.61" fill="#33ff00"/>
<polygon points="438.56,267.59 436.46,263.81 440.67,263.81" fill="#33ff00"/>
<polygon points="461.24,269.49 459.14,265.71 463.34,265.71" fill="#33ff00"/>
<polygon points="483.91,270.29 481.81,266.51 486.01,266.51" fill="#33ff00"/>
<polygon points="506.58,272.19 504.48,268.41 508.68,268.41" fill="#33ff00"/>
<line x1="380.26" y1="222" x2="380.26" y2="218.4" stroke="#0033aa" stroke-width="1.1" />
<line x1="378.76" y1="218.4" x2="381.76" y2="218.4" stroke="#0033aa" stroke-width="1.1" />
<line x1="393.22" y1="213.1" x2="393.22" y2="208.8" stroke="#0033aa" stroke-width="1.1" />
<line x1="391.72" y1="208.8" x2="394.72" y2="208.8" stroke="#0033aa" stroke-width="1.1" />
<line x1="461.24" y1="259.4" x2="461.24" y2="252.6" stroke="#0033aa" stroke-width="1.1" />
<line x1="459.74" y1="252.6" x2="462.74" y2="252.6" stroke="#0033aa" stroke-width="1.1" />
<line x1="483.91" y1="255.4" x2="483.91" y2="247.8" stroke="#0033aa" stroke-width="1.1" />
<line x1="482.41" y1="247.8" x2="485.41" y2="247.8" stroke="#0033aa" stroke-width="1.1" />
<line x1="506.58" y1="256.7" x2="506.58" y2="249.9" stroke="#0033aa" stroke-width="1.1" />
<line x1="505.08" y1="249.9" x2="508.08" y2="249.9" stroke="#0033aa" stroke-width="1.1" />
<line x1="370.55" y1="232.2" x2="370.55" y2="230" stroke="#0033aa" stroke-width="1.1" />
<line x1="369.05" y1="230" x2="372.05" y2="230" stroke="#0033aa" stroke-width="1.1" />
<polyline points="325.2,261 344.8,233.3 357.59,240.8 370.55,232.2 380.26,222 393.22,213.1 415.89,266.2 438.56,266.7 461.24,259.4 483.91,255.4 506.58,256.7" fill="none" stroke="#0033aa" stroke-width="1.9" stroke-linejoin="round"/>
<polygon points="325.2,259.01 323.1,262.79 327.3,262.79" fill="#0033aa"/>
<polygon points="344.8,231.32 342.7,235.09 346.9,235.09" fill="#0033aa"/>
<polygon points="357.59,238.82 355.49,242.59 359.69,242.59" fill="#0033aa"/>
<polygon points="370.55,230.22 368.45,233.98 372.65,233.98" fill="#0033aa"/>
<polygon points="380.26,220.02 378.16,223.78 382.36,223.78" fill="#0033aa"/>
<polygon points="393.22,211.12 391.12,214.88 395.32,214.88" fill="#0033aa"/>
<polygon points="415.89,264.21 413.79,267.99 417.99,267.99" fill="#0033aa"/>
<polygon points="438.56,264.71 436.46,268.49 440.67,268.49" fill="#0033aa"/>
<polygon points="461.24,257.41 459.14,261.19 463.34,261.19" fill="#0033aa"/>
<polygon points="483.91,253.42 481.81,257.19 486.01,257.19" fill="#0033aa"/>
<polygon points="506.58,254.72 504.48,258.49 508.68,258.49" fill="#0033aa"/>
<line x1="370.55" y1="201.2" x2="370.55" y2="204.8" stroke="#cc0014" stroke-width="1.1" />
<line x1="369.05" y1="204.8" x2="372.05" y2="204.8" stroke="#cc0014" stroke-width="1.1" />
<polyline points="325.2,260.8 344.8,231 357.59,211.2 370.55,201.2 380.26,189.1" fill="none" stroke="#cc0014" stroke-width="1.9" stroke-linejoin="round"/>
<circle cx="325.2" cy="260.8" r="2.1" fill="#cc0014"/>
<circle cx="344.8" cy="231" r="2.1" fill="#cc0014"/>
<circle cx="357.59" cy="211.2" r="2.1" fill="#cc0014"/>
<circle cx="370.55" cy="201.2" r="2.1" fill="#cc0014"/>
<circle cx="380.26" cy="189.1" r="2.1" fill="#cc0014"/>
<circle cx="352.2" cy="234" r="0.88" fill="#111"/>
<circle cx="355.5" cy="234" r="0.88" fill="#111"/>
<circle cx="358.8" cy="234" r="0.88" fill="#111"/>
<circle cx="362.1" cy="234" r="0.88" fill="#111"/>
<circle cx="362.6" cy="227.3" r="0.88" fill="#111"/>
<circle cx="365.9" cy="227.3" r="0.88" fill="#111"/>
<circle cx="369.2" cy="227.3" r="0.88" fill="#111"/>
<circle cx="372.5" cy="227.3" r="0.88" fill="#111"/>
<circle cx="375.5" cy="214.5" r="0.88" fill="#111"/>
<circle cx="378.8" cy="214.5" r="0.88" fill="#111"/>
<circle cx="382.1" cy="214.5" r="0.88" fill="#111"/>
<circle cx="385.4" cy="214.5" r="0.88" fill="#111"/>
<text x="415.89" y="254.6" font-size="7.7" text-anchor="middle" font-weight="normal" fill="#231f20"  textLength="7.59" lengthAdjust="spacingAndGlyphs">ns</text>
<text x="438.56" y="261.3" font-size="7.7" text-anchor="middle" font-weight="normal" fill="#231f20"  textLength="7.59" lengthAdjust="spacingAndGlyphs">ns</text>
<text x="461.24" y="249.2" font-size="7.7" text-anchor="middle" font-weight="normal" fill="#231f20"  textLength="7.59" lengthAdjust="spacingAndGlyphs">ns</text>
<text x="483.91" y="246.2" font-size="7.7" text-anchor="middle" font-weight="normal" fill="#231f20"  textLength="7.59" lengthAdjust="spacingAndGlyphs">ns</text>
<text x="506.58" y="247" font-size="7.7" text-anchor="middle" font-weight="normal" fill="#231f20"  textLength="7.59" lengthAdjust="spacingAndGlyphs">ns</text>
<line x1="428" y1="195.8" x2="438.8" y2="195.8" stroke="#cc0014" stroke-width="1.8" />
<circle cx="433.2" cy="195.8" r="1.9" fill="#cc0014"/>
<line x1="428" y1="207.9" x2="438.8" y2="207.9" stroke="#0033aa" stroke-width="1.8" />
<polygon points="433.2,205.92 431.1,209.69 435.3,209.69" fill="#0033aa"/>
<line x1="428" y1="219.6" x2="438.8" y2="219.6" stroke="#33ff00" stroke-width="1.8" />
<polygon points="433.2,221.58 431.1,217.81 435.3,217.81" fill="#33ff00"/>
<text x="442.8" y="198.1" font-size="7.92" text-anchor="start" font-weight="normal" fill="#231f20"  textLength="38.41" lengthAdjust="spacingAndGlyphs">UTD T-cells</text>
<text x="442.8" y="210.2" font-size="7.92" text-anchor="start" font-weight="normal" fill="#231f20"  textLength="42.71" lengthAdjust="spacingAndGlyphs">Siglec-6_28z</text>
<text x="442.8" y="221.9" font-size="7.92" text-anchor="start" font-weight="normal" fill="#231f20"  textLength="43.81" lengthAdjust="spacingAndGlyphs">Siglec-6_BBz</text>
<text x="5.6" y="324.6" font-size="11.2" text-anchor="start" font-weight="bold" fill="#000"  textLength="7.61" lengthAdjust="spacingAndGlyphs">E</text>
<line x1="35.7" y1="336.2" x2="35.7" y2="411.7" stroke="#000" stroke-width="1.2" />
<line x1="32.3" y1="336.7" x2="35.7" y2="336.7" stroke="#000" stroke-width="1.1" />
<text x="28.8" y="339.6" font-size="8.8" text-anchor="end" font-weight="normal" fill="#231f20"  textLength="8.69" lengthAdjust="spacingAndGlyphs">40</text>
<line x1="32.3" y1="355.5" x2="35.7" y2="355.5" stroke="#000" stroke-width="1.1" />
<text x="28.8" y="358.4" font-size="8.8" text-anchor="end" font-weight="normal" fill="#231f20"  textLength="8.69" lengthAdjust="spacingAndGlyphs">30</text>
<line x1="32.3" y1="374.3" x2="35.7" y2="374.3" stroke="#000" stroke-width="1.1" />
<text x="28.8" y="377.2" font-size="8.8" text-anchor="end" font-weight="normal" fill="#231f20"  textLength="8.69" lengthAdjust="spacingAndGlyphs">20</text>
<line x1="32.3" y1="393" x2="35.7" y2="393" stroke="#000" stroke-width="1.1" />
<text x="28.8" y="395.9" font-size="8.8" text-anchor="end" font-weight="normal" fill="#231f20"  textLength="8.69" lengthAdjust="spacingAndGlyphs">10</text>
<line x1="32.3" y1="411.7" x2="35.7" y2="411.7" stroke="#000" stroke-width="1.1" />
<text x="28.8" y="414.6" font-size="8.8" text-anchor="end" font-weight="normal" fill="#231f20"  textLength="4.69" lengthAdjust="spacingAndGlyphs">0</text>
<line x1="32.3" y1="411.7" x2="148.8" y2="411.7" stroke="#000" stroke-width="1.3" />
<path d="M72.75,336h1.3v1h-1.3zM72.75,338h1.3v1h-1.3zM72.75,340h1.3v1h-1.3zM72.75,342h1.3v1h-1.3zM72.75,344h1.3v1h-1.3zM72.75,346h1.3v1h-1.3zM72.75,348h1.3v1h-1.3zM72.75,350h1.3v1h-1.3zM72.75,352h1.3v1h-1.3zM72.75,354h1.3v1h-1.3zM72.75,356h1.3v1h-1.3zM72.75,358h1.3v1h-1.3zM72.75,360h1.3v1h-1.3zM72.75,362h1.3v1h-1.3zM72.75,364h1.3v1h-1.3zM72.75,366h1.3v1h-1.3zM72.75,368h1.3v1h-1.3zM72.75,370h1.3v1h-1.3zM72.75,372h1.3v1h-1.3zM72.75,374h1.3v1h-1.3zM72.75,376h1.3v1h-1.3zM72.75,378h1.3v1h-1.3zM72.75,380h1.3v1h-1.3zM72.75,382h1.3v1h-1.3zM72.75,384h1.3v1h-1.3zM72.75,386h1.3v1h-1.3zM72.75,388h1.3v1h-1.3zM72.75,390h1.3v1h-1.3zM72.75,392h1.3v1h-1.3zM72.75,394h1.3v1h-1.3zM72.75,396h1.3v1h-1.3zM72.75,398h1.3v1h-1.3zM72.75,400h1.3v1h-1.3zM72.75,402h1.3v1h-1.3zM72.75,404h1.3v1h-1.3zM72.75,406h1.3v1h-1.3zM72.75,408h1.3v1h-1.3zM72.75,410h1.3v1h-1.3z" fill="#151515"/>
<path d="M110.75,336h1.3v1h-1.3zM110.75,338h1.3v1h-1.3zM110.75,340h1.3v1h-1.3zM110.75,342h1.3v1h-1.3zM110.75,344h1.3v1h-1.3zM110.75,346h1.3v1h-1.3zM110.75,348h1.3v1h-1.3zM110.75,350h1.3v1h-1.3zM110.75,352h1.3v1h-1.3zM110.75,354h1.3v1h-1.3zM110.75,356h1.3v1h-1.3zM110.75,358h1.3v1h-1.3zM110.75,360h1.3v1h-1.3zM110.75,362h1.3v1h-1.3zM110.75,364h1.3v1h-1.3zM110.75,366h1.3v1h-1.3zM110.75,368h1.3v1h-1.3zM110.75,370h1.3v1h-1.3zM110.75,372h1.3v1h-1.3zM110.75,374h1.3v1h-1.3zM110.75,376h1.3v1h-1.3zM110.75,378h1.3v1h-1.3zM110.75,380h1.3v1h-1.3zM110.75,382h1.3v1h-1.3zM110.75,384h1.3v1h-1.3zM110.75,386h1.3v1h-1.3zM110.75,388h1.3v1h-1.3zM110.75,390h1.3v1h-1.3zM110.75,392h1.3v1h-1.3zM110.75,394h1.3v1h-1.3zM110.75,396h1.3v1h-1.3zM110.75,398h1.3v1h-1.3zM110.75,400h1.3v1h-1.3zM110.75,402h1.3v1h-1.3zM110.75,404h1.3v1h-1.3zM110.75,406h1.3v1h-1.3zM110.75,408h1.3v1h-1.3zM110.75,410h1.3v1h-1.3z" fill="#151515"/>
<text transform="translate(14.6,405.04) rotate(-90)" x="0" y="0" font-size="8.7" fill="#231f20" textLength="63.58" lengthAdjust="spacingAndGlyphs">Leukemic cells (%)</text>
<circle cx="42.4" cy="355.6" r="1.95" fill="#cc0014"/>
<circle cx="46" cy="357.2" r="1.95" fill="#cc0014"/>
<circle cx="43.4" cy="360.6" r="1.95" fill="#cc0014"/>
<circle cx="45.6" cy="365.2" r="1.95" fill="#cc0014"/>
<circle cx="43.4" cy="372.6" r="1.95" fill="#cc0014"/>
<line x1="44" y1="357" x2="44" y2="368.2" stroke="#cc0014" stroke-width="1" />
<line x1="39.9" y1="362.3" x2="48.1" y2="362.3" stroke="#000" stroke-width="1.3" />
<circle cx="80.7" cy="345.2" r="1.95" fill="#cc0014"/>
<circle cx="80.7" cy="351.2" r="1.95" fill="#cc0014"/>
<circle cx="78.6" cy="358" r="1.95" fill="#cc0014"/>
<circle cx="82.6" cy="358.4" r="1.95" fill="#cc0014"/>
<circle cx="80.7" cy="371.6" r="1.95" fill="#cc0014"/>
<line x1="80.7" y1="357.2" x2="80.7" y2="349" stroke="#cc0014" stroke-width="1" />
<line x1="78.7" y1="349" x2="82.7" y2="349" stroke="#cc0014" stroke-width="1" />
<line x1="80.7" y1="357.2" x2="80.7" y2="366.6" stroke="#cc0014" stroke-width="1" />
<line x1="78.7" y1="366.6" x2="82.7" y2="366.6" stroke="#cc0014" stroke-width="1" />
<line x1="76.5" y1="357.2" x2="84.9" y2="357.2" stroke="#000" stroke-width="1.3" />
<circle cx="116.8" cy="364.2" r="1.95" fill="#cc0014"/>
<circle cx="116.8" cy="383.3" r="1.95" fill="#cc0014"/>
<circle cx="114.8" cy="390" r="1.95" fill="#cc0014"/>
<circle cx="118.8" cy="392" r="1.95" fill="#cc0014"/>
<circle cx="116.8" cy="402" r="1.95" fill="#cc0014"/>
<line x1="117" y1="386.3" x2="117" y2="372.2" stroke="#cc0014" stroke-width="1" />
<line x1="115" y1="372.2" x2="119" y2="372.2" stroke="#cc0014" stroke-width="1" />
<line x1="117" y1="386.3" x2="117" y2="398.4" stroke="#cc0014" stroke-width="1" />
<line x1="115" y1="398.4" x2="119" y2="398.4" stroke="#cc0014" stroke-width="1" />
<line x1="112.6" y1="386.3" x2="121.8" y2="386.3" stroke="#000" stroke-width="1.3" />
<polygon points="52.6,409.33 50.4,413.27 54.8,413.27" fill="#0033aa"/>
<polygon points="55,409.33 52.8,413.27 57.2,413.27" fill="#0033aa"/>
<polygon points="57.4,409.33 55.2,413.27 59.6,413.27" fill="#0033aa"/>
<line x1="52" y1="410.9" x2="58" y2="410.9" stroke="#000" stroke-width="0.9" />
<polygon points="89.6,409.33 87.4,413.27 91.8,413.27" fill="#0033aa"/>
<polygon points="92,409.33 89.8,413.27 94.2,413.27" fill="#0033aa"/>
<polygon points="94.4,409.33 92.2,413.27 96.6,413.27" fill="#0033aa"/>
<line x1="89" y1="410.9" x2="95" y2="410.9" stroke="#000" stroke-width="0.9" />
<polygon points="125.9,409.33 123.7,413.27 128.1,413.27" fill="#0033aa"/>
<polygon points="128.3,409.33 126.1,413.27 130.5,413.27" fill="#0033aa"/>
<polygon points="130.7,409.33 128.5,413.27 132.9,413.27" fill="#0033aa"/>
<line x1="125.3" y1="410.9" x2="131.3" y2="410.9" stroke="#000" stroke-width="0.9" />
<rect x="62" y="409.2" width="9.2" height="2.2" fill="#33ff00" />
<polygon points="64.4,411.2 68.8,411.2 66.6,413.4" fill="#33ff00"/>
<rect x="98.4" y="409.2" width="9.2" height="2.2" fill="#33ff00" />
<polygon points="100.8,411.2 105.2,411.2 103,413.4" fill="#33ff00"/>
<rect x="134.9" y="409.2" width="9.2" height="2.2" fill="#33ff00" />
<polygon points="137.3,411.2 141.7,411.2 139.5,413.4" fill="#33ff00"/>
<line x1="41.1" y1="350.6" x2="64.4" y2="350.6" stroke="#000" stroke-width="1.1" />
<circle cx="47.6" cy="347.9" r="1" fill="#111"/>
<circle cx="51" cy="347.9" r="1" fill="#111"/>
<circle cx="54.4" cy="347.9" r="1" fill="#111"/>
<circle cx="57.8" cy="347.9" r="1" fill="#111"/>
<line x1="80" y1="339.7" x2="102.8" y2="339.7" stroke="#000" stroke-width="1.1" />
<circle cx="86.3" cy="337.5" r="1" fill="#111"/>
<circle cx="89.7" cy="337.5" r="1" fill="#111"/>
<circle cx="93.1" cy="337.5" r="1" fill="#111"/>
<circle cx="96.5" cy="337.5" r="1" fill="#111"/>
<line x1="117.7" y1="358.2" x2="128.3" y2="358.2" stroke="#000" stroke-width="1.1" />
<circle cx="121.5" cy="356" r="1" fill="#111"/>
<circle cx="124.5" cy="356" r="1" fill="#111"/>
<line x1="117.7" y1="352.7" x2="137.4" y2="352.7" stroke="#000" stroke-width="1.1" />
<circle cx="127.5" cy="350.2" r="1" fill="#111"/>
<text x="55.3" y="425" font-size="8.69" text-anchor="middle" font-weight="normal" fill="#231f20"  textLength="18.78" lengthAdjust="spacingAndGlyphs">Bone</text>
<text x="55.4" y="434.4" font-size="8.69" text-anchor="middle" font-weight="normal" fill="#231f20"  textLength="27.58" lengthAdjust="spacingAndGlyphs">marrow</text>
<text x="91.75" y="425" font-size="8.69" text-anchor="middle" font-weight="normal" fill="#231f20"  textLength="25.28" lengthAdjust="spacingAndGlyphs">Spleen</text>
<text x="128.2" y="425" font-size="8.69" text-anchor="middle" font-weight="normal" fill="#231f20"  textLength="37.08" lengthAdjust="spacingAndGlyphs">Peripheral</text>
<text x="128.4" y="434.4" font-size="8.69" text-anchor="middle" font-weight="normal" fill="#231f20"  textLength="19.98" lengthAdjust="spacingAndGlyphs">blood</text>
<text x="151.8" y="324.5" font-size="11.2" text-anchor="start" font-weight="bold" fill="#000"  textLength="7.21" lengthAdjust="spacingAndGlyphs">F</text>
<line x1="184.6" y1="326.5" x2="184.6" y2="411" stroke="#000" stroke-width="1.2" />
<line x1="181.4" y1="330.9" x2="184.6" y2="330.9" stroke="#000" stroke-width="1.1" />
<text x="178.6" y="333.7" font-size="8.58" text-anchor="end" font-weight="normal" fill="#231f20"  textLength="12.77" lengthAdjust="spacingAndGlyphs">100</text>
<line x1="181.4" y1="350.92" x2="184.6" y2="350.92" stroke="#000" stroke-width="1.1" />
<text x="178.6" y="353.72" font-size="8.58" text-anchor="end" font-weight="normal" fill="#231f20"  textLength="8.77" lengthAdjust="spacingAndGlyphs">75</text>
<line x1="181.4" y1="370.95" x2="184.6" y2="370.95" stroke="#000" stroke-width="1.1" />
<text x="178.6" y="373.75" font-size="8.58" text-anchor="end" font-weight="normal" fill="#231f20"  textLength="8.77" lengthAdjust="spacingAndGlyphs">50</text>
<line x1="181.4" y1="390.98" x2="184.6" y2="390.98" stroke="#000" stroke-width="1.1" />
<text x="178.6" y="393.78" font-size="8.58" text-anchor="end" font-weight="normal" fill="#231f20"  textLength="8.77" lengthAdjust="spacingAndGlyphs">25</text>
<line x1="181.4" y1="411" x2="184.6" y2="411" stroke="#000" stroke-width="1.1" />
<text x="178.6" y="413.8" font-size="8.58" text-anchor="end" font-weight="normal" fill="#231f20"  textLength="4.67" lengthAdjust="spacingAndGlyphs">0</text>
<line x1="184.6" y1="411" x2="326.1" y2="411" stroke="#000" stroke-width="1.3" />
<line x1="184.6" y1="411" x2="184.6" y2="414.3" stroke="#000" stroke-width="1" />
<text x="184.6" y="422.8" font-size="8.58" text-anchor="middle" font-weight="normal" fill="#231f20"  textLength="4.57" lengthAdjust="spacingAndGlyphs">0</text>
<line x1="202.1" y1="411" x2="202.1" y2="414.3" stroke="#000" stroke-width="1" />
<text x="202.1" y="422.8" font-size="8.58" text-anchor="middle" font-weight="normal" fill="#231f20"  textLength="4.57" lengthAdjust="spacingAndGlyphs">7</text>
<line x1="219.6" y1="411" x2="219.6" y2="414.3" stroke="#000" stroke-width="1" />
<text x="219.6" y="422.8" font-size="8.58" text-anchor="middle" font-weight="normal" fill="#231f20"  textLength="9.37" lengthAdjust="spacingAndGlyphs">14</text>
<line x1="237.1" y1="411" x2="237.1" y2="414.3" stroke="#000" stroke-width="1" />
<text x="237.1" y="422.8" font-size="8.58" text-anchor="middle" font-weight="normal" fill="#231f20"  textLength="9.37" lengthAdjust="spacingAndGlyphs">21</text>
<line x1="254.6" y1="411" x2="254.6" y2="414.3" stroke="#000" stroke-width="1" />
<text x="254.6" y="422.8" font-size="8.58" text-anchor="middle" font-weight="normal" fill="#231f20"  textLength="9.37" lengthAdjust="spacingAndGlyphs">28</text>
<line x1="272.1" y1="411" x2="272.1" y2="414.3" stroke="#000" stroke-width="1" />
<text x="272.1" y="422.8" font-size="8.58" text-anchor="middle" font-weight="normal" fill="#231f20"  textLength="9.37" lengthAdjust="spacingAndGlyphs">35</text>
<line x1="289.6" y1="411" x2="289.6" y2="414.3" stroke="#000" stroke-width="1" />
<text x="289.6" y="422.8" font-size="8.58" text-anchor="middle" font-weight="normal" fill="#231f20"  textLength="9.37" lengthAdjust="spacingAndGlyphs">42</text>
<line x1="307.1" y1="411" x2="307.1" y2="414.3" stroke="#000" stroke-width="1" />
<text x="307.1" y="422.8" font-size="8.58" text-anchor="middle" font-weight="normal" fill="#231f20"  textLength="9.37" lengthAdjust="spacingAndGlyphs">49</text>
<line x1="324.6" y1="411" x2="324.6" y2="414.3" stroke="#000" stroke-width="1" />
<text x="324.6" y="422.8" font-size="8.58" text-anchor="middle" font-weight="normal" fill="#231f20"  textLength="9.37" lengthAdjust="spacingAndGlyphs">56</text>
<text transform="translate(160.3,401.97) rotate(-90)" x="0" y="0" font-size="9.4" fill="#231f20" textLength="65.75" lengthAdjust="spacingAndGlyphs">Overall survival (%)</text>
<text x="207.4" y="436.6" font-size="8.58" text-anchor="start" font-weight="normal" fill="#231f20"  textLength="94.47" lengthAdjust="spacingAndGlyphs">Days after tumor inoculation</text>
<path d="M185.6,330.2h1.6v1.8h-1.6zM188.8,330.2h1.6v1.8h-1.6zM194.7,330.2h1.6v1.8h-1.6zM197.9,330.2h1.6v1.8h-1.6zM200.6,330.2h1.6v1.8h-1.6zM203.8,330.2h1.6v1.8h-1.6zM209.7,330.2h1.6v1.8h-1.6zM212.9,330.2h1.6v1.8h-1.6zM215.6,330.2h1.6v1.8h-1.6zM218.8,330.2h1.6v1.8h-1.6zM224.7,330.2h1.6v1.8h-1.6zM227.9,330.2h1.6v1.8h-1.6zM230.6,330.2h1.6v1.8h-1.6zM233.8,330.2h1.6v1.8h-1.6zM239.7,330.2h1.6v1.8h-1.6zM242.9,330.2h1.6v1.8h-1.6zM245.6,330.2h1.6v1.8h-1.6zM248.8,330.2h1.6v1.8h-1.6zM254.7,330.2h1.6v1.8h-1.6zM257.9,330.2h1.6v1.8h-1.6zM260.6,330.2h1.6v1.8h-1.6zM263.8,330.2h1.6v1.8h-1.6zM269.7,330.2h1.6v1.8h-1.6zM272.9,330.2h1.6v1.8h-1.6zM275.6,330.2h1.6v1.8h-1.6zM278.8,330.2h1.6v1.8h-1.6zM284.7,330.2h1.6v1.8h-1.6zM287.9,330.2h1.6v1.8h-1.6zM290.6,330.2h1.6v1.8h-1.6zM293.8,330.2h1.6v1.8h-1.6zM299.7,330.2h1.6v1.8h-1.6zM302.9,330.2h1.6v1.8h-1.6zM305.6,330.2h1.6v1.8h-1.6zM308.8,330.2h1.6v1.8h-1.6zM314.7,330.2h1.6v1.8h-1.6zM317.9,330.2h1.6v1.8h-1.6zM320.6,330.2h1.6v1.8h-1.6z" fill="#33ff00"/>
<path d="M187.2,330.2h1.6v1.8h-1.6zM190.4,330.2h1.6v1.8h-1.6zM193.1,330.2h1.6v1.8h-1.6zM196.3,330.2h1.6v1.8h-1.6zM202.2,330.2h1.6v1.8h-1.6zM205.4,330.2h1.6v1.8h-1.6zM208.1,330.2h1.6v1.8h-1.6zM211.3,330.2h1.6v1.8h-1.6zM217.2,330.2h1.6v1.8h-1.6zM220.4,330.2h1.6v1.8h-1.6zM223.1,330.2h1.6v1.8h-1.6zM226.3,330.2h1.6v1.8h-1.6zM232.2,330.2h1.6v1.8h-1.6zM235.4,330.2h1.6v1.8h-1.6zM238.1,330.2h1.6v1.8h-1.6zM241.3,330.2h1.6v1.8h-1.6zM247.2,330.2h1.6v1.8h-1.6zM250.4,330.2h1.6v1.8h-1.6zM253.1,330.2h1.6v1.8h-1.6zM256.3,330.2h1.6v1.8h-1.6zM262.2,330.2h1.6v1.8h-1.6zM265.4,330.2h1.6v1.8h-1.6zM268.1,330.2h1.6v1.8h-1.6zM271.3,330.2h1.6v1.8h-1.6zM277.2,330.2h1.6v1.8h-1.6zM280.4,330.2h1.6v1.8h-1.6zM283.1,330.2h1.6v1.8h-1.6zM286.3,330.2h1.6v1.8h-1.6zM292.2,330.2h1.6v1.8h-1.6zM295.4,330.2h1.6v1.8h-1.6zM298.1,330.2h1.6v1.8h-1.6zM301.3,330.2h1.6v1.8h-1.6zM307.2,330.2h1.6v1.8h-1.6zM310.4,330.2h1.6v1.8h-1.6zM313.1,330.2h1.6v1.8h-1.6zM316.3,330.2h1.6v1.8h-1.6zM322.2,330.2h1.6v1.8h-1.6z" fill="#0033aa"/>
<polygon points="324.6,332.69 322.5,328.91 326.7,328.91" fill="#33ff00"/>
<polygon points="324.6,329.63 322.4,333.57 326.8,333.57" fill="#0033aa"/>
<polyline points="184.6,330.1 227.1,330.1 227.1,411" fill="none" stroke="#d6000f" stroke-width="1.5" stroke-linejoin="miter"/>
<circle cx="227.1" cy="411" r="1.8" fill="#cc0014"/>
<circle cx="285.1" cy="325" r="1" fill="#111"/>
<circle cx="288.5" cy="325" r="1" fill="#111"/>
<circle cx="291.9" cy="325" r="1" fill="#111"/>
<circle cx="295.3" cy="325" r="1" fill="#111"/>
<line x1="269.2" y1="358.4" x2="279.6" y2="358.4" stroke="#cc0014" stroke-width="1.6" />
<circle cx="274.4" cy="358.4" r="1.9" fill="#cc0014"/>
<line x1="269.2" y1="369.6" x2="279.6" y2="369.6" stroke="#0033aa" stroke-width="1.5" stroke-dasharray="1,1.5"/>
<polygon points="274.4,367.5 272.4,371.1 276.4,371.1" fill="#0033aa"/>
<line x1="269.2" y1="380.9" x2="279.6" y2="380.9" stroke="#33ff00" stroke-width="1.5" stroke-dasharray="2,1"/>
<polygon points="274.4,382.9 272.4,379.3 276.4,379.3" fill="#33ff00"/>
<text x="283.4" y="361.1" font-size="8.03" text-anchor="start" font-weight="normal" fill="#231f20"  textLength="38.72" lengthAdjust="spacingAndGlyphs">UTD T-cells</text>
<text x="283.4" y="372.4" font-size="8.03" text-anchor="start" font-weight="normal" fill="#231f20"  textLength="42.72" lengthAdjust="spacingAndGlyphs">Siglec-6_28z</text>
<text x="283.4" y="383.6" font-size="8.03" text-anchor="start" font-weight="normal" fill="#231f20"  textLength="43.72" lengthAdjust="spacingAndGlyphs">Siglec-6_BBz</text>
<line x1="368" y1="326.2" x2="368" y2="411.2" stroke="#000" stroke-width="1.2" />
<line x1="364.8" y1="330.6" x2="368" y2="330.6" stroke="#000" stroke-width="1.1" />
<text x="362" y="333.4" font-size="8.58" text-anchor="end" font-weight="normal" fill="#231f20"  textLength="12.77" lengthAdjust="spacingAndGlyphs">100</text>
<line x1="364.8" y1="350.75" x2="368" y2="350.75" stroke="#000" stroke-width="1.1" />
<text x="362" y="353.55" font-size="8.58" text-anchor="end" font-weight="normal" fill="#231f20"  textLength="8.77" lengthAdjust="spacingAndGlyphs">75</text>
<line x1="364.8" y1="370.9" x2="368" y2="370.9" stroke="#000" stroke-width="1.1" />
<text x="362" y="373.7" font-size="8.58" text-anchor="end" font-weight="normal" fill="#231f20"  textLength="8.77" lengthAdjust="spacingAndGlyphs">50</text>
<line x1="364.8" y1="391.05" x2="368" y2="391.05" stroke="#000" stroke-width="1.1" />
<text x="362" y="393.85" font-size="8.58" text-anchor="end" font-weight="normal" fill="#231f20"  textLength="8.77" lengthAdjust="spacingAndGlyphs">25</text>
<line x1="364.8" y1="411.2" x2="368" y2="411.2" stroke="#000" stroke-width="1.1" />
<text x="362" y="414" font-size="8.58" text-anchor="end" font-weight="normal" fill="#231f20"  textLength="4.67" lengthAdjust="spacingAndGlyphs">0</text>
<line x1="368" y1="411.2" x2="510.84" y2="411.2" stroke="#000" stroke-width="1.3" />
<line x1="368" y1="411.2" x2="368" y2="414.5" stroke="#000" stroke-width="1" />
<text x="368" y="423" font-size="8.58" text-anchor="middle" font-weight="normal" fill="#231f20"  textLength="4.57" lengthAdjust="spacingAndGlyphs">0</text>
<line x1="385.67" y1="411.2" x2="385.67" y2="414.5" stroke="#000" stroke-width="1" />
<text x="385.67" y="423" font-size="8.58" text-anchor="middle" font-weight="normal" fill="#231f20"  textLength="4.57" lengthAdjust="spacingAndGlyphs">7</text>
<line x1="403.34" y1="411.2" x2="403.34" y2="414.5" stroke="#000" stroke-width="1" />
<text x="403.34" y="423" font-size="8.58" text-anchor="middle" font-weight="normal" fill="#231f20"  textLength="9.37" lengthAdjust="spacingAndGlyphs">14</text>
<line x1="421" y1="411.2" x2="421" y2="414.5" stroke="#000" stroke-width="1" />
<text x="421" y="423" font-size="8.58" text-anchor="middle" font-weight="normal" fill="#231f20"  textLength="9.37" lengthAdjust="spacingAndGlyphs">21</text>
<line x1="438.67" y1="411.2" x2="438.67" y2="414.5" stroke="#000" stroke-width="1" />
<text x="438.67" y="423" font-size="8.58" text-anchor="middle" font-weight="normal" fill="#231f20"  textLength="9.37" lengthAdjust="spacingAndGlyphs">28</text>
<line x1="456.34" y1="411.2" x2="456.34" y2="414.5" stroke="#000" stroke-width="1" />
<text x="456.34" y="423" font-size="8.58" text-anchor="middle" font-weight="normal" fill="#231f20"  textLength="9.37" lengthAdjust="spacingAndGlyphs">35</text>
<line x1="474.01" y1="411.2" x2="474.01" y2="414.5" stroke="#000" stroke-width="1" />
<text x="474.01" y="423" font-size="8.58" text-anchor="middle" font-weight="normal" fill="#231f20"  textLength="9.37" lengthAdjust="spacingAndGlyphs">42</text>
<line x1="491.68" y1="411.2" x2="491.68" y2="414.5" stroke="#000" stroke-width="1" />
<text x="491.68" y="423" font-size="8.58" text-anchor="middle" font-weight="normal" fill="#231f20"  textLength="9.37" lengthAdjust="spacingAndGlyphs">49</text>
<line x1="509.34" y1="411.2" x2="509.34" y2="414.5" stroke="#000" stroke-width="1" />
<text x="509.34" y="423" font-size="8.58" text-anchor="middle" font-weight="normal" fill="#231f20"  textLength="9.37" lengthAdjust="spacingAndGlyphs">56</text>
<text transform="translate(342.8,415.27) rotate(-90)" x="0" y="0" font-size="9.4" fill="#231f20" textLength="94.95" lengthAdjust="spacingAndGlyphs">Progression free survival (%)</text>
<text x="391.2" y="436.8" font-size="8.58" text-anchor="start" font-weight="normal" fill="#231f20"  textLength="94.97" lengthAdjust="spacingAndGlyphs">Days after tumor inoculation</text>
<path d="M369,329.9h1.6v1.8h-1.6zM372.2,329.9h1.6v1.8h-1.6zM378.1,329.9h1.6v1.8h-1.6zM381.3,329.9h1.6v1.8h-1.6zM384,329.9h1.6v1.8h-1.6zM387.2,329.9h1.6v1.8h-1.6zM393.1,329.9h1.6v1.8h-1.6zM396.3,329.9h1.6v1.8h-1.6zM399,329.9h1.6v1.8h-1.6zM402.2,329.9h1.6v1.8h-1.6zM408.1,329.9h1.6v1.8h-1.6zM411.3,329.9h1.6v1.8h-1.6zM414,329.9h1.6v1.8h-1.6zM417.2,329.9h1.6v1.8h-1.6zM423.1,329.9h1.6v1.8h-1.6zM426.3,329.9h1.6v1.8h-1.6zM429,329.9h1.6v1.8h-1.6zM432.2,329.9h1.6v1.8h-1.6zM438.1,329.9h1.6v1.8h-1.6zM441.3,329.9h1.6v1.8h-1.6zM444,329.9h1.6v1.8h-1.6zM447.2,329.9h1.6v1.8h-1.6zM453.1,329.9h1.6v1.8h-1.6zM456.3,329.9h1.6v1.8h-1.6zM459,329.9h1.6v1.8h-1.6zM462.2,329.9h1.6v1.8h-1.6zM468.1,329.9h1.6v1.8h-1.6zM471.3,329.9h1.6v1.8h-1.6zM474,329.9h1.6v1.8h-1.6zM477.2,329.9h1.6v1.8h-1.6zM483.1,329.9h1.6v1.8h-1.6zM486.3,329.9h1.6v1.8h-1.6zM489,329.9h1.6v1.8h-1.6zM492.2,329.9h1.6v1.8h-1.6zM498.1,329.9h1.6v1.8h-1.6zM501.3,329.9h1.6v1.8h-1.6zM504,329.9h1.6v1.8h-1.6zM507.2,329.9h1.6v1.8h-1.6z" fill="#33ff00"/>
<path d="M370.6,329.9h1.6v1.8h-1.6zM373.8,329.9h1.6v1.8h-1.6zM376.5,329.9h1.6v1.8h-1.6zM379.7,329.9h1.6v1.8h-1.6zM385.6,329.9h1.6v1.8h-1.6zM388.8,329.9h1.6v1.8h-1.6zM391.5,329.9h1.6v1.8h-1.6zM394.7,329.9h1.6v1.8h-1.6zM400.6,329.9h1.6v1.8h-1.6zM403.8,329.9h1.6v1.8h-1.6zM406.5,329.9h1.6v1.8h-1.6zM409.7,329.9h1.6v1.8h-1.6zM415.6,329.9h1.6v1.8h-1.6zM418.8,329.9h1.6v1.8h-1.6zM421.5,329.9h1.6v1.8h-1.6zM424.7,329.9h1.6v1.8h-1.6zM430.6,329.9h1.6v1.8h-1.6zM433.8,329.9h1.6v1.8h-1.6zM436.5,329.9h1.6v1.8h-1.6zM439.7,329.9h1.6v1.8h-1.6zM445.6,329.9h1.6v1.8h-1.6zM448.8,329.9h1.6v1.8h-1.6zM451.5,329.9h1.6v1.8h-1.6zM454.7,329.9h1.6v1.8h-1.6zM460.6,329.9h1.6v1.8h-1.6zM463.8,329.9h1.6v1.8h-1.6zM466.5,329.9h1.6v1.8h-1.6zM469.7,329.9h1.6v1.8h-1.6zM475.6,329.9h1.6v1.8h-1.6zM478.8,329.9h1.6v1.8h-1.6zM481.5,329.9h1.6v1.8h-1.6zM484.7,329.9h1.6v1.8h-1.6zM490.6,329.9h1.6v1.8h-1.6zM493.8,329.9h1.6v1.8h-1.6zM496.5,329.9h1.6v1.8h-1.6zM499.7,329.9h1.6v1.8h-1.6zM505.6,329.9h1.6v1.8h-1.6z" fill="#0033aa"/>
<path d="M508.59,332.8h1.5v1.4h-1.5zM508.59,335.8h1.5v1.4h-1.5zM508.59,338.8h1.5v1.4h-1.5zM508.59,341.8h1.5v1.4h-1.5zM508.59,344.8h1.5v1.4h-1.5zM508.59,347.8h1.5v1.4h-1.5z" fill="#0033aa"/>
<polygon points="509.34,350.11 507.24,353.88 511.44,353.88" fill="#0033aa"/>
<polygon points="509.34,332.99 507.24,329.21 511.44,329.21" fill="#33ff00"/>
<polyline points="368,329.8 410.91,329.8 410.91,411.2" fill="none" stroke="#d6000f" stroke-width="1.5" stroke-linejoin="miter"/>
<circle cx="410.91" cy="411.2" r="1.8" fill="#cc0014"/>
<circle cx="468.3" cy="324.7" r="1" fill="#111"/>
<circle cx="471.7" cy="324.7" r="1" fill="#111"/>
<circle cx="475.1" cy="324.7" r="1" fill="#111"/>
<circle cx="478.5" cy="324.7" r="1" fill="#111"/>
<line x1="446.9" y1="358.4" x2="457.3" y2="358.4" stroke="#cc0014" stroke-width="1.6" />
<circle cx="452.1" cy="358.4" r="1.9" fill="#cc0014"/>
<line x1="446.9" y1="369.6" x2="457.3" y2="369.6" stroke="#0033aa" stroke-width="1.5" stroke-dasharray="1,1.5"/>
<polygon points="452.1,367.5 450.1,371.1 454.1,371.1" fill="#0033aa"/>
<line x1="446.9" y1="380.9" x2="457.3" y2="380.9" stroke="#33ff00" stroke-width="1.5" stroke-dasharray="2,1"/>
<polygon points="452.1,382.9 450.1,379.3 454.1,379.3" fill="#33ff00"/>
<text x="461.1" y="361.1" font-size="8.03" text-anchor="start" font-weight="normal" fill="#231f20"  textLength="38.72" lengthAdjust="spacingAndGlyphs">UTD T-cells</text>
<text x="461.1" y="372.4" font-size="8.03" text-anchor="start" font-weight="normal" fill="#231f20"  textLength="42.72" lengthAdjust="spacingAndGlyphs">Siglec-6_28z</text>
<text x="461.1" y="383.6" font-size="8.03" text-anchor="start" font-weight="normal" fill="#231f20"  textLength="43.72" lengthAdjust="spacingAndGlyphs">Siglec-6_BBz</text>
</svg>
</body></html>
